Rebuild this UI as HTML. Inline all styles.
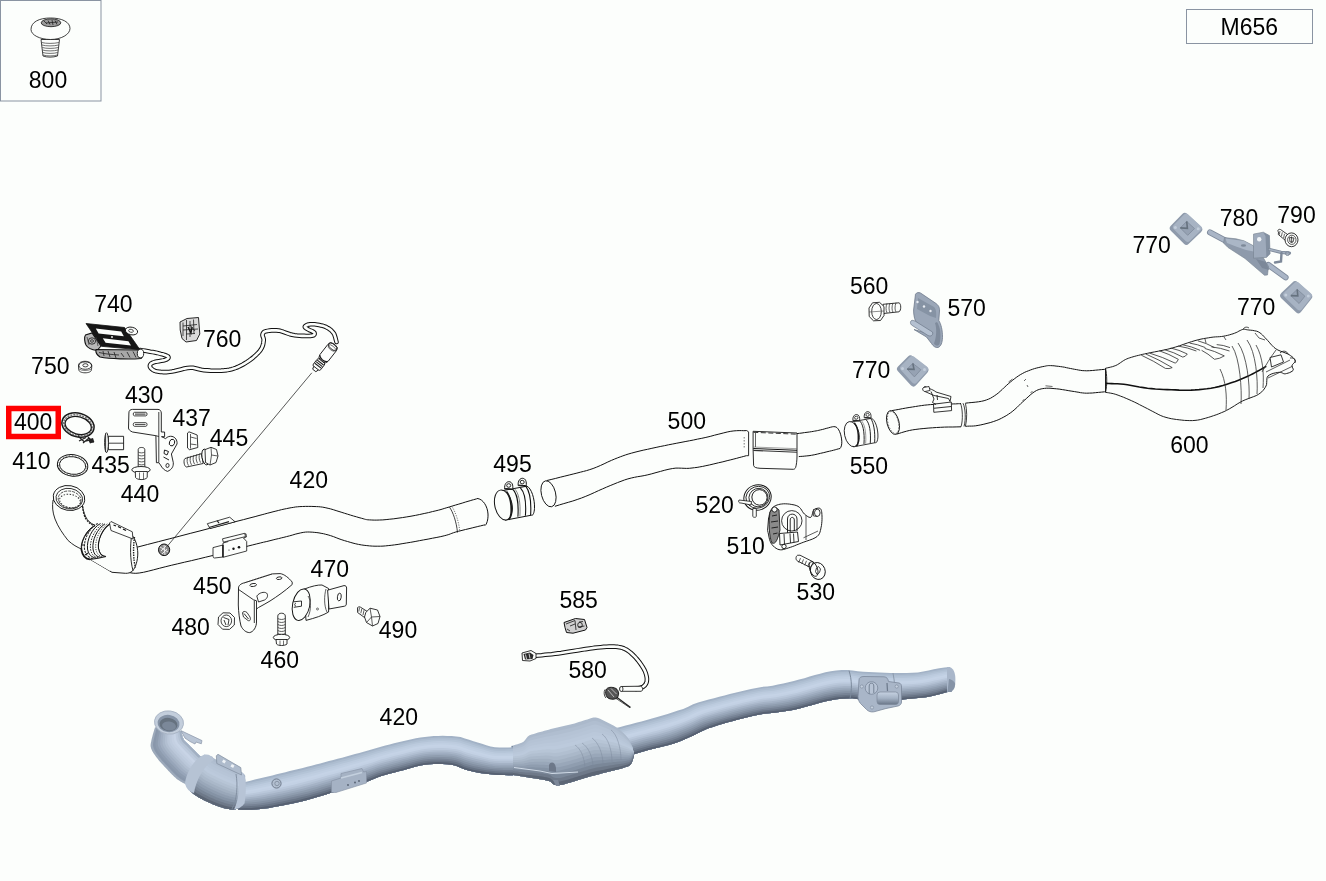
<!DOCTYPE html>
<html><head><meta charset="utf-8"><style>
html,body{margin:0;padding:0;background:#fcfefc;}
svg{position:absolute;left:0;top:0;display:block;}
</style></head><body>
<svg width="1326" height="881" viewBox="0 0 1326 881">
<defs><filter id="gs" x="-0.05" y="-0.05" width="1.1" height="1.1"><feOffset dx="0" dy="0"/></filter></defs><rect width="1326" height="881" fill="#fcfefc"/>
<defs><linearGradient id="cylg" x1="0" y1="0" x2="0" y2="1"><stop offset="0" stop-color="#c6d2e2"/><stop offset="0.5" stop-color="#a4b2c4"/><stop offset="1" stop-color="#6a7688"/></linearGradient></defs>
<polygon points="615.0,728.3 620.3,726.9 625.6,725.6 630.8,724.2 636.1,722.8 641.4,721.4 646.7,720.0 651.9,718.6 657.2,717.1 662.4,715.6 667.6,714.0 672.8,712.3 678.0,710.6 683.2,708.9 688.2,706.8 693.1,704.3 698.1,702.4 703.4,700.9 708.7,699.6 714.0,698.3 719.2,696.8 724.5,695.4 729.8,694.0 735.1,692.7 740.4,691.5 745.7,690.3 751.0,689.1 756.4,687.9 761.7,686.9 767.1,686.4 772.6,685.7 777.9,684.6 783.2,683.5 788.5,682.2 793.8,681.0 799.1,679.6 804.4,678.2 809.6,676.6 814.9,675.1 820.1,673.7 825.4,672.3 830.7,671.2 836.1,670.5 841.6,670.1 847.0,670.0 852.5,670.5 857.8,671.3 863.3,671.7 868.7,672.0 874.2,672.2 879.6,672.5 885.1,672.7 890.5,672.9 896.0,673.0 901.4,673.1 906.9,673.0 912.3,672.8 917.8,672.4 923.2,671.5 928.5,670.4 933.8,669.2 939.2,668.3 944.6,667.4 950.0,666.9 951.5,691.3 946.3,692.2 941.2,693.7 936.1,695.1 931.0,696.3 925.8,697.2 920.5,697.8 915.3,698.3 910.0,698.8 904.7,699.3 899.5,699.9 894.2,700.3 888.9,700.5 883.7,700.6 878.4,700.6 873.1,700.6 867.8,700.4 862.5,700.0 857.3,699.0 852.1,698.3 846.8,698.4 841.5,698.7 836.3,699.3 831.1,700.2 825.9,701.2 820.8,702.5 815.7,703.9 810.6,705.4 805.5,706.8 800.4,708.2 795.3,709.4 790.1,710.5 784.9,711.3 779.6,712.1 774.4,712.8 769.1,713.3 763.9,713.8 758.7,714.7 753.5,715.8 748.4,717.0 743.2,718.3 738.1,719.6 733.0,720.9 727.9,722.3 722.8,723.7 717.7,725.2 712.7,726.9 707.7,728.6 702.9,730.7 698.1,733.0 693.4,735.4 688.6,737.5 683.7,739.7 678.9,741.7 673.9,743.5 668.8,745.0 663.7,746.3 658.6,747.5 653.4,748.7 648.3,750.0 643.2,751.4 638.1,752.9 633.1,754.5 628.0,756.0" fill="#a2b2c6"/>
<polygon points="615.8,730.0 621.1,728.7 626.3,727.3 631.6,725.9 636.9,724.5 642.1,723.1 647.4,721.7 652.7,720.3 657.9,718.9 663.1,717.3 668.3,715.7 673.5,714.0 678.7,712.3 683.8,710.5 688.8,708.5 693.7,706.0 698.7,704.0 704.0,702.5 709.3,701.2 714.5,699.9 719.8,698.4 725.0,697.0 730.3,695.6 735.6,694.3 740.9,693.1 746.2,691.9 751.5,690.7 756.8,689.5 762.2,688.6 767.6,688.0 773.0,687.4 778.3,686.3 783.7,685.2 789.0,683.9 794.3,682.7 799.5,681.3 804.8,679.9 810.0,678.4 815.2,676.8 820.5,675.4 825.8,674.1 831.1,673.0 836.5,672.2 841.9,671.9 847.4,671.8 852.8,672.3 858.1,673.1 863.6,673.5 869.0,673.8 874.4,674.0 879.9,674.2 885.3,674.4 890.8,674.6 896.2,674.7 901.6,674.7 907.1,674.6 912.5,674.4 917.9,674.0 923.3,673.1 928.7,672.0 934.0,670.9 939.3,669.9 944.7,669.0 950.1,668.4 951.5,691.3 946.3,692.2 941.2,693.7 936.1,695.1 931.0,696.3 925.8,697.2 920.5,697.8 915.3,698.3 910.0,698.8 904.7,699.3 899.5,699.9 894.2,700.3 888.9,700.5 883.7,700.6 878.4,700.6 873.1,700.6 867.8,700.4 862.5,700.0 857.3,699.0 852.1,698.3 846.8,698.4 841.5,698.7 836.3,699.3 831.1,700.2 825.9,701.2 820.8,702.5 815.7,703.9 810.6,705.4 805.5,706.8 800.4,708.2 795.3,709.4 790.1,710.5 784.9,711.3 779.6,712.1 774.4,712.8 769.1,713.3 763.9,713.8 758.7,714.7 753.5,715.8 748.4,717.0 743.2,718.3 738.1,719.6 733.0,720.9 727.9,722.3 722.8,723.7 717.7,725.2 712.7,726.9 707.7,728.6 702.9,730.7 698.1,733.0 693.4,735.4 688.6,737.5 683.7,739.7 678.9,741.7 673.9,743.5 668.8,745.0 663.7,746.3 658.6,747.5 653.4,748.7 648.3,750.0 643.2,751.4 638.1,752.9 633.1,754.5 628.0,756.0" fill="#adbdd0"/>
<polygon points="616.6,731.8 621.9,730.4 627.1,729.0 632.4,727.6 637.6,726.2 642.9,724.8 648.1,723.5 653.4,722.1 658.6,720.6 663.8,719.1 669.0,717.4 674.2,715.8 679.3,714.0 684.4,712.2 689.5,710.1 694.3,707.6 699.3,705.7 704.6,704.2 709.8,702.8 715.1,701.4 720.3,700.0 725.6,698.6 730.8,697.2 736.1,695.9 741.4,694.7 746.7,693.5 752.0,692.3 757.3,691.2 762.6,690.2 768.1,689.7 773.4,689.0 778.8,688.0 784.1,686.9 789.4,685.6 794.7,684.4 799.9,683.0 805.2,681.6 810.4,680.1 815.6,678.6 820.8,677.1 826.1,675.8 831.4,674.7 836.8,674.0 842.2,673.6 847.7,673.5 853.1,674.1 858.4,674.9 863.8,675.3 869.3,675.6 874.7,675.8 880.1,676.0 885.6,676.2 891.0,676.3 896.4,676.4 901.8,676.3 907.3,676.2 912.7,676.0 918.1,675.5 923.5,674.7 928.8,673.7 934.1,672.5 939.4,671.4 944.8,670.5 950.2,670.0 951.5,691.3 946.3,692.2 941.2,693.7 936.1,695.1 931.0,696.3 925.8,697.2 920.5,697.8 915.3,698.3 910.0,698.8 904.7,699.3 899.5,699.9 894.2,700.3 888.9,700.5 883.7,700.6 878.4,700.6 873.1,700.6 867.8,700.4 862.5,700.0 857.3,699.0 852.1,698.3 846.8,698.4 841.5,698.7 836.3,699.3 831.1,700.2 825.9,701.2 820.8,702.5 815.7,703.9 810.6,705.4 805.5,706.8 800.4,708.2 795.3,709.4 790.1,710.5 784.9,711.3 779.6,712.1 774.4,712.8 769.1,713.3 763.9,713.8 758.7,714.7 753.5,715.8 748.4,717.0 743.2,718.3 738.1,719.6 733.0,720.9 727.9,722.3 722.8,723.7 717.7,725.2 712.7,726.9 707.7,728.6 702.9,730.7 698.1,733.0 693.4,735.4 688.6,737.5 683.7,739.7 678.9,741.7 673.9,743.5 668.8,745.0 663.7,746.3 658.6,747.5 653.4,748.7 648.3,750.0 643.2,751.4 638.1,752.9 633.1,754.5 628.0,756.0" fill="#b4c4d7"/>
<polygon points="617.4,733.5 622.7,732.1 627.9,730.7 633.2,729.3 638.4,727.9 643.6,726.5 648.9,725.2 654.1,723.8 659.4,722.3 664.6,720.8 669.7,719.2 674.9,717.5 680.0,715.7 685.1,713.8 690.1,711.8 694.9,709.3 699.9,707.3 705.1,705.8 710.4,704.4 715.6,703.0 720.9,701.6 726.1,700.2 731.3,698.8 736.6,697.5 741.9,696.3 747.2,695.1 752.5,693.9 757.8,692.8 763.1,691.8 768.5,691.3 773.9,690.7 779.2,689.7 784.5,688.5 789.8,687.3 795.1,686.1 800.3,684.7 805.6,683.3 810.8,681.8 816.0,680.3 821.2,678.8 826.5,677.5 831.8,676.5 837.2,675.8 842.6,675.4 848.0,675.3 853.4,675.8 858.7,676.7 864.1,677.1 869.5,677.3 875.0,677.6 880.4,677.7 885.8,677.9 891.2,678.0 896.6,678.0 902.1,678.0 907.5,677.8 912.9,677.6 918.3,677.1 923.7,676.3 929.0,675.3 934.3,674.1 939.6,673.0 944.9,672.1 950.3,671.5 951.5,691.3 946.3,692.2 941.2,693.7 936.1,695.1 931.0,696.3 925.8,697.2 920.5,697.8 915.3,698.3 910.0,698.8 904.7,699.3 899.5,699.9 894.2,700.3 888.9,700.5 883.7,700.6 878.4,700.6 873.1,700.6 867.8,700.4 862.5,700.0 857.3,699.0 852.1,698.3 846.8,698.4 841.5,698.7 836.3,699.3 831.1,700.2 825.9,701.2 820.8,702.5 815.7,703.9 810.6,705.4 805.5,706.8 800.4,708.2 795.3,709.4 790.1,710.5 784.9,711.3 779.6,712.1 774.4,712.8 769.1,713.3 763.9,713.8 758.7,714.7 753.5,715.8 748.4,717.0 743.2,718.3 738.1,719.6 733.0,720.9 727.9,722.3 722.8,723.7 717.7,725.2 712.7,726.9 707.7,728.6 702.9,730.7 698.1,733.0 693.4,735.4 688.6,737.5 683.7,739.7 678.9,741.7 673.9,743.5 668.8,745.0 663.7,746.3 658.6,747.5 653.4,748.7 648.3,750.0 643.2,751.4 638.1,752.9 633.1,754.5 628.0,756.0" fill="#bccbde"/>
<polygon points="618.2,735.2 623.5,733.8 628.7,732.4 633.9,731.0 639.2,729.6 644.4,728.2 649.6,726.9 654.9,725.5 660.1,724.1 665.3,722.6 670.4,720.9 675.6,719.2 680.6,717.4 685.7,715.5 690.7,713.4 695.5,710.9 700.5,708.9 705.7,707.4 711.0,706.0 716.2,704.6 721.4,703.2 726.6,701.8 731.9,700.4 737.1,699.1 742.4,697.9 747.7,696.6 752.9,695.5 758.2,694.4 763.6,693.5 769.0,693.0 774.3,692.3 779.6,691.3 784.9,690.2 790.2,689.0 795.5,687.8 800.7,686.4 805.9,685.0 811.1,683.5 816.3,682.0 821.6,680.6 826.8,679.3 832.1,678.3 837.5,677.5 842.9,677.2 848.3,677.1 853.7,677.6 859.0,678.5 864.4,678.9 869.8,679.1 875.2,679.3 880.6,679.5 886.0,679.6 891.5,679.7 896.9,679.7 902.3,679.6 907.7,679.5 913.1,679.2 918.5,678.7 923.8,678.0 929.1,676.9 934.4,675.7 939.7,674.6 945.0,673.6 950.4,673.0 951.5,691.3 946.3,692.2 941.2,693.7 936.1,695.1 931.0,696.3 925.8,697.2 920.5,697.8 915.3,698.3 910.0,698.8 904.7,699.3 899.5,699.9 894.2,700.3 888.9,700.5 883.7,700.6 878.4,700.6 873.1,700.6 867.8,700.4 862.5,700.0 857.3,699.0 852.1,698.3 846.8,698.4 841.5,698.7 836.3,699.3 831.1,700.2 825.9,701.2 820.8,702.5 815.7,703.9 810.6,705.4 805.5,706.8 800.4,708.2 795.3,709.4 790.1,710.5 784.9,711.3 779.6,712.1 774.4,712.8 769.1,713.3 763.9,713.8 758.7,714.7 753.5,715.8 748.4,717.0 743.2,718.3 738.1,719.6 733.0,720.9 727.9,722.3 722.8,723.7 717.7,725.2 712.7,726.9 707.7,728.6 702.9,730.7 698.1,733.0 693.4,735.4 688.6,737.5 683.7,739.7 678.9,741.7 673.9,743.5 668.8,745.0 663.7,746.3 658.6,747.5 653.4,748.7 648.3,750.0 643.2,751.4 638.1,752.9 633.1,754.5 628.0,756.0" fill="#c0cfe2"/>
<polygon points="619.1,737.0 624.3,735.5 629.5,734.1 634.7,732.7 639.9,731.3 645.1,730.0 650.4,728.6 655.6,727.3 660.8,725.8 666.0,724.3 671.1,722.6 676.2,720.9 681.3,719.1 686.4,717.2 691.3,715.0 696.1,712.6 701.1,710.6 706.3,709.0 711.5,707.6 716.7,706.2 722.0,704.8 727.2,703.4 732.4,702.0 737.6,700.7 742.9,699.5 748.1,698.2 753.4,697.1 758.7,696.0 764.0,695.1 769.4,694.6 774.8,694.0 780.1,693.0 785.4,691.9 790.6,690.7 795.9,689.5 801.1,688.1 806.3,686.7 811.5,685.2 816.7,683.7 821.9,682.3 827.2,681.0 832.5,680.0 837.8,679.3 843.2,678.9 848.6,678.9 854.0,679.4 859.3,680.3 864.7,680.7 870.1,680.9 875.5,681.1 880.9,681.3 886.3,681.4 891.7,681.4 897.1,681.4 902.5,681.2 907.9,681.1 913.3,680.8 918.6,680.3 924.0,679.6 929.3,678.5 934.5,677.3 939.8,676.2 945.1,675.1 950.5,674.5 951.5,691.3 946.3,692.2 941.2,693.7 936.1,695.1 931.0,696.3 925.8,697.2 920.5,697.8 915.3,698.3 910.0,698.8 904.7,699.3 899.5,699.9 894.2,700.3 888.9,700.5 883.7,700.6 878.4,700.6 873.1,700.6 867.8,700.4 862.5,700.0 857.3,699.0 852.1,698.3 846.8,698.4 841.5,698.7 836.3,699.3 831.1,700.2 825.9,701.2 820.8,702.5 815.7,703.9 810.6,705.4 805.5,706.8 800.4,708.2 795.3,709.4 790.1,710.5 784.9,711.3 779.6,712.1 774.4,712.8 769.1,713.3 763.9,713.8 758.7,714.7 753.5,715.8 748.4,717.0 743.2,718.3 738.1,719.6 733.0,720.9 727.9,722.3 722.8,723.7 717.7,725.2 712.7,726.9 707.7,728.6 702.9,730.7 698.1,733.0 693.4,735.4 688.6,737.5 683.7,739.7 678.9,741.7 673.9,743.5 668.8,745.0 663.7,746.3 658.6,747.5 653.4,748.7 648.3,750.0 643.2,751.4 638.1,752.9 633.1,754.5 628.0,756.0" fill="#c5d3e6"/>
<polygon points="619.9,738.7 625.1,737.3 630.3,735.8 635.5,734.4 640.7,733.0 645.9,731.7 651.1,730.3 656.3,729.0 661.5,727.6 666.7,726.0 671.8,724.4 676.9,722.6 682.0,720.7 687.0,718.8 691.9,716.7 696.7,714.2 701.7,712.2 706.9,710.6 712.1,709.2 717.3,707.8 722.5,706.4 727.7,705.0 732.9,703.6 738.1,702.3 743.4,701.1 748.6,699.8 753.9,698.7 759.2,697.6 764.5,696.8 769.9,696.3 775.2,695.6 780.5,694.7 785.8,693.6 791.1,692.4 796.3,691.2 801.5,689.8 806.7,688.4 811.9,686.9 817.1,685.4 822.3,684.0 827.5,682.8 832.8,681.8 838.2,681.1 843.5,680.7 848.9,680.6 854.3,681.2 859.6,682.1 865.0,682.5 870.4,682.7 875.8,682.9 881.1,683.0 886.5,683.1 891.9,683.1 897.3,683.1 902.7,682.9 908.1,682.7 913.4,682.4 918.8,681.9 924.1,681.2 929.4,680.1 934.7,678.9 940.0,677.8 945.2,676.7 950.6,676.0 951.5,691.3 946.3,692.2 941.2,693.7 936.1,695.1 931.0,696.3 925.8,697.2 920.5,697.8 915.3,698.3 910.0,698.8 904.7,699.3 899.5,699.9 894.2,700.3 888.9,700.5 883.7,700.6 878.4,700.6 873.1,700.6 867.8,700.4 862.5,700.0 857.3,699.0 852.1,698.3 846.8,698.4 841.5,698.7 836.3,699.3 831.1,700.2 825.9,701.2 820.8,702.5 815.7,703.9 810.6,705.4 805.5,706.8 800.4,708.2 795.3,709.4 790.1,710.5 784.9,711.3 779.6,712.1 774.4,712.8 769.1,713.3 763.9,713.8 758.7,714.7 753.5,715.8 748.4,717.0 743.2,718.3 738.1,719.6 733.0,720.9 727.9,722.3 722.8,723.7 717.7,725.2 712.7,726.9 707.7,728.6 702.9,730.7 698.1,733.0 693.4,735.4 688.6,737.5 683.7,739.7 678.9,741.7 673.9,743.5 668.8,745.0 663.7,746.3 658.6,747.5 653.4,748.7 648.3,750.0 643.2,751.4 638.1,752.9 633.1,754.5 628.0,756.0" fill="#c3d1e4"/>
<polygon points="620.7,740.4 625.9,739.0 631.1,737.5 636.2,736.1 641.4,734.7 646.6,733.4 651.9,732.1 657.1,730.7 662.3,729.3 667.4,727.8 672.5,726.1 677.6,724.3 682.6,722.4 687.6,720.5 692.6,718.3 697.4,715.9 702.3,713.9 707.5,712.3 712.7,710.8 717.8,709.4 723.0,708.0 728.2,706.6 733.4,705.2 738.6,703.9 743.9,702.6 749.1,701.4 754.4,700.3 759.7,699.2 765.0,698.4 770.3,697.9 775.7,697.3 781.0,696.3 786.2,695.3 791.5,694.1 796.7,692.9 801.9,691.5 807.1,690.1 812.3,688.6 817.5,687.1 822.6,685.7 827.9,684.5 833.2,683.5 838.5,682.8 843.9,682.5 849.3,682.4 854.6,683.0 859.9,683.9 865.3,684.3 870.6,684.5 876.0,684.6 881.4,684.8 886.8,684.8 892.1,684.9 897.5,684.8 902.9,684.5 908.3,684.3 913.6,684.0 919.0,683.5 924.3,682.8 929.6,681.8 934.8,680.6 940.1,679.4 945.3,678.2 950.7,677.6 951.5,691.3 946.3,692.2 941.2,693.7 936.1,695.1 931.0,696.3 925.8,697.2 920.5,697.8 915.3,698.3 910.0,698.8 904.7,699.3 899.5,699.9 894.2,700.3 888.9,700.5 883.7,700.6 878.4,700.6 873.1,700.6 867.8,700.4 862.5,700.0 857.3,699.0 852.1,698.3 846.8,698.4 841.5,698.7 836.3,699.3 831.1,700.2 825.9,701.2 820.8,702.5 815.7,703.9 810.6,705.4 805.5,706.8 800.4,708.2 795.3,709.4 790.1,710.5 784.9,711.3 779.6,712.1 774.4,712.8 769.1,713.3 763.9,713.8 758.7,714.7 753.5,715.8 748.4,717.0 743.2,718.3 738.1,719.6 733.0,720.9 727.9,722.3 722.8,723.7 717.7,725.2 712.7,726.9 707.7,728.6 702.9,730.7 698.1,733.0 693.4,735.4 688.6,737.5 683.7,739.7 678.9,741.7 673.9,743.5 668.8,745.0 663.7,746.3 658.6,747.5 653.4,748.7 648.3,750.0 643.2,751.4 638.1,752.9 633.1,754.5 628.0,756.0" fill="#bac8db"/>
<polygon points="621.5,742.1 626.7,740.7 631.8,739.3 637.0,737.8 642.2,736.4 647.4,735.1 652.6,733.8 657.8,732.5 663.0,731.1 668.1,729.5 673.2,727.8 678.3,726.0 683.3,724.1 688.3,722.1 693.2,719.9 698.0,717.5 702.9,715.5 708.1,713.9 713.2,712.4 718.4,711.0 723.6,709.6 728.8,708.2 733.9,706.8 739.2,705.5 744.4,704.2 749.6,703.0 754.9,701.9 760.1,700.8 765.4,700.1 770.8,699.6 776.1,698.9 781.4,698.0 786.7,697.0 791.9,695.8 797.1,694.6 802.3,693.2 807.5,691.8 812.7,690.3 817.8,688.8 823.0,687.4 828.2,686.2 833.5,685.3 838.8,684.6 844.2,684.2 849.6,684.2 854.9,684.8 860.2,685.7 865.5,686.0 870.9,686.3 876.3,686.4 881.6,686.5 887.0,686.6 892.4,686.6 897.7,686.5 903.1,686.2 908.4,685.9 913.8,685.6 919.2,685.1 924.5,684.4 929.8,683.4 935.0,682.2 940.2,681.0 945.4,679.8 950.8,679.1 951.5,691.3 946.3,692.2 941.2,693.7 936.1,695.1 931.0,696.3 925.8,697.2 920.5,697.8 915.3,698.3 910.0,698.8 904.7,699.3 899.5,699.9 894.2,700.3 888.9,700.5 883.7,700.6 878.4,700.6 873.1,700.6 867.8,700.4 862.5,700.0 857.3,699.0 852.1,698.3 846.8,698.4 841.5,698.7 836.3,699.3 831.1,700.2 825.9,701.2 820.8,702.5 815.7,703.9 810.6,705.4 805.5,706.8 800.4,708.2 795.3,709.4 790.1,710.5 784.9,711.3 779.6,712.1 774.4,712.8 769.1,713.3 763.9,713.8 758.7,714.7 753.5,715.8 748.4,717.0 743.2,718.3 738.1,719.6 733.0,720.9 727.9,722.3 722.8,723.7 717.7,725.2 712.7,726.9 707.7,728.6 702.9,730.7 698.1,733.0 693.4,735.4 688.6,737.5 683.7,739.7 678.9,741.7 673.9,743.5 668.8,745.0 663.7,746.3 658.6,747.5 653.4,748.7 648.3,750.0 643.2,751.4 638.1,752.9 633.1,754.5 628.0,756.0" fill="#b1bfd2"/>
<polygon points="622.3,743.9 627.5,742.4 632.6,741.0 637.8,739.5 643.0,738.1 648.1,736.8 653.3,735.5 658.5,734.2 663.7,732.8 668.9,731.3 673.9,729.6 679.0,727.7 683.9,725.8 688.9,723.8 693.8,721.6 698.6,719.2 703.5,717.1 708.6,715.5 713.8,714.0 718.9,712.6 724.1,711.2 729.3,709.8 734.5,708.4 739.7,707.1 744.9,705.8 750.1,704.6 755.3,703.5 760.6,702.5 765.9,701.7 771.2,701.2 776.5,700.5 781.8,699.7 787.1,698.7 792.3,697.5 797.5,696.3 802.7,694.9 807.9,693.5 813.0,692.0 818.2,690.5 823.4,689.2 828.6,688.0 833.9,687.0 839.2,686.4 844.5,686.0 849.9,685.9 855.2,686.5 860.5,687.5 865.8,687.8 871.2,688.1 876.5,688.2 881.9,688.3 887.3,688.3 892.6,688.3 898.0,688.1 903.3,687.8 908.6,687.5 914.0,687.1 919.3,686.7 924.6,686.0 929.9,685.0 935.1,683.8 940.3,682.6 945.5,681.3 950.8,680.6 951.5,691.3 946.3,692.2 941.2,693.7 936.1,695.1 931.0,696.3 925.8,697.2 920.5,697.8 915.3,698.3 910.0,698.8 904.7,699.3 899.5,699.9 894.2,700.3 888.9,700.5 883.7,700.6 878.4,700.6 873.1,700.6 867.8,700.4 862.5,700.0 857.3,699.0 852.1,698.3 846.8,698.4 841.5,698.7 836.3,699.3 831.1,700.2 825.9,701.2 820.8,702.5 815.7,703.9 810.6,705.4 805.5,706.8 800.4,708.2 795.3,709.4 790.1,710.5 784.9,711.3 779.6,712.1 774.4,712.8 769.1,713.3 763.9,713.8 758.7,714.7 753.5,715.8 748.4,717.0 743.2,718.3 738.1,719.6 733.0,720.9 727.9,722.3 722.8,723.7 717.7,725.2 712.7,726.9 707.7,728.6 702.9,730.7 698.1,733.0 693.4,735.4 688.6,737.5 683.7,739.7 678.9,741.7 673.9,743.5 668.8,745.0 663.7,746.3 658.6,747.5 653.4,748.7 648.3,750.0 643.2,751.4 638.1,752.9 633.1,754.5 628.0,756.0" fill="#a5b3c6"/>
<polygon points="623.1,745.6 628.3,744.1 633.4,742.7 638.6,741.2 643.7,739.8 648.9,738.5 654.1,737.2 659.3,735.9 664.5,734.6 669.6,733.0 674.6,731.3 679.6,729.4 684.6,727.5 689.6,725.4 694.4,723.2 699.2,720.8 704.1,718.8 709.2,717.1 714.4,715.6 719.5,714.2 724.7,712.8 729.8,711.3 735.0,710.0 740.2,708.7 745.4,707.4 750.6,706.2 755.8,705.1 761.1,704.1 766.4,703.4 771.7,702.9 777.0,702.2 782.3,701.3 787.5,700.4 792.8,699.2 798.0,698.0 803.1,696.6 808.3,695.2 813.4,693.7 818.6,692.2 823.7,690.9 828.9,689.7 834.2,688.8 839.5,688.1 844.9,687.8 850.2,687.7 855.5,688.3 860.8,689.2 866.1,689.6 871.5,689.8 876.8,690.0 882.1,690.0 887.5,690.1 892.8,690.0 898.2,689.8 903.5,689.4 908.8,689.1 914.2,688.7 919.5,688.2 924.8,687.6 930.1,686.6 935.3,685.4 940.5,684.1 945.7,682.9 950.9,682.1 951.5,691.3 946.3,692.2 941.2,693.7 936.1,695.1 931.0,696.3 925.8,697.2 920.5,697.8 915.3,698.3 910.0,698.8 904.7,699.3 899.5,699.9 894.2,700.3 888.9,700.5 883.7,700.6 878.4,700.6 873.1,700.6 867.8,700.4 862.5,700.0 857.3,699.0 852.1,698.3 846.8,698.4 841.5,698.7 836.3,699.3 831.1,700.2 825.9,701.2 820.8,702.5 815.7,703.9 810.6,705.4 805.5,706.8 800.4,708.2 795.3,709.4 790.1,710.5 784.9,711.3 779.6,712.1 774.4,712.8 769.1,713.3 763.9,713.8 758.7,714.7 753.5,715.8 748.4,717.0 743.2,718.3 738.1,719.6 733.0,720.9 727.9,722.3 722.8,723.7 717.7,725.2 712.7,726.9 707.7,728.6 702.9,730.7 698.1,733.0 693.4,735.4 688.6,737.5 683.7,739.7 678.9,741.7 673.9,743.5 668.8,745.0 663.7,746.3 658.6,747.5 653.4,748.7 648.3,750.0 643.2,751.4 638.1,752.9 633.1,754.5 628.0,756.0" fill="#9aa8bb"/>
<polygon points="623.9,747.3 629.1,745.9 634.2,744.4 639.3,742.9 644.5,741.5 649.6,740.2 654.8,738.9 660.0,737.7 665.2,736.3 670.3,734.8 675.3,733.0 680.3,731.1 685.3,729.1 690.2,727.1 695.0,724.8 699.8,722.5 704.7,720.4 709.8,718.7 714.9,717.2 720.1,715.8 725.2,714.4 730.3,712.9 735.5,711.6 740.7,710.3 745.9,709.0 751.1,707.8 756.3,706.7 761.5,705.7 766.8,705.0 772.1,704.5 777.4,703.8 782.7,703.0 787.9,702.0 793.2,700.9 798.4,699.7 803.5,698.3 808.7,696.9 813.8,695.4 818.9,694.0 824.1,692.6 829.3,691.5 834.6,690.5 839.9,689.9 845.2,689.5 850.5,689.5 855.8,690.1 861.1,691.0 866.4,691.4 871.7,691.6 877.1,691.7 882.4,691.8 887.7,691.8 893.1,691.7 898.4,691.5 903.7,691.1 909.0,690.7 914.4,690.3 919.7,689.8 925.0,689.2 930.2,688.2 935.4,687.0 940.6,685.7 945.8,684.4 951.0,683.7 951.5,691.3 946.3,692.2 941.2,693.7 936.1,695.1 931.0,696.3 925.8,697.2 920.5,697.8 915.3,698.3 910.0,698.8 904.7,699.3 899.5,699.9 894.2,700.3 888.9,700.5 883.7,700.6 878.4,700.6 873.1,700.6 867.8,700.4 862.5,700.0 857.3,699.0 852.1,698.3 846.8,698.4 841.5,698.7 836.3,699.3 831.1,700.2 825.9,701.2 820.8,702.5 815.7,703.9 810.6,705.4 805.5,706.8 800.4,708.2 795.3,709.4 790.1,710.5 784.9,711.3 779.6,712.1 774.4,712.8 769.1,713.3 763.9,713.8 758.7,714.7 753.5,715.8 748.4,717.0 743.2,718.3 738.1,719.6 733.0,720.9 727.9,722.3 722.8,723.7 717.7,725.2 712.7,726.9 707.7,728.6 702.9,730.7 698.1,733.0 693.4,735.4 688.6,737.5 683.7,739.7 678.9,741.7 673.9,743.5 668.8,745.0 663.7,746.3 658.6,747.5 653.4,748.7 648.3,750.0 643.2,751.4 638.1,752.9 633.1,754.5 628.0,756.0" fill="#8f9daf"/>
<polygon points="624.8,749.1 629.9,747.6 635.0,746.1 640.1,744.6 645.2,743.2 650.4,741.9 655.6,740.6 660.8,739.4 665.9,738.1 671.0,736.5 676.0,734.8 681.0,732.8 685.9,730.8 690.8,728.7 695.6,726.5 700.4,724.1 705.3,722.1 710.4,720.4 715.5,718.8 720.6,717.4 725.7,715.9 730.9,714.5 736.0,713.2 741.2,711.9 746.4,710.6 751.6,709.4 756.8,708.3 762.0,707.3 767.3,706.7 772.6,706.2 777.9,705.5 783.1,704.7 788.4,703.7 793.6,702.6 798.8,701.4 803.9,700.0 809.0,698.6 814.2,697.1 819.3,695.7 824.5,694.3 829.7,693.2 834.9,692.3 840.2,691.7 845.5,691.3 850.8,691.3 856.1,691.9 861.4,692.8 866.7,693.2 872.0,693.4 877.3,693.5 882.7,693.6 888.0,693.5 893.3,693.4 898.6,693.2 903.9,692.7 909.2,692.3 914.5,691.9 919.8,691.4 925.1,690.8 930.4,689.8 935.6,688.7 940.7,687.3 945.9,686.0 951.1,685.2 951.5,691.3 946.3,692.2 941.2,693.7 936.1,695.1 931.0,696.3 925.8,697.2 920.5,697.8 915.3,698.3 910.0,698.8 904.7,699.3 899.5,699.9 894.2,700.3 888.9,700.5 883.7,700.6 878.4,700.6 873.1,700.6 867.8,700.4 862.5,700.0 857.3,699.0 852.1,698.3 846.8,698.4 841.5,698.7 836.3,699.3 831.1,700.2 825.9,701.2 820.8,702.5 815.7,703.9 810.6,705.4 805.5,706.8 800.4,708.2 795.3,709.4 790.1,710.5 784.9,711.3 779.6,712.1 774.4,712.8 769.1,713.3 763.9,713.8 758.7,714.7 753.5,715.8 748.4,717.0 743.2,718.3 738.1,719.6 733.0,720.9 727.9,722.3 722.8,723.7 717.7,725.2 712.7,726.9 707.7,728.6 702.9,730.7 698.1,733.0 693.4,735.4 688.6,737.5 683.7,739.7 678.9,741.7 673.9,743.5 668.8,745.0 663.7,746.3 658.6,747.5 653.4,748.7 648.3,750.0 643.2,751.4 638.1,752.9 633.1,754.5 628.0,756.0" fill="#8491a3"/>
<polygon points="625.6,750.8 630.7,749.3 635.8,747.8 640.9,746.3 646.0,744.9 651.1,743.6 656.3,742.4 661.5,741.1 666.6,739.8 671.7,738.3 676.7,736.5 681.7,734.6 686.6,732.5 691.5,730.4 696.3,728.1 701.0,725.8 705.9,723.7 711.0,722.0 716.0,720.4 721.2,719.0 726.3,717.5 731.4,716.1 736.6,714.8 741.7,713.5 746.9,712.2 752.0,711.0 757.2,709.9 762.5,708.9 767.8,708.3 773.0,707.8 778.3,707.1 783.6,706.3 788.8,705.4 794.0,704.3 799.2,703.1 804.3,701.7 809.4,700.3 814.5,698.8 819.7,697.4 824.8,696.1 830.0,694.9 835.3,694.1 840.5,693.4 845.8,693.1 851.2,693.0 856.4,693.7 861.7,694.6 867.0,695.0 872.3,695.2 877.6,695.3 882.9,695.3 888.2,695.3 893.5,695.1 898.8,694.9 904.1,694.4 909.4,693.9 914.7,693.5 920.0,693.0 925.3,692.4 930.5,691.5 935.7,690.3 940.8,688.9 946.0,687.5 951.2,686.7 951.5,691.3 946.3,692.2 941.2,693.7 936.1,695.1 931.0,696.3 925.8,697.2 920.5,697.8 915.3,698.3 910.0,698.8 904.7,699.3 899.5,699.9 894.2,700.3 888.9,700.5 883.7,700.6 878.4,700.6 873.1,700.6 867.8,700.4 862.5,700.0 857.3,699.0 852.1,698.3 846.8,698.4 841.5,698.7 836.3,699.3 831.1,700.2 825.9,701.2 820.8,702.5 815.7,703.9 810.6,705.4 805.5,706.8 800.4,708.2 795.3,709.4 790.1,710.5 784.9,711.3 779.6,712.1 774.4,712.8 769.1,713.3 763.9,713.8 758.7,714.7 753.5,715.8 748.4,717.0 743.2,718.3 738.1,719.6 733.0,720.9 727.9,722.3 722.8,723.7 717.7,725.2 712.7,726.9 707.7,728.6 702.9,730.7 698.1,733.0 693.4,735.4 688.6,737.5 683.7,739.7 678.9,741.7 673.9,743.5 668.8,745.0 663.7,746.3 658.6,747.5 653.4,748.7 648.3,750.0 643.2,751.4 638.1,752.9 633.1,754.5 628.0,756.0" fill="#778395"/>
<polygon points="626.4,752.5 631.5,751.0 636.5,749.5 641.6,748.0 646.8,746.6 651.9,745.3 657.1,744.1 662.2,742.9 667.4,741.5 672.4,740.0 677.4,738.2 682.4,736.3 687.2,734.2 692.1,732.1 696.9,729.8 701.6,727.4 706.5,725.4 711.5,723.6 716.6,722.0 721.7,720.6 726.8,719.1 731.9,717.7 737.1,716.4 742.2,715.1 747.4,713.8 752.5,712.6 757.7,711.5 762.9,710.5 768.2,710.0 773.5,709.5 778.8,708.8 784.0,708.0 789.2,707.1 794.4,706.0 799.6,704.8 804.7,703.4 809.8,702.0 814.9,700.5 820.0,699.1 825.2,697.8 830.4,696.7 835.6,695.8 840.9,695.2 846.2,694.9 851.5,694.8 856.7,695.5 862.0,696.4 867.2,696.8 872.5,697.0 877.9,697.1 883.2,697.1 888.5,697.0 893.8,696.9 899.1,696.5 904.3,696.0 909.6,695.5 914.9,695.1 920.2,694.6 925.5,694.0 930.7,693.1 935.9,691.9 941.0,690.5 946.1,689.1 951.3,688.2 951.5,691.3 946.3,692.2 941.2,693.7 936.1,695.1 931.0,696.3 925.8,697.2 920.5,697.8 915.3,698.3 910.0,698.8 904.7,699.3 899.5,699.9 894.2,700.3 888.9,700.5 883.7,700.6 878.4,700.6 873.1,700.6 867.8,700.4 862.5,700.0 857.3,699.0 852.1,698.3 846.8,698.4 841.5,698.7 836.3,699.3 831.1,700.2 825.9,701.2 820.8,702.5 815.7,703.9 810.6,705.4 805.5,706.8 800.4,708.2 795.3,709.4 790.1,710.5 784.9,711.3 779.6,712.1 774.4,712.8 769.1,713.3 763.9,713.8 758.7,714.7 753.5,715.8 748.4,717.0 743.2,718.3 738.1,719.6 733.0,720.9 727.9,722.3 722.8,723.7 717.7,725.2 712.7,726.9 707.7,728.6 702.9,730.7 698.1,733.0 693.4,735.4 688.6,737.5 683.7,739.7 678.9,741.7 673.9,743.5 668.8,745.0 663.7,746.3 658.6,747.5 653.4,748.7 648.3,750.0 643.2,751.4 638.1,752.9 633.1,754.5 628.0,756.0" fill="#687485"/>
<polygon points="627.2,754.3 632.3,752.8 637.3,751.2 642.4,749.7 647.5,748.3 652.7,747.0 657.8,745.8 663.0,744.6 668.1,743.3 673.2,741.8 678.2,740.0 683.1,738.0 687.9,735.9 692.7,733.7 697.5,731.4 702.3,729.1 707.1,727.0 712.1,725.2 717.2,723.6 722.3,722.1 727.4,720.7 732.5,719.3 737.6,718.0 742.7,716.7 747.9,715.4 753.0,714.2 758.2,713.1 763.4,712.1 768.7,711.6 774.0,711.1 779.2,710.4 784.4,709.7 789.7,708.8 794.9,707.7 800.0,706.5 805.1,705.1 810.2,703.7 815.3,702.2 820.4,700.8 825.5,699.5 830.7,698.4 836.0,697.6 841.2,697.0 846.5,696.6 851.8,696.6 857.0,697.2 862.2,698.2 867.5,698.6 872.8,698.8 878.1,698.8 883.4,698.8 888.7,698.7 894.0,698.6 899.3,698.2 904.5,697.6 909.8,697.2 915.1,696.7 920.4,696.2 925.6,695.6 930.8,694.7 936.0,693.5 941.1,692.1 946.2,690.6 951.4,689.8 951.5,691.3 946.3,692.2 941.2,693.7 936.1,695.1 931.0,696.3 925.8,697.2 920.5,697.8 915.3,698.3 910.0,698.8 904.7,699.3 899.5,699.9 894.2,700.3 888.9,700.5 883.7,700.6 878.4,700.6 873.1,700.6 867.8,700.4 862.5,700.0 857.3,699.0 852.1,698.3 846.8,698.4 841.5,698.7 836.3,699.3 831.1,700.2 825.9,701.2 820.8,702.5 815.7,703.9 810.6,705.4 805.5,706.8 800.4,708.2 795.3,709.4 790.1,710.5 784.9,711.3 779.6,712.1 774.4,712.8 769.1,713.3 763.9,713.8 758.7,714.7 753.5,715.8 748.4,717.0 743.2,718.3 738.1,719.6 733.0,720.9 727.9,722.3 722.8,723.7 717.7,725.2 712.7,726.9 707.7,728.6 702.9,730.7 698.1,733.0 693.4,735.4 688.6,737.5 683.7,739.7 678.9,741.7 673.9,743.5 668.8,745.0 663.7,746.3 658.6,747.5 653.4,748.7 648.3,750.0 643.2,751.4 638.1,752.9 633.1,754.5 628.0,756.0" fill="#576172"/>
<path d="M947,667 C951.5,666.3 954.8,669.5 955.3,677 C955.7,684.5 954.6,689.8 951,691.5 L947,692 Z" fill="#a9b7ca"/>
<path d="M949,679 C952,679.5 955,682 955.2,684 C954.8,688.5 953.5,690.5 951,691.5 L947.5,692 Z" fill="#7d8b9d" opacity="0.8"/>
<path d="M849,670.5 C852,680 852,690 850,698.5" fill="none" stroke="#7c8a9c" stroke-width="1"/>
<path d="M893,673 C895,682 895,692 893.5,700.5" fill="none" stroke="#8c9aac" stroke-width="1"/>
<path d="M859,680 C859,677.5 861,676.5 864,676.5 L884,676.8 C887,677 888,679 888.5,681.5 L899,683 C901,683.5 901.5,685 901.5,687 L901.5,702 C901.5,704 900,705.5 898,706 L886,708.5 L874,711.8 C871,712.3 868.5,711.5 866.5,709.5 L860.5,703.5 C858.8,701.5 858,699 858,696.5 Z" fill="#a9b6c8" stroke="#7b889a" stroke-width="0.8"/>
<circle cx="871.5" cy="688" r="6.3" fill="#b8c4d5" stroke="#7b889a" stroke-width="0.8"/>
<path d="M869.2,694 L869.2,686 C869.2,682.3 873.8,682.3 873.8,686 L873.8,693" fill="none" stroke="#6d7a8c" stroke-width="0.9"/>
<rect x="877" y="692" width="21.5" height="12.5" rx="3" fill="url(#cylg)" stroke="#7b889a" stroke-width="0.7"/>
<path d="M887,683 L887.5,691" stroke="#6d7a8c" stroke-width="1.2"/>
<circle cx="861.8" cy="686.5" r="1.6" fill="#c5d0de" stroke="#7b889a" stroke-width="0.6"/>
<circle cx="896.7" cy="686.5" r="1.6" fill="#c5d0de" stroke="#7b889a" stroke-width="0.6"/>
<circle cx="872" cy="707.5" r="1.6" fill="#c5d0de" stroke="#7b889a" stroke-width="0.6"/>
<polygon points="511.0,746.0 513.1,745.4 515.3,744.8 517.4,744.2 519.5,743.6 521.6,742.8 523.5,741.7 525.1,740.1 526.4,738.3 527.8,736.6 529.5,735.2 531.6,734.5 533.7,733.9 535.9,733.2 538.0,732.6 540.1,732.0 542.3,731.4 544.4,730.8 546.6,730.3 548.7,729.7 550.8,729.1 553.0,728.5 555.1,728.0 557.3,727.4 559.4,726.9 561.6,726.4 563.8,725.9 565.9,725.5 568.1,725.0 570.3,724.5 572.4,724.0 574.6,723.4 576.7,722.8 578.8,722.1 580.9,721.5 583.0,720.8 585.2,720.1 587.3,719.4 589.4,718.7 591.5,717.9 593.6,717.4 595.8,717.4 598.0,718.0 600.0,718.8 602.0,719.7 604.0,720.7 606.0,721.7 608.0,722.7 610.0,723.7 611.9,724.8 613.9,725.8 615.8,726.9 617.7,728.1 619.4,729.5 621.1,730.9 622.8,732.4 624.4,733.9 625.9,735.5 627.4,737.2 628.7,739.0 629.8,740.9 630.7,742.9 631.6,745.0 632.5,747.0 634.0,756.0 633.3,758.0 632.7,760.1 632.0,762.1 631.0,763.9 629.6,765.5 627.7,766.4 625.7,767.1 623.6,767.8 621.6,768.4 619.5,768.9 617.5,769.5 615.4,770.0 613.4,770.5 611.3,771.1 609.2,771.6 607.2,772.1 605.1,772.6 603.0,773.1 601.0,773.6 598.9,774.2 596.9,774.7 594.8,775.2 592.7,775.7 590.7,776.3 588.6,776.8 586.6,777.4 584.5,778.0 582.5,778.7 580.5,779.3 578.4,779.9 576.4,780.6 574.4,781.2 572.3,781.8 570.3,782.4 568.3,783.0 566.2,783.6 564.2,784.2 562.1,784.7 560.0,785.1 557.9,785.3 555.8,785.1 553.8,784.5 552.1,783.2 550.7,781.6 548.8,780.9 546.7,780.4 544.6,779.9 542.5,779.6 540.4,779.3 538.3,778.9 536.2,778.6 534.1,778.3 532.0,778.0 529.9,777.7 527.8,777.3 525.7,777.0 523.6,776.6 521.5,776.3 519.4,775.9 517.3,775.6 515.2,775.2 513.1,774.9 511.0,774.5" fill="#abb9cb"/>
<polygon points="511.0,747.8 513.1,747.2 515.3,746.7 517.4,746.2 519.5,745.6 521.6,744.9 523.5,743.9 525.1,742.4 526.5,740.7 527.9,739.1 529.7,737.9 531.8,737.2 533.9,736.6 536.0,736.1 538.1,735.5 540.3,735.0 542.4,734.5 544.6,733.9 546.7,733.4 548.8,732.9 550.9,732.5 553.0,732.0 555.2,731.6 557.3,731.1 559.5,730.5 561.6,730.1 563.8,729.6 566.0,729.1 568.1,728.6 570.3,728.1 572.4,727.6 574.6,727.0 576.7,726.4 578.8,725.7 580.9,725.1 583.0,724.4 585.1,723.7 587.2,723.0 589.3,722.3 591.4,721.6 593.5,721.1 595.8,721.0 597.9,721.5 599.9,722.3 602.0,723.1 604.0,724.0 606.0,724.9 607.9,725.8 609.9,726.7 611.9,727.7 613.8,728.6 615.8,729.6 617.6,730.7 619.4,732.0 621.1,733.3 622.8,734.6 624.4,736.0 626.0,737.5 627.5,739.0 628.8,740.6 629.9,742.3 630.8,744.0 631.7,745.8 632.6,747.6 634.0,756.0 633.3,758.0 632.7,760.1 632.0,762.1 631.0,763.9 629.6,765.5 627.7,766.4 625.7,767.1 623.6,767.8 621.6,768.4 619.5,768.9 617.5,769.5 615.4,770.0 613.4,770.5 611.3,771.1 609.2,771.6 607.2,772.1 605.1,772.6 603.0,773.1 601.0,773.6 598.9,774.2 596.9,774.7 594.8,775.2 592.7,775.7 590.7,776.3 588.6,776.8 586.6,777.4 584.5,778.0 582.5,778.7 580.5,779.3 578.4,779.9 576.4,780.6 574.4,781.2 572.3,781.8 570.3,782.4 568.3,783.0 566.2,783.6 564.2,784.2 562.1,784.7 560.0,785.1 557.9,785.3 555.8,785.1 553.8,784.5 552.1,783.2 550.7,781.6 548.8,780.9 546.7,780.4 544.6,779.9 542.5,779.6 540.4,779.3 538.3,778.9 536.2,778.6 534.1,778.3 532.0,778.0 529.9,777.7 527.8,777.3 525.7,777.0 523.6,776.6 521.5,776.3 519.4,775.9 517.3,775.6 515.2,775.2 513.1,774.9 511.0,774.5" fill="#b0bed0"/>
<polygon points="511.0,749.6 513.1,749.1 515.3,748.6 517.4,748.1 519.5,747.6 521.6,747.0 523.5,746.0 525.2,744.7 526.6,743.2 528.0,741.7 529.8,740.6 531.9,740.0 534.0,739.4 536.2,738.9 538.3,738.4 540.4,738.0 542.6,737.5 544.7,737.0 546.8,736.6 548.9,736.2 551.0,735.9 553.1,735.5 555.2,735.1 557.4,734.7 559.5,734.2 561.7,733.7 563.8,733.2 566.0,732.7 568.1,732.2 570.3,731.7 572.4,731.2 574.5,730.6 576.7,730.0 578.8,729.4 580.9,728.7 583.0,728.0 585.1,727.3 587.2,726.6 589.3,726.0 591.4,725.2 593.5,724.7 595.7,724.6 597.8,725.1 599.9,725.7 601.9,726.5 603.9,727.3 605.9,728.1 607.9,728.9 609.9,729.7 611.8,730.5 613.8,731.4 615.7,732.3 617.6,733.3 619.4,734.4 621.2,735.6 622.9,736.8 624.5,738.1 626.1,739.4 627.7,740.7 629.0,742.1 630.0,743.6 630.9,745.1 631.8,746.6 632.7,748.1 634.0,756.0 633.3,758.0 632.7,760.1 632.0,762.1 631.0,763.9 629.6,765.5 627.7,766.4 625.7,767.1 623.6,767.8 621.6,768.4 619.5,768.9 617.5,769.5 615.4,770.0 613.4,770.5 611.3,771.1 609.2,771.6 607.2,772.1 605.1,772.6 603.0,773.1 601.0,773.6 598.9,774.2 596.9,774.7 594.8,775.2 592.7,775.7 590.7,776.3 588.6,776.8 586.6,777.4 584.5,778.0 582.5,778.7 580.5,779.3 578.4,779.9 576.4,780.6 574.4,781.2 572.3,781.8 570.3,782.4 568.3,783.0 566.2,783.6 564.2,784.2 562.1,784.7 560.0,785.1 557.9,785.3 555.8,785.1 553.8,784.5 552.1,783.2 550.7,781.6 548.8,780.9 546.7,780.4 544.6,779.9 542.5,779.6 540.4,779.3 538.3,778.9 536.2,778.6 534.1,778.3 532.0,778.0 529.9,777.7 527.8,777.3 525.7,777.0 523.6,776.6 521.5,776.3 519.4,775.9 517.3,775.6 515.2,775.2 513.1,774.9 511.0,774.5" fill="#b5c3d5"/>
<polygon points="511.0,751.3 513.1,750.9 515.3,750.5 517.4,750.1 519.5,749.6 521.6,749.1 523.5,748.2 525.2,747.0 526.6,745.6 528.2,744.3 530.0,743.2 532.1,742.7 534.2,742.2 536.3,741.8 538.4,741.4 540.6,740.9 542.7,740.5 544.8,740.1 547.0,739.7 549.1,739.4 551.1,739.2 553.1,739.0 555.3,738.7 557.4,738.3 559.5,737.8 561.7,737.3 563.8,736.9 566.0,736.4 568.1,735.9 570.3,735.4 572.4,734.8 574.5,734.2 576.6,733.6 578.7,733.0 580.8,732.3 582.9,731.6 585.0,730.9 587.1,730.3 589.2,729.6 591.3,728.9 593.4,728.4 595.6,728.2 597.7,728.6 599.8,729.2 601.8,729.8 603.8,730.5 605.9,731.2 607.8,732.0 609.8,732.7 611.8,733.4 613.8,734.2 615.7,735.0 617.6,735.9 619.4,736.9 621.2,738.0 622.9,739.0 624.6,740.2 626.2,741.3 627.8,742.5 629.1,743.7 630.2,744.9 631.1,746.2 631.9,747.4 632.8,748.7 634.0,756.0 633.3,758.0 632.7,760.1 632.0,762.1 631.0,763.9 629.6,765.5 627.7,766.4 625.7,767.1 623.6,767.8 621.6,768.4 619.5,768.9 617.5,769.5 615.4,770.0 613.4,770.5 611.3,771.1 609.2,771.6 607.2,772.1 605.1,772.6 603.0,773.1 601.0,773.6 598.9,774.2 596.9,774.7 594.8,775.2 592.7,775.7 590.7,776.3 588.6,776.8 586.6,777.4 584.5,778.0 582.5,778.7 580.5,779.3 578.4,779.9 576.4,780.6 574.4,781.2 572.3,781.8 570.3,782.4 568.3,783.0 566.2,783.6 564.2,784.2 562.1,784.7 560.0,785.1 557.9,785.3 555.8,785.1 553.8,784.5 552.1,783.2 550.7,781.6 548.8,780.9 546.7,780.4 544.6,779.9 542.5,779.6 540.4,779.3 538.3,778.9 536.2,778.6 534.1,778.3 532.0,778.0 529.9,777.7 527.8,777.3 525.7,777.0 523.6,776.6 521.5,776.3 519.4,775.9 517.3,775.6 515.2,775.2 513.1,774.9 511.0,774.5" fill="#b7c5d7"/>
<polygon points="511.0,753.1 513.1,752.7 515.3,752.4 517.4,752.1 519.5,751.7 521.6,751.2 523.5,750.4 525.2,749.3 526.7,748.1 528.3,746.8 530.1,745.9 532.2,745.4 534.3,745.0 536.5,744.7 538.6,744.3 540.7,743.9 542.9,743.6 545.0,743.2 547.1,742.9 549.2,742.7 551.2,742.6 553.2,742.5 555.3,742.3 557.4,741.9 559.6,741.5 561.7,741.0 563.9,740.5 566.0,740.0 568.1,739.5 570.3,739.0 572.4,738.4 574.5,737.8 576.6,737.2 578.7,736.6 580.8,735.9 582.9,735.2 585.0,734.6 587.1,733.9 589.2,733.2 591.3,732.5 593.4,732.0 595.6,731.9 597.7,732.2 599.7,732.7 601.8,733.2 603.8,733.8 605.8,734.4 607.8,735.0 609.8,735.7 611.8,736.3 613.7,737.0 615.7,737.7 617.6,738.5 619.4,739.4 621.2,740.3 623.0,741.3 624.7,742.2 626.4,743.2 627.9,744.3 629.3,745.2 630.3,746.2 631.2,747.2 632.0,748.2 632.9,749.2 634.0,756.0 633.3,758.0 632.7,760.1 632.0,762.1 631.0,763.9 629.6,765.5 627.7,766.4 625.7,767.1 623.6,767.8 621.6,768.4 619.5,768.9 617.5,769.5 615.4,770.0 613.4,770.5 611.3,771.1 609.2,771.6 607.2,772.1 605.1,772.6 603.0,773.1 601.0,773.6 598.9,774.2 596.9,774.7 594.8,775.2 592.7,775.7 590.7,776.3 588.6,776.8 586.6,777.4 584.5,778.0 582.5,778.7 580.5,779.3 578.4,779.9 576.4,780.6 574.4,781.2 572.3,781.8 570.3,782.4 568.3,783.0 566.2,783.6 564.2,784.2 562.1,784.7 560.0,785.1 557.9,785.3 555.8,785.1 553.8,784.5 552.1,783.2 550.7,781.6 548.8,780.9 546.7,780.4 544.6,779.9 542.5,779.6 540.4,779.3 538.3,778.9 536.2,778.6 534.1,778.3 532.0,778.0 529.9,777.7 527.8,777.3 525.7,777.0 523.6,776.6 521.5,776.3 519.4,775.9 517.3,775.6 515.2,775.2 513.1,774.9 511.0,774.5" fill="#bac8da"/>
<polygon points="511.0,754.9 513.1,754.6 515.3,754.3 517.4,754.0 519.5,753.7 521.6,753.3 523.5,752.6 525.3,751.6 526.8,750.5 528.4,749.4 530.3,748.6 532.4,748.2 534.5,747.8 536.6,747.5 538.7,747.2 540.9,746.9 543.0,746.6 545.1,746.3 547.2,746.1 549.3,745.9 551.2,746.0 553.2,746.0 555.3,745.8 557.5,745.5 559.6,745.1 561.8,744.6 563.9,744.1 566.0,743.6 568.2,743.1 570.3,742.6 572.4,742.0 574.5,741.5 576.6,740.8 578.7,740.2 580.8,739.5 582.9,738.9 585.0,738.2 587.0,737.5 589.1,736.9 591.2,736.2 593.3,735.6 595.5,735.5 597.6,735.7 599.7,736.1 601.7,736.6 603.7,737.1 605.7,737.6 607.7,738.1 609.7,738.7 611.7,739.2 613.7,739.8 615.7,740.4 617.6,741.1 619.4,741.8 621.3,742.6 623.0,743.5 624.8,744.3 626.5,745.2 628.1,746.0 629.4,746.8 630.5,747.5 631.3,748.3 632.1,749.1 633.0,749.8 634.0,756.0 633.3,758.0 632.7,760.1 632.0,762.1 631.0,763.9 629.6,765.5 627.7,766.4 625.7,767.1 623.6,767.8 621.6,768.4 619.5,768.9 617.5,769.5 615.4,770.0 613.4,770.5 611.3,771.1 609.2,771.6 607.2,772.1 605.1,772.6 603.0,773.1 601.0,773.6 598.9,774.2 596.9,774.7 594.8,775.2 592.7,775.7 590.7,776.3 588.6,776.8 586.6,777.4 584.5,778.0 582.5,778.7 580.5,779.3 578.4,779.9 576.4,780.6 574.4,781.2 572.3,781.8 570.3,782.4 568.3,783.0 566.2,783.6 564.2,784.2 562.1,784.7 560.0,785.1 557.9,785.3 555.8,785.1 553.8,784.5 552.1,783.2 550.7,781.6 548.8,780.9 546.7,780.4 544.6,779.9 542.5,779.6 540.4,779.3 538.3,778.9 536.2,778.6 534.1,778.3 532.0,778.0 529.9,777.7 527.8,777.3 525.7,777.0 523.6,776.6 521.5,776.3 519.4,775.9 517.3,775.6 515.2,775.2 513.1,774.9 511.0,774.5" fill="#bccadc"/>
<polygon points="511.0,756.7 513.1,756.4 515.2,756.2 517.4,756.0 519.5,755.7 521.6,755.3 523.5,754.8 525.3,753.9 526.9,752.9 528.6,752.0 530.4,751.2 532.5,750.9 534.7,750.6 536.8,750.4 538.9,750.1 541.0,749.9 543.1,749.6 545.3,749.4 547.4,749.2 549.5,749.2 551.3,749.4 553.3,749.5 555.4,749.4 557.5,749.1 559.7,748.7 561.8,748.3 563.9,747.8 566.0,747.3 568.2,746.7 570.3,746.2 572.4,745.7 574.5,745.1 576.6,744.4 578.7,743.8 580.8,743.2 582.8,742.5 584.9,741.8 587.0,741.1 589.1,740.5 591.2,739.8 593.3,739.3 595.4,739.1 597.5,739.2 599.6,739.6 601.6,740.0 603.7,740.4 605.7,740.8 607.7,741.2 609.7,741.7 611.7,742.1 613.7,742.6 615.7,743.1 617.6,743.6 619.5,744.3 621.3,745.0 623.1,745.7 624.9,746.4 626.6,747.1 628.2,747.8 629.6,748.4 630.6,748.9 631.4,749.4 632.2,749.9 633.1,750.4 634.0,756.0 633.3,758.0 632.7,760.1 632.0,762.1 631.0,763.9 629.6,765.5 627.7,766.4 625.7,767.1 623.6,767.8 621.6,768.4 619.5,768.9 617.5,769.5 615.4,770.0 613.4,770.5 611.3,771.1 609.2,771.6 607.2,772.1 605.1,772.6 603.0,773.1 601.0,773.6 598.9,774.2 596.9,774.7 594.8,775.2 592.7,775.7 590.7,776.3 588.6,776.8 586.6,777.4 584.5,778.0 582.5,778.7 580.5,779.3 578.4,779.9 576.4,780.6 574.4,781.2 572.3,781.8 570.3,782.4 568.3,783.0 566.2,783.6 564.2,784.2 562.1,784.7 560.0,785.1 557.9,785.3 555.8,785.1 553.8,784.5 552.1,783.2 550.7,781.6 548.8,780.9 546.7,780.4 544.6,779.9 542.5,779.6 540.4,779.3 538.3,778.9 536.2,778.6 534.1,778.3 532.0,778.0 529.9,777.7 527.8,777.3 525.7,777.0 523.6,776.6 521.5,776.3 519.4,775.9 517.3,775.6 515.2,775.2 513.1,774.9 511.0,774.5" fill="#b7c5d6"/>
<polygon points="511.0,758.5 513.1,758.3 515.2,758.1 517.4,757.9 519.5,757.7 521.6,757.4 523.5,757.0 525.3,756.2 527.0,755.4 528.7,754.5 530.6,753.9 532.7,753.6 534.8,753.4 536.9,753.2 539.0,753.0 541.2,752.8 543.3,752.7 545.4,752.5 547.5,752.4 549.6,752.4 551.4,752.8 553.3,753.0 555.4,753.0 557.6,752.8 559.7,752.4 561.8,751.9 563.9,751.4 566.1,750.9 568.2,750.4 570.3,749.8 572.4,749.3 574.5,748.7 576.6,748.1 578.7,747.4 580.7,746.8 582.8,746.1 584.9,745.4 587.0,744.8 589.0,744.1 591.1,743.5 593.2,742.9 595.4,742.7 597.5,742.8 599.5,743.0 601.6,743.3 603.6,743.6 605.6,744.0 607.6,744.3 609.7,744.7 611.7,745.0 613.6,745.4 615.6,745.8 617.6,746.2 619.5,746.8 621.3,747.3 623.1,747.9 624.9,748.5 626.7,749.0 628.3,749.6 629.7,749.9 630.7,750.2 631.6,750.4 632.3,750.7 633.2,750.9 634.0,756.0 633.3,758.0 632.7,760.1 632.0,762.1 631.0,763.9 629.6,765.5 627.7,766.4 625.7,767.1 623.6,767.8 621.6,768.4 619.5,768.9 617.5,769.5 615.4,770.0 613.4,770.5 611.3,771.1 609.2,771.6 607.2,772.1 605.1,772.6 603.0,773.1 601.0,773.6 598.9,774.2 596.9,774.7 594.8,775.2 592.7,775.7 590.7,776.3 588.6,776.8 586.6,777.4 584.5,778.0 582.5,778.7 580.5,779.3 578.4,779.9 576.4,780.6 574.4,781.2 572.3,781.8 570.3,782.4 568.3,783.0 566.2,783.6 564.2,784.2 562.1,784.7 560.0,785.1 557.9,785.3 555.8,785.1 553.8,784.5 552.1,783.2 550.7,781.6 548.8,780.9 546.7,780.4 544.6,779.9 542.5,779.6 540.4,779.3 538.3,778.9 536.2,778.6 534.1,778.3 532.0,778.0 529.9,777.7 527.8,777.3 525.7,777.0 523.6,776.6 521.5,776.3 519.4,775.9 517.3,775.6 515.2,775.2 513.1,774.9 511.0,774.5" fill="#b1bfd0"/>
<polygon points="511.0,760.2 513.1,760.1 515.2,760.0 517.4,759.9 519.5,759.7 521.6,759.5 523.6,759.1 525.4,758.5 527.1,757.8 528.8,757.1 530.8,756.6 532.8,756.4 535.0,756.2 537.1,756.1 539.2,755.9 541.3,755.8 543.4,755.7 545.5,755.6 547.7,755.6 549.7,755.7 551.5,756.1 553.4,756.5 555.5,756.5 557.6,756.4 559.7,756.0 561.9,755.6 564.0,755.0 566.1,754.5 568.2,754.0 570.3,753.5 572.4,752.9 574.5,752.3 576.6,751.7 578.6,751.0 580.7,750.4 582.8,749.7 584.8,749.1 586.9,748.4 589.0,747.8 591.1,747.1 593.2,746.6 595.3,746.3 597.4,746.3 599.5,746.5 601.5,746.7 603.5,746.9 605.6,747.2 607.6,747.4 609.6,747.7 611.6,747.9 613.6,748.2 615.6,748.5 617.6,748.8 619.5,749.2 621.3,749.7 623.2,750.1 625.0,750.5 626.8,751.0 628.5,751.3 629.9,751.5 630.9,751.5 631.7,751.5 632.4,751.5 633.2,751.5 634.0,756.0 633.3,758.0 632.7,760.1 632.0,762.1 631.0,763.9 629.6,765.5 627.7,766.4 625.7,767.1 623.6,767.8 621.6,768.4 619.5,768.9 617.5,769.5 615.4,770.0 613.4,770.5 611.3,771.1 609.2,771.6 607.2,772.1 605.1,772.6 603.0,773.1 601.0,773.6 598.9,774.2 596.9,774.7 594.8,775.2 592.7,775.7 590.7,776.3 588.6,776.8 586.6,777.4 584.5,778.0 582.5,778.7 580.5,779.3 578.4,779.9 576.4,780.6 574.4,781.2 572.3,781.8 570.3,782.4 568.3,783.0 566.2,783.6 564.2,784.2 562.1,784.7 560.0,785.1 557.9,785.3 555.8,785.1 553.8,784.5 552.1,783.2 550.7,781.6 548.8,780.9 546.7,780.4 544.6,779.9 542.5,779.6 540.4,779.3 538.3,778.9 536.2,778.6 534.1,778.3 532.0,778.0 529.9,777.7 527.8,777.3 525.7,777.0 523.6,776.6 521.5,776.3 519.4,775.9 517.3,775.6 515.2,775.2 513.1,774.9 511.0,774.5" fill="#aab8c9"/>
<polygon points="511.0,762.0 513.1,762.0 515.2,761.9 517.3,761.9 519.5,761.8 521.5,761.6 523.6,761.3 525.4,760.8 527.2,760.2 529.0,759.7 530.9,759.3 533.0,759.1 535.1,759.0 537.2,758.9 539.3,758.8 541.5,758.8 543.6,758.7 545.7,758.7 547.8,758.7 549.8,758.9 551.6,759.5 553.4,760.0 555.5,760.1 557.6,760.0 559.8,759.7 561.9,759.2 564.0,758.7 566.1,758.2 568.2,757.6 570.3,757.1 572.4,756.5 574.5,755.9 576.5,755.3 578.6,754.6 580.7,754.0 582.7,753.3 584.8,752.7 586.9,752.0 589.0,751.4 591.0,750.7 593.1,750.2 595.2,749.9 597.3,749.9 599.4,749.9 601.4,750.1 603.5,750.2 605.5,750.3 607.5,750.5 609.6,750.6 611.6,750.8 613.6,751.0 615.6,751.2 617.6,751.4 619.5,751.7 621.4,752.0 623.3,752.3 625.1,752.6 626.9,752.9 628.6,753.1 630.0,753.0 631.0,752.8 631.8,752.6 632.6,752.3 633.3,752.1 634.0,756.0 633.3,758.0 632.7,760.1 632.0,762.1 631.0,763.9 629.6,765.5 627.7,766.4 625.7,767.1 623.6,767.8 621.6,768.4 619.5,768.9 617.5,769.5 615.4,770.0 613.4,770.5 611.3,771.1 609.2,771.6 607.2,772.1 605.1,772.6 603.0,773.1 601.0,773.6 598.9,774.2 596.9,774.7 594.8,775.2 592.7,775.7 590.7,776.3 588.6,776.8 586.6,777.4 584.5,778.0 582.5,778.7 580.5,779.3 578.4,779.9 576.4,780.6 574.4,781.2 572.3,781.8 570.3,782.4 568.3,783.0 566.2,783.6 564.2,784.2 562.1,784.7 560.0,785.1 557.9,785.3 555.8,785.1 553.8,784.5 552.1,783.2 550.7,781.6 548.8,780.9 546.7,780.4 544.6,779.9 542.5,779.6 540.4,779.3 538.3,778.9 536.2,778.6 534.1,778.3 532.0,778.0 529.9,777.7 527.8,777.3 525.7,777.0 523.6,776.6 521.5,776.3 519.4,775.9 517.3,775.6 515.2,775.2 513.1,774.9 511.0,774.5" fill="#a2b0c1"/>
<polygon points="511.0,763.8 513.1,763.8 515.2,763.8 517.3,763.8 519.4,763.8 521.5,763.7 523.6,763.5 525.5,763.1 527.3,762.7 529.1,762.3 531.1,761.9 533.2,761.9 535.3,761.8 537.4,761.8 539.5,761.8 541.6,761.7 543.7,761.8 545.8,761.8 547.9,761.9 550.0,762.2 551.7,762.9 553.5,763.5 555.6,763.7 557.7,763.6 559.8,763.3 561.9,762.8 564.0,762.3 566.1,761.8 568.2,761.2 570.3,760.7 572.4,760.1 574.5,759.5 576.5,758.9 578.6,758.3 580.7,757.6 582.7,757.0 584.8,756.3 586.8,755.7 588.9,755.0 591.0,754.4 593.1,753.9 595.2,753.5 597.3,753.4 599.3,753.4 601.4,753.4 603.4,753.5 605.5,753.5 607.5,753.6 609.5,753.6 611.5,753.7 613.6,753.8 615.6,753.8 617.5,754.0 619.5,754.1 621.4,754.3 623.3,754.5 625.2,754.7 627.0,754.8 628.8,754.9 630.1,754.6 631.2,754.1 631.9,753.6 632.7,753.1 633.4,752.6 634.0,756.0 633.3,758.0 632.7,760.1 632.0,762.1 631.0,763.9 629.6,765.5 627.7,766.4 625.7,767.1 623.6,767.8 621.6,768.4 619.5,768.9 617.5,769.5 615.4,770.0 613.4,770.5 611.3,771.1 609.2,771.6 607.2,772.1 605.1,772.6 603.0,773.1 601.0,773.6 598.9,774.2 596.9,774.7 594.8,775.2 592.7,775.7 590.7,776.3 588.6,776.8 586.6,777.4 584.5,778.0 582.5,778.7 580.5,779.3 578.4,779.9 576.4,780.6 574.4,781.2 572.3,781.8 570.3,782.4 568.3,783.0 566.2,783.6 564.2,784.2 562.1,784.7 560.0,785.1 557.9,785.3 555.8,785.1 553.8,784.5 552.1,783.2 550.7,781.6 548.8,780.9 546.7,780.4 544.6,779.9 542.5,779.6 540.4,779.3 538.3,778.9 536.2,778.6 534.1,778.3 532.0,778.0 529.9,777.7 527.8,777.3 525.7,777.0 523.6,776.6 521.5,776.3 519.4,775.9 517.3,775.6 515.2,775.2 513.1,774.9 511.0,774.5" fill="#99a7b9"/>
<polygon points="511.0,765.6 513.1,765.6 515.2,765.7 517.3,765.8 519.4,765.8 521.5,765.8 523.6,765.7 525.5,765.4 527.3,765.1 529.2,764.8 531.2,764.6 533.3,764.6 535.4,764.6 537.5,764.6 539.6,764.7 541.8,764.7 543.9,764.8 546.0,764.9 548.1,765.0 550.1,765.4 551.7,766.3 553.5,767.0 555.6,767.3 557.7,767.2 559.8,766.9 562.0,766.5 564.0,766.0 566.1,765.4 568.2,764.9 570.3,764.3 572.4,763.7 574.4,763.1 576.5,762.5 578.6,761.9 580.6,761.2 582.7,760.6 584.7,759.9 586.8,759.3 588.9,758.7 590.9,758.0 593.0,757.5 595.1,757.1 597.2,757.0 599.3,756.9 601.3,756.8 603.4,756.7 605.4,756.7 607.4,756.7 609.5,756.6 611.5,756.6 613.5,756.6 615.5,756.5 617.5,756.6 619.5,756.6 621.4,756.7 623.4,756.7 625.3,756.8 627.1,756.7 628.9,756.6 630.3,756.2 631.3,755.5 632.1,754.7 632.8,753.9 633.5,753.2 634.0,756.0 633.3,758.0 632.7,760.1 632.0,762.1 631.0,763.9 629.6,765.5 627.7,766.4 625.7,767.1 623.6,767.8 621.6,768.4 619.5,768.9 617.5,769.5 615.4,770.0 613.4,770.5 611.3,771.1 609.2,771.6 607.2,772.1 605.1,772.6 603.0,773.1 601.0,773.6 598.9,774.2 596.9,774.7 594.8,775.2 592.7,775.7 590.7,776.3 588.6,776.8 586.6,777.4 584.5,778.0 582.5,778.7 580.5,779.3 578.4,779.9 576.4,780.6 574.4,781.2 572.3,781.8 570.3,782.4 568.3,783.0 566.2,783.6 564.2,784.2 562.1,784.7 560.0,785.1 557.9,785.3 555.8,785.1 553.8,784.5 552.1,783.2 550.7,781.6 548.8,780.9 546.7,780.4 544.6,779.9 542.5,779.6 540.4,779.3 538.3,778.9 536.2,778.6 534.1,778.3 532.0,778.0 529.9,777.7 527.8,777.3 525.7,777.0 523.6,776.6 521.5,776.3 519.4,775.9 517.3,775.6 515.2,775.2 513.1,774.9 511.0,774.5" fill="#8f9daf"/>
<polygon points="511.0,767.4 513.1,767.5 515.2,767.6 517.3,767.7 519.4,767.8 521.5,767.9 523.6,767.9 525.5,767.7 527.4,767.6 529.4,767.4 531.4,767.3 533.5,767.3 535.6,767.4 537.7,767.5 539.8,767.6 541.9,767.7 544.0,767.8 546.1,768.0 548.2,768.2 550.2,768.7 551.8,769.7 553.6,770.5 555.6,770.8 557.8,770.9 559.9,770.6 562.0,770.1 564.1,769.6 566.1,769.0 568.2,768.5 570.3,767.9 572.4,767.3 574.4,766.7 576.5,766.1 578.5,765.5 580.6,764.8 582.6,764.2 584.7,763.5 586.7,762.9 588.8,762.3 590.9,761.7 592.9,761.1 595.0,760.7 597.1,760.5 599.2,760.3 601.2,760.2 603.3,760.0 605.3,759.9 607.4,759.8 609.4,759.6 611.5,759.5 613.5,759.4 615.5,759.2 617.5,759.1 619.5,759.1 621.5,759.0 623.4,758.9 625.3,758.8 627.2,758.7 629.0,758.4 630.4,757.7 631.4,756.8 632.2,755.8 632.9,754.8 633.6,753.8 634.0,756.0 633.3,758.0 632.7,760.1 632.0,762.1 631.0,763.9 629.6,765.5 627.7,766.4 625.7,767.1 623.6,767.8 621.6,768.4 619.5,768.9 617.5,769.5 615.4,770.0 613.4,770.5 611.3,771.1 609.2,771.6 607.2,772.1 605.1,772.6 603.0,773.1 601.0,773.6 598.9,774.2 596.9,774.7 594.8,775.2 592.7,775.7 590.7,776.3 588.6,776.8 586.6,777.4 584.5,778.0 582.5,778.7 580.5,779.3 578.4,779.9 576.4,780.6 574.4,781.2 572.3,781.8 570.3,782.4 568.3,783.0 566.2,783.6 564.2,784.2 562.1,784.7 560.0,785.1 557.9,785.3 555.8,785.1 553.8,784.5 552.1,783.2 550.7,781.6 548.8,780.9 546.7,780.4 544.6,779.9 542.5,779.6 540.4,779.3 538.3,778.9 536.2,778.6 534.1,778.3 532.0,778.0 529.9,777.7 527.8,777.3 525.7,777.0 523.6,776.6 521.5,776.3 519.4,775.9 517.3,775.6 515.2,775.2 513.1,774.9 511.0,774.5" fill="#8593a5"/>
<polygon points="511.0,769.2 513.1,769.3 515.2,769.5 517.3,769.7 519.4,769.8 521.5,770.0 523.6,770.1 525.6,770.1 527.5,770.0 529.5,770.0 531.5,770.0 533.6,770.1 535.7,770.2 537.8,770.4 540.0,770.5 542.1,770.7 544.2,770.8 546.3,771.1 548.3,771.4 550.3,771.9 551.9,773.0 553.6,774.0 555.7,774.4 557.8,774.5 559.9,774.2 562.0,773.8 564.1,773.2 566.2,772.7 568.2,772.1 570.3,771.6 572.4,771.0 574.4,770.3 576.5,769.7 578.5,769.1 580.6,768.5 582.6,767.8 584.7,767.2 586.7,766.5 588.8,765.9 590.8,765.3 592.9,764.8 595.0,764.4 597.1,764.0 599.1,763.8 601.2,763.5 603.2,763.3 605.3,763.1 607.3,762.8 609.4,762.6 611.4,762.4 613.5,762.1 615.5,761.9 617.5,761.7 619.5,761.5 621.5,761.4 623.5,761.2 625.4,760.9 627.3,760.6 629.2,760.2 630.6,759.3 631.6,758.1 632.3,756.8 633.0,755.6 633.7,754.3 634.0,756.0 633.3,758.0 632.7,760.1 632.0,762.1 631.0,763.9 629.6,765.5 627.7,766.4 625.7,767.1 623.6,767.8 621.6,768.4 619.5,768.9 617.5,769.5 615.4,770.0 613.4,770.5 611.3,771.1 609.2,771.6 607.2,772.1 605.1,772.6 603.0,773.1 601.0,773.6 598.9,774.2 596.9,774.7 594.8,775.2 592.7,775.7 590.7,776.3 588.6,776.8 586.6,777.4 584.5,778.0 582.5,778.7 580.5,779.3 578.4,779.9 576.4,780.6 574.4,781.2 572.3,781.8 570.3,782.4 568.3,783.0 566.2,783.6 564.2,784.2 562.1,784.7 560.0,785.1 557.9,785.3 555.8,785.1 553.8,784.5 552.1,783.2 550.7,781.6 548.8,780.9 546.7,780.4 544.6,779.9 542.5,779.6 540.4,779.3 538.3,778.9 536.2,778.6 534.1,778.3 532.0,778.0 529.9,777.7 527.8,777.3 525.7,777.0 523.6,776.6 521.5,776.3 519.4,775.9 517.3,775.6 515.2,775.2 513.1,774.9 511.0,774.5" fill="#7a8798"/>
<polygon points="511.0,770.9 513.1,771.2 515.2,771.4 517.3,771.6 519.4,771.9 521.5,772.1 523.6,772.2 525.6,772.4 527.6,772.4 529.6,772.5 531.7,772.6 533.8,772.8 535.9,773.0 538.0,773.2 540.1,773.4 542.2,773.6 544.3,773.9 546.4,774.2 548.5,774.5 550.5,775.2 552.0,776.4 553.7,777.5 555.7,778.0 557.8,778.1 560.0,777.9 562.1,777.4 564.1,776.9 566.2,776.3 568.2,775.7 570.3,775.2 572.4,774.6 574.4,774.0 576.5,773.3 578.5,772.7 580.5,772.1 582.6,771.4 584.6,770.8 586.7,770.2 588.7,769.6 590.8,769.0 592.8,768.4 594.9,768.0 597.0,767.6 599.1,767.2 601.1,766.9 603.2,766.6 605.2,766.3 607.3,765.9 609.3,765.6 611.4,765.3 613.4,764.9 615.5,764.6 617.5,764.3 619.5,764.0 621.5,763.7 623.5,763.4 625.5,763.0 627.4,762.5 629.3,762.0 630.7,760.8 631.7,759.4 632.5,757.9 633.1,756.4 633.8,754.9 634.0,756.0 633.3,758.0 632.7,760.1 632.0,762.1 631.0,763.9 629.6,765.5 627.7,766.4 625.7,767.1 623.6,767.8 621.6,768.4 619.5,768.9 617.5,769.5 615.4,770.0 613.4,770.5 611.3,771.1 609.2,771.6 607.2,772.1 605.1,772.6 603.0,773.1 601.0,773.6 598.9,774.2 596.9,774.7 594.8,775.2 592.7,775.7 590.7,776.3 588.6,776.8 586.6,777.4 584.5,778.0 582.5,778.7 580.5,779.3 578.4,779.9 576.4,780.6 574.4,781.2 572.3,781.8 570.3,782.4 568.3,783.0 566.2,783.6 564.2,784.2 562.1,784.7 560.0,785.1 557.9,785.3 555.8,785.1 553.8,784.5 552.1,783.2 550.7,781.6 548.8,780.9 546.7,780.4 544.6,779.9 542.5,779.6 540.4,779.3 538.3,778.9 536.2,778.6 534.1,778.3 532.0,778.0 529.9,777.7 527.8,777.3 525.7,777.0 523.6,776.6 521.5,776.3 519.4,775.9 517.3,775.6 515.2,775.2 513.1,774.9 511.0,774.5" fill="#6e7989"/>
<polygon points="511.0,772.7 513.1,773.0 515.2,773.3 517.3,773.6 519.4,773.9 521.5,774.2 523.6,774.4 525.6,774.7 527.7,774.9 529.8,775.1 531.8,775.3 533.9,775.6 536.0,775.8 538.1,776.1 540.3,776.3 542.4,776.6 544.5,776.9 546.5,777.3 548.6,777.7 550.6,778.4 552.1,779.8 553.7,781.0 555.8,781.5 557.9,781.7 560.0,781.5 562.1,781.1 564.1,780.5 566.2,779.9 568.3,779.4 570.3,778.8 572.4,778.2 574.4,777.6 576.4,776.9 578.5,776.3 580.5,775.7 582.5,775.0 584.6,774.4 586.6,773.8 588.7,773.2 590.7,772.6 592.8,772.1 594.9,771.6 596.9,771.1 599.0,770.7 601.0,770.3 603.1,769.9 605.2,769.4 607.2,769.0 609.3,768.6 611.3,768.2 613.4,767.7 615.4,767.3 617.5,766.9 619.5,766.5 621.6,766.0 623.6,765.6 625.6,765.0 627.6,764.5 629.4,763.7 630.9,762.4 631.9,760.7 632.6,759.0 633.2,757.2 633.9,755.4 634.0,756.0 633.3,758.0 632.7,760.1 632.0,762.1 631.0,763.9 629.6,765.5 627.7,766.4 625.7,767.1 623.6,767.8 621.6,768.4 619.5,768.9 617.5,769.5 615.4,770.0 613.4,770.5 611.3,771.1 609.2,771.6 607.2,772.1 605.1,772.6 603.0,773.1 601.0,773.6 598.9,774.2 596.9,774.7 594.8,775.2 592.7,775.7 590.7,776.3 588.6,776.8 586.6,777.4 584.5,778.0 582.5,778.7 580.5,779.3 578.4,779.9 576.4,780.6 574.4,781.2 572.3,781.8 570.3,782.4 568.3,783.0 566.2,783.6 564.2,784.2 562.1,784.7 560.0,785.1 557.9,785.3 555.8,785.1 553.8,784.5 552.1,783.2 550.7,781.6 548.8,780.9 546.7,780.4 544.6,779.9 542.5,779.6 540.4,779.3 538.3,778.9 536.2,778.6 534.1,778.3 532.0,778.0 529.9,777.7 527.8,777.3 525.7,777.0 523.6,776.6 521.5,776.3 519.4,775.9 517.3,775.6 515.2,775.2 513.1,774.9 511.0,774.5" fill="#5c6675"/>
<path d="M575,745 C581,749 585,758 585,770" fill="none" stroke="#7d8a9c" stroke-width="0.6" opacity="0.8"/>
<path d="M582,743 C588,747 593,756 593,768" fill="none" stroke="#7d8a9c" stroke-width="0.6" opacity="0.8"/>
<path d="M592,738 C598,742 603,753 603,765" fill="none" stroke="#7d8a9c" stroke-width="0.6" opacity="0.8"/>
<path d="M602,734 C608,738 612,750 612,762" fill="none" stroke="#7d8a9c" stroke-width="0.6" opacity="0.8"/>
<path d="M611,730 C617,734 621,748 621,760" fill="none" stroke="#7d8a9c" stroke-width="0.6" opacity="0.8"/>
<path d="M512.5,746 L512.5,774" stroke="#7a889a" stroke-width="1"/>
<path d="M514,767.5 L540,771 L552,773.5 L578,772" fill="none" stroke="#d0dae6" stroke-width="1"/>
<path d="M549,765 C551,761 555,762 556,768 L556,772 L549,771Z" fill="#6d7889"/>
<path d="M553,780 L556,786 L560,786 L558,780Z" fill="#7d8899"/>
<polygon points="238.0,785.0 241.7,783.0 246.1,781.8 250.4,780.7 254.8,779.6 259.2,778.5 263.5,777.5 267.9,776.4 272.3,775.4 276.6,774.3 281.0,773.3 285.4,772.2 289.7,771.1 294.1,770.1 298.5,769.0 302.8,767.9 307.2,766.8 311.5,765.7 315.9,764.5 320.2,763.4 324.6,762.3 328.9,761.1 333.3,760.0 337.6,758.8 342.0,757.7 346.3,756.5 350.7,755.3 355.0,754.1 359.3,752.9 363.6,751.7 368.0,750.4 372.3,749.2 376.6,747.9 380.9,746.8 385.3,745.6 389.6,744.5 394.0,743.3 398.3,742.3 402.7,741.2 407.1,740.2 411.5,739.2 415.9,738.3 420.3,737.6 424.8,737.0 429.2,736.5 433.7,736.1 438.2,735.9 442.7,735.8 447.2,735.9 451.7,736.1 456.2,736.5 460.6,737.1 464.9,738.4 469.2,739.8 473.5,741.2 477.7,742.5 482.0,743.8 486.3,745.2 490.6,746.6 495.0,747.3 499.5,747.5 504.0,747.5 508.5,747.4 513.0,747.3 513.0,775.3 508.5,775.2 504.0,775.1 499.5,775.0 495.1,774.7 490.6,774.3 486.1,773.8 481.7,773.2 477.3,772.4 472.9,771.6 468.5,770.5 464.2,769.2 460.1,767.4 456.0,765.7 451.6,764.8 447.1,764.2 442.6,764.0 438.1,763.9 433.7,764.0 429.2,764.3 424.7,764.7 420.3,765.5 415.9,766.5 411.6,767.7 407.3,769.0 403.0,770.2 398.6,771.3 394.3,772.5 390.0,773.6 385.6,774.8 381.3,776.1 377.1,777.5 373.0,779.3 368.8,781.0 364.6,782.5 360.3,783.8 356.0,785.2 351.7,786.5 347.4,787.8 343.2,789.1 338.9,790.4 334.6,791.7 330.3,793.0 326.0,794.4 321.7,795.7 317.4,797.0 313.1,798.3 308.8,799.6 304.5,800.7 300.1,801.7 295.7,802.7 291.3,803.7 286.9,804.6 282.5,805.5 278.1,806.3 273.7,807.1 269.3,807.9 264.9,808.6 260.4,809.1 255.9,809.5 251.4,809.7 247.0,809.8 242.5,809.8 238.0,809.5" fill="#a2b2c6"/>
<polygon points="238.0,786.5 241.8,784.7 246.1,783.6 250.5,782.5 254.9,781.5 259.2,780.5 263.6,779.4 268.0,778.4 272.4,777.4 276.7,776.3 281.1,775.3 285.5,774.2 289.8,773.2 294.2,772.1 298.6,771.0 302.9,769.9 307.3,768.8 311.6,767.7 316.0,766.6 320.3,765.4 324.7,764.3 329.0,763.1 333.4,762.0 337.7,760.8 342.0,759.6 346.4,758.4 350.7,757.3 355.1,756.1 359.4,754.8 363.7,753.6 368.0,752.3 372.3,751.1 376.6,749.8 381.0,748.6 385.3,747.4 389.6,746.3 394.0,745.2 398.4,744.1 402.7,743.0 407.1,742.0 411.5,741.0 415.9,740.1 420.3,739.3 424.8,738.7 429.2,738.2 433.7,737.8 438.2,737.6 442.7,737.5 447.2,737.7 451.7,737.9 456.2,738.3 460.6,739.0 464.9,740.4 469.1,741.7 473.4,743.1 477.7,744.4 482.0,745.7 486.3,747.0 490.6,748.3 495.0,749.0 499.5,749.3 504.0,749.2 508.5,749.1 513.0,749.0 513.0,775.3 508.5,775.2 504.0,775.1 499.5,775.0 495.1,774.7 490.6,774.3 486.1,773.8 481.7,773.2 477.3,772.4 472.9,771.6 468.5,770.5 464.2,769.2 460.1,767.4 456.0,765.7 451.6,764.8 447.1,764.2 442.6,764.0 438.1,763.9 433.7,764.0 429.2,764.3 424.7,764.7 420.3,765.5 415.9,766.5 411.6,767.7 407.3,769.0 403.0,770.2 398.6,771.3 394.3,772.5 390.0,773.6 385.6,774.8 381.3,776.1 377.1,777.5 373.0,779.3 368.8,781.0 364.6,782.5 360.3,783.8 356.0,785.2 351.7,786.5 347.4,787.8 343.2,789.1 338.9,790.4 334.6,791.7 330.3,793.0 326.0,794.4 321.7,795.7 317.4,797.0 313.1,798.3 308.8,799.6 304.5,800.7 300.1,801.7 295.7,802.7 291.3,803.7 286.9,804.6 282.5,805.5 278.1,806.3 273.7,807.1 269.3,807.9 264.9,808.6 260.4,809.1 255.9,809.5 251.4,809.7 247.0,809.8 242.5,809.8 238.0,809.5" fill="#adbdd0"/>
<polygon points="238.0,788.1 241.8,786.4 246.2,785.3 250.6,784.3 254.9,783.3 259.3,782.4 263.7,781.4 268.1,780.4 272.4,779.3 276.8,778.3 281.2,777.3 285.6,776.2 289.9,775.2 294.3,774.1 298.7,773.1 303.0,772.0 307.4,770.9 311.7,769.7 316.1,768.6 320.4,767.4 324.8,766.3 329.1,765.1 333.4,763.9 337.8,762.8 342.1,761.6 346.5,760.4 350.8,759.2 355.1,758.0 359.4,756.8 363.8,755.5 368.1,754.2 372.4,752.9 376.7,751.6 381.0,750.4 385.3,749.2 389.7,748.1 394.0,747.0 398.4,745.9 402.8,744.8 407.1,743.8 411.5,742.8 415.9,741.9 420.3,741.1 424.8,740.4 429.2,739.9 433.7,739.6 438.2,739.4 442.7,739.3 447.2,739.4 451.7,739.7 456.1,740.1 460.6,740.8 464.8,742.3 469.1,743.6 473.4,745.0 477.7,746.2 482.0,747.5 486.3,748.8 490.6,750.0 495.0,750.8 499.5,751.0 504.0,750.9 508.5,750.8 513.0,750.8 513.0,775.3 508.5,775.2 504.0,775.1 499.5,775.0 495.1,774.7 490.6,774.3 486.1,773.8 481.7,773.2 477.3,772.4 472.9,771.6 468.5,770.5 464.2,769.2 460.1,767.4 456.0,765.7 451.6,764.8 447.1,764.2 442.6,764.0 438.1,763.9 433.7,764.0 429.2,764.3 424.7,764.7 420.3,765.5 415.9,766.5 411.6,767.7 407.3,769.0 403.0,770.2 398.6,771.3 394.3,772.5 390.0,773.6 385.6,774.8 381.3,776.1 377.1,777.5 373.0,779.3 368.8,781.0 364.6,782.5 360.3,783.8 356.0,785.2 351.7,786.5 347.4,787.8 343.2,789.1 338.9,790.4 334.6,791.7 330.3,793.0 326.0,794.4 321.7,795.7 317.4,797.0 313.1,798.3 308.8,799.6 304.5,800.7 300.1,801.7 295.7,802.7 291.3,803.7 286.9,804.6 282.5,805.5 278.1,806.3 273.7,807.1 269.3,807.9 264.9,808.6 260.4,809.1 255.9,809.5 251.4,809.7 247.0,809.8 242.5,809.8 238.0,809.5" fill="#b4c4d7"/>
<polygon points="238.0,789.6 241.9,788.0 246.2,787.0 250.6,786.1 255.0,785.2 259.4,784.3 263.8,783.3 268.2,782.3 272.5,781.3 276.9,780.3 281.3,779.3 285.7,778.3 290.0,777.2 294.4,776.2 298.8,775.1 303.1,774.0 307.5,772.9 311.8,771.8 316.2,770.6 320.5,769.5 324.9,768.3 329.2,767.1 333.5,765.9 337.9,764.7 342.2,763.6 346.5,762.4 350.9,761.2 355.2,759.9 359.5,758.7 363.8,757.4 368.1,756.2 372.4,754.8 376.7,753.5 381.0,752.3 385.3,751.1 389.7,749.9 394.0,748.8 398.4,747.7 402.8,746.7 407.1,745.6 411.5,744.6 415.9,743.6 420.3,742.8 424.8,742.2 429.2,741.7 433.7,741.3 438.2,741.1 442.7,741.1 447.2,741.2 451.7,741.5 456.1,741.9 460.5,742.7 464.8,744.2 469.0,745.6 473.3,746.9 477.7,748.1 482.0,749.3 486.3,750.6 490.6,751.8 495.0,752.5 499.5,752.7 504.0,752.7 508.5,752.6 513.0,752.5 513.0,775.3 508.5,775.2 504.0,775.1 499.5,775.0 495.1,774.7 490.6,774.3 486.1,773.8 481.7,773.2 477.3,772.4 472.9,771.6 468.5,770.5 464.2,769.2 460.1,767.4 456.0,765.7 451.6,764.8 447.1,764.2 442.6,764.0 438.1,763.9 433.7,764.0 429.2,764.3 424.7,764.7 420.3,765.5 415.9,766.5 411.6,767.7 407.3,769.0 403.0,770.2 398.6,771.3 394.3,772.5 390.0,773.6 385.6,774.8 381.3,776.1 377.1,777.5 373.0,779.3 368.8,781.0 364.6,782.5 360.3,783.8 356.0,785.2 351.7,786.5 347.4,787.8 343.2,789.1 338.9,790.4 334.6,791.7 330.3,793.0 326.0,794.4 321.7,795.7 317.4,797.0 313.1,798.3 308.8,799.6 304.5,800.7 300.1,801.7 295.7,802.7 291.3,803.7 286.9,804.6 282.5,805.5 278.1,806.3 273.7,807.1 269.3,807.9 264.9,808.6 260.4,809.1 255.9,809.5 251.4,809.7 247.0,809.8 242.5,809.8 238.0,809.5" fill="#bccbde"/>
<polygon points="238.0,791.1 241.9,789.7 246.3,788.8 250.7,787.9 255.1,787.1 259.5,786.2 263.9,785.3 268.2,784.3 272.6,783.3 277.0,782.3 281.4,781.3 285.8,780.3 290.1,779.3 294.5,778.2 298.9,777.2 303.2,776.1 307.6,775.0 311.9,773.8 316.3,772.7 320.6,771.5 324.9,770.3 329.3,769.1 333.6,767.9 337.9,766.7 342.3,765.5 346.6,764.3 350.9,763.1 355.2,761.9 359.6,760.6 363.9,759.4 368.2,758.1 372.4,756.7 376.7,755.3 381.0,754.1 385.4,752.9 389.7,751.8 394.1,750.6 398.4,749.5 402.8,748.5 407.1,747.4 411.5,746.4 415.9,745.4 420.3,744.6 424.8,743.9 429.2,743.4 433.7,743.1 438.2,742.9 442.7,742.8 447.2,743.0 451.7,743.3 456.1,743.8 460.5,744.6 464.7,746.1 469.0,747.5 473.3,748.8 477.6,750.0 482.0,751.2 486.3,752.4 490.6,753.5 495.0,754.2 499.5,754.4 504.0,754.4 508.5,754.3 513.0,754.3 513.0,775.3 508.5,775.2 504.0,775.1 499.5,775.0 495.1,774.7 490.6,774.3 486.1,773.8 481.7,773.2 477.3,772.4 472.9,771.6 468.5,770.5 464.2,769.2 460.1,767.4 456.0,765.7 451.6,764.8 447.1,764.2 442.6,764.0 438.1,763.9 433.7,764.0 429.2,764.3 424.7,764.7 420.3,765.5 415.9,766.5 411.6,767.7 407.3,769.0 403.0,770.2 398.6,771.3 394.3,772.5 390.0,773.6 385.6,774.8 381.3,776.1 377.1,777.5 373.0,779.3 368.8,781.0 364.6,782.5 360.3,783.8 356.0,785.2 351.7,786.5 347.4,787.8 343.2,789.1 338.9,790.4 334.6,791.7 330.3,793.0 326.0,794.4 321.7,795.7 317.4,797.0 313.1,798.3 308.8,799.6 304.5,800.7 300.1,801.7 295.7,802.7 291.3,803.7 286.9,804.6 282.5,805.5 278.1,806.3 273.7,807.1 269.3,807.9 264.9,808.6 260.4,809.1 255.9,809.5 251.4,809.7 247.0,809.8 242.5,809.8 238.0,809.5" fill="#c0cfe2"/>
<polygon points="238.0,792.7 242.0,791.4 246.4,790.5 250.7,789.7 255.1,788.9 259.5,788.1 263.9,787.2 268.3,786.3 272.7,785.3 277.1,784.3 281.5,783.3 285.9,782.3 290.2,781.3 294.6,780.3 299.0,779.2 303.3,778.1 307.7,777.0 312.0,775.9 316.4,774.7 320.7,773.5 325.0,772.3 329.4,771.1 333.7,769.9 338.0,768.7 342.3,767.5 346.7,766.3 351.0,765.1 355.3,763.8 359.6,762.6 363.9,761.3 368.2,760.0 372.5,758.6 376.7,757.2 381.1,755.9 385.4,754.7 389.7,753.6 394.1,752.5 398.4,751.4 402.8,750.3 407.2,749.2 411.5,748.1 415.9,747.1 420.3,746.3 424.8,745.6 429.2,745.1 433.7,744.8 438.2,744.6 442.7,744.6 447.2,744.7 451.6,745.1 456.1,745.6 460.5,746.5 464.7,748.0 469.0,749.4 473.3,750.7 477.6,751.9 481.9,753.0 486.3,754.2 490.6,755.2 495.0,755.9 499.5,756.1 504.0,756.1 508.5,756.1 513.0,756.0 513.0,775.3 508.5,775.2 504.0,775.1 499.5,775.0 495.1,774.7 490.6,774.3 486.1,773.8 481.7,773.2 477.3,772.4 472.9,771.6 468.5,770.5 464.2,769.2 460.1,767.4 456.0,765.7 451.6,764.8 447.1,764.2 442.6,764.0 438.1,763.9 433.7,764.0 429.2,764.3 424.7,764.7 420.3,765.5 415.9,766.5 411.6,767.7 407.3,769.0 403.0,770.2 398.6,771.3 394.3,772.5 390.0,773.6 385.6,774.8 381.3,776.1 377.1,777.5 373.0,779.3 368.8,781.0 364.6,782.5 360.3,783.8 356.0,785.2 351.7,786.5 347.4,787.8 343.2,789.1 338.9,790.4 334.6,791.7 330.3,793.0 326.0,794.4 321.7,795.7 317.4,797.0 313.1,798.3 308.8,799.6 304.5,800.7 300.1,801.7 295.7,802.7 291.3,803.7 286.9,804.6 282.5,805.5 278.1,806.3 273.7,807.1 269.3,807.9 264.9,808.6 260.4,809.1 255.9,809.5 251.4,809.7 247.0,809.8 242.5,809.8 238.0,809.5" fill="#c5d3e6"/>
<polygon points="238.0,794.2 242.0,793.1 246.4,792.3 250.8,791.6 255.2,790.8 259.6,790.0 264.0,789.1 268.4,788.2 272.8,787.3 277.2,786.3 281.6,785.3 286.0,784.4 290.3,783.3 294.7,782.3 299.1,781.3 303.4,780.2 307.8,779.1 312.1,777.9 316.5,776.7 320.8,775.5 325.1,774.3 329.4,773.1 333.8,771.9 338.1,770.7 342.4,769.5 346.7,768.2 351.1,767.0 355.4,765.8 359.7,764.5 364.0,763.2 368.3,761.9 372.5,760.5 376.8,759.0 381.1,757.8 385.4,756.6 389.8,755.4 394.1,754.3 398.5,753.2 402.8,752.1 407.2,751.0 411.5,749.9 415.9,748.9 420.3,748.0 424.8,747.4 429.2,746.9 433.7,746.6 438.2,746.4 442.7,746.4 447.2,746.5 451.6,746.9 456.1,747.4 460.4,748.4 464.6,750.0 468.9,751.3 473.2,752.6 477.6,753.7 481.9,754.8 486.2,755.9 490.6,757.0 495.0,757.6 499.5,757.8 504.0,757.9 508.5,757.8 513.0,757.8 513.0,775.3 508.5,775.2 504.0,775.1 499.5,775.0 495.1,774.7 490.6,774.3 486.1,773.8 481.7,773.2 477.3,772.4 472.9,771.6 468.5,770.5 464.2,769.2 460.1,767.4 456.0,765.7 451.6,764.8 447.1,764.2 442.6,764.0 438.1,763.9 433.7,764.0 429.2,764.3 424.7,764.7 420.3,765.5 415.9,766.5 411.6,767.7 407.3,769.0 403.0,770.2 398.6,771.3 394.3,772.5 390.0,773.6 385.6,774.8 381.3,776.1 377.1,777.5 373.0,779.3 368.8,781.0 364.6,782.5 360.3,783.8 356.0,785.2 351.7,786.5 347.4,787.8 343.2,789.1 338.9,790.4 334.6,791.7 330.3,793.0 326.0,794.4 321.7,795.7 317.4,797.0 313.1,798.3 308.8,799.6 304.5,800.7 300.1,801.7 295.7,802.7 291.3,803.7 286.9,804.6 282.5,805.5 278.1,806.3 273.7,807.1 269.3,807.9 264.9,808.6 260.4,809.1 255.9,809.5 251.4,809.7 247.0,809.8 242.5,809.8 238.0,809.5" fill="#c3d1e4"/>
<polygon points="238.0,795.7 242.1,794.7 246.5,794.0 250.9,793.4 255.3,792.7 259.7,791.9 264.1,791.1 268.5,790.2 272.9,789.3 277.3,788.3 281.7,787.4 286.1,786.4 290.4,785.4 294.8,784.4 299.2,783.3 303.5,782.2 307.9,781.1 312.2,780.0 316.6,778.8 320.9,777.5 325.2,776.3 329.5,775.1 333.8,773.9 338.2,772.7 342.5,771.4 346.8,770.2 351.1,769.0 355.4,767.7 359.7,766.4 364.0,765.1 368.3,763.8 372.6,762.4 376.8,760.9 381.1,759.6 385.4,758.4 389.8,757.2 394.1,756.1 398.5,755.0 402.8,753.9 407.2,752.8 411.5,751.7 415.9,750.7 420.3,749.8 424.7,749.1 429.2,748.6 433.7,748.3 438.2,748.1 442.7,748.1 447.2,748.3 451.6,748.7 456.1,749.3 460.4,750.3 464.6,751.9 468.9,753.2 473.2,754.5 477.5,755.6 481.9,756.7 486.2,757.7 490.6,758.7 495.0,759.3 499.5,759.5 504.0,759.6 508.5,759.5 513.0,759.5 513.0,775.3 508.5,775.2 504.0,775.1 499.5,775.0 495.1,774.7 490.6,774.3 486.1,773.8 481.7,773.2 477.3,772.4 472.9,771.6 468.5,770.5 464.2,769.2 460.1,767.4 456.0,765.7 451.6,764.8 447.1,764.2 442.6,764.0 438.1,763.9 433.7,764.0 429.2,764.3 424.7,764.7 420.3,765.5 415.9,766.5 411.6,767.7 407.3,769.0 403.0,770.2 398.6,771.3 394.3,772.5 390.0,773.6 385.6,774.8 381.3,776.1 377.1,777.5 373.0,779.3 368.8,781.0 364.6,782.5 360.3,783.8 356.0,785.2 351.7,786.5 347.4,787.8 343.2,789.1 338.9,790.4 334.6,791.7 330.3,793.0 326.0,794.4 321.7,795.7 317.4,797.0 313.1,798.3 308.8,799.6 304.5,800.7 300.1,801.7 295.7,802.7 291.3,803.7 286.9,804.6 282.5,805.5 278.1,806.3 273.7,807.1 269.3,807.9 264.9,808.6 260.4,809.1 255.9,809.5 251.4,809.7 247.0,809.8 242.5,809.8 238.0,809.5" fill="#bac8db"/>
<polygon points="238.0,797.2 242.1,796.4 246.5,795.8 250.9,795.2 255.4,794.5 259.8,793.8 264.2,793.0 268.6,792.2 273.0,791.3 277.4,790.3 281.8,789.4 286.2,788.4 290.5,787.4 294.9,786.4 299.3,785.4 303.6,784.3 308.0,783.2 312.3,782.0 316.7,780.8 321.0,779.6 325.3,778.3 329.6,777.1 333.9,775.9 338.2,774.6 342.6,773.4 346.9,772.2 351.2,770.9 355.5,769.7 359.8,768.4 364.1,767.1 368.4,765.7 372.6,764.2 376.8,762.7 381.1,761.4 385.5,760.2 389.8,759.1 394.1,757.9 398.5,756.8 402.9,755.7 407.2,754.6 411.5,753.5 415.9,752.4 420.3,751.5 424.7,750.8 429.2,750.4 433.7,750.0 438.2,749.9 442.7,749.9 447.2,750.1 451.6,750.4 456.1,751.1 460.4,752.2 464.6,753.8 468.8,755.2 473.2,756.4 477.5,757.5 481.9,758.5 486.2,759.5 490.6,760.4 495.0,761.0 499.5,761.3 504.0,761.3 508.5,761.3 513.0,761.3 513.0,775.3 508.5,775.2 504.0,775.1 499.5,775.0 495.1,774.7 490.6,774.3 486.1,773.8 481.7,773.2 477.3,772.4 472.9,771.6 468.5,770.5 464.2,769.2 460.1,767.4 456.0,765.7 451.6,764.8 447.1,764.2 442.6,764.0 438.1,763.9 433.7,764.0 429.2,764.3 424.7,764.7 420.3,765.5 415.9,766.5 411.6,767.7 407.3,769.0 403.0,770.2 398.6,771.3 394.3,772.5 390.0,773.6 385.6,774.8 381.3,776.1 377.1,777.5 373.0,779.3 368.8,781.0 364.6,782.5 360.3,783.8 356.0,785.2 351.7,786.5 347.4,787.8 343.2,789.1 338.9,790.4 334.6,791.7 330.3,793.0 326.0,794.4 321.7,795.7 317.4,797.0 313.1,798.3 308.8,799.6 304.5,800.7 300.1,801.7 295.7,802.7 291.3,803.7 286.9,804.6 282.5,805.5 278.1,806.3 273.7,807.1 269.3,807.9 264.9,808.6 260.4,809.1 255.9,809.5 251.4,809.7 247.0,809.8 242.5,809.8 238.0,809.5" fill="#b1bfd2"/>
<polygon points="238.0,798.8 242.2,798.1 246.6,797.5 251.0,797.0 255.4,796.4 259.9,795.7 264.3,795.0 268.7,794.1 273.1,793.2 277.5,792.3 281.9,791.4 286.3,790.4 290.6,789.4 295.0,788.4 299.4,787.4 303.7,786.3 308.1,785.2 312.4,784.0 316.7,782.8 321.1,781.6 325.4,780.3 329.7,779.1 334.0,777.8 338.3,776.6 342.6,775.4 346.9,774.1 351.3,772.9 355.6,771.6 359.9,770.3 364.2,769.0 368.4,767.6 372.7,766.1 376.9,764.6 381.2,763.3 385.5,762.0 389.8,760.9 394.2,759.7 398.5,758.6 402.9,757.5 407.2,756.4 411.6,755.3 415.9,754.2 420.3,753.3 424.7,752.6 429.2,752.1 433.7,751.8 438.2,751.6 442.7,751.6 447.1,751.8 451.6,752.2 456.0,752.9 460.3,754.1 464.5,755.7 468.8,757.1 473.1,758.3 477.5,759.3 481.8,760.3 486.2,761.3 490.6,762.2 495.0,762.7 499.5,763.0 504.0,763.0 508.5,763.0 513.0,763.0 513.0,775.3 508.5,775.2 504.0,775.1 499.5,775.0 495.1,774.7 490.6,774.3 486.1,773.8 481.7,773.2 477.3,772.4 472.9,771.6 468.5,770.5 464.2,769.2 460.1,767.4 456.0,765.7 451.6,764.8 447.1,764.2 442.6,764.0 438.1,763.9 433.7,764.0 429.2,764.3 424.7,764.7 420.3,765.5 415.9,766.5 411.6,767.7 407.3,769.0 403.0,770.2 398.6,771.3 394.3,772.5 390.0,773.6 385.6,774.8 381.3,776.1 377.1,777.5 373.0,779.3 368.8,781.0 364.6,782.5 360.3,783.8 356.0,785.2 351.7,786.5 347.4,787.8 343.2,789.1 338.9,790.4 334.6,791.7 330.3,793.0 326.0,794.4 321.7,795.7 317.4,797.0 313.1,798.3 308.8,799.6 304.5,800.7 300.1,801.7 295.7,802.7 291.3,803.7 286.9,804.6 282.5,805.5 278.1,806.3 273.7,807.1 269.3,807.9 264.9,808.6 260.4,809.1 255.9,809.5 251.4,809.7 247.0,809.8 242.5,809.8 238.0,809.5" fill="#a5b3c6"/>
<polygon points="238.0,800.3 242.2,799.8 246.6,799.3 251.1,798.8 255.5,798.3 259.9,797.7 264.4,796.9 268.8,796.1 273.2,795.2 277.6,794.3 282.0,793.4 286.4,792.5 290.7,791.5 295.1,790.5 299.5,789.5 303.8,788.4 308.2,787.3 312.5,786.1 316.8,784.9 321.2,783.6 325.5,782.3 329.8,781.1 334.1,779.8 338.4,778.6 342.7,777.3 347.0,776.1 351.3,774.8 355.6,773.5 359.9,772.2 364.2,770.9 368.5,769.5 372.7,768.0 376.9,766.4 381.2,765.1 385.5,763.9 389.8,762.7 394.2,761.6 398.5,760.4 402.9,759.3 407.2,758.2 411.6,757.0 415.9,755.9 420.3,755.0 424.7,754.3 429.2,753.8 433.7,753.5 438.2,753.4 442.7,753.4 447.1,753.6 451.6,754.0 456.0,754.7 460.3,756.0 464.5,757.7 468.8,759.0 473.1,760.2 477.4,761.2 481.8,762.2 486.2,763.1 490.6,763.9 495.0,764.5 499.5,764.7 504.0,764.8 508.5,764.8 513.0,764.8 513.0,775.3 508.5,775.2 504.0,775.1 499.5,775.0 495.1,774.7 490.6,774.3 486.1,773.8 481.7,773.2 477.3,772.4 472.9,771.6 468.5,770.5 464.2,769.2 460.1,767.4 456.0,765.7 451.6,764.8 447.1,764.2 442.6,764.0 438.1,763.9 433.7,764.0 429.2,764.3 424.7,764.7 420.3,765.5 415.9,766.5 411.6,767.7 407.3,769.0 403.0,770.2 398.6,771.3 394.3,772.5 390.0,773.6 385.6,774.8 381.3,776.1 377.1,777.5 373.0,779.3 368.8,781.0 364.6,782.5 360.3,783.8 356.0,785.2 351.7,786.5 347.4,787.8 343.2,789.1 338.9,790.4 334.6,791.7 330.3,793.0 326.0,794.4 321.7,795.7 317.4,797.0 313.1,798.3 308.8,799.6 304.5,800.7 300.1,801.7 295.7,802.7 291.3,803.7 286.9,804.6 282.5,805.5 278.1,806.3 273.7,807.1 269.3,807.9 264.9,808.6 260.4,809.1 255.9,809.5 251.4,809.7 247.0,809.8 242.5,809.8 238.0,809.5" fill="#9aa8bb"/>
<polygon points="238.0,801.8 242.2,801.4 246.7,801.0 251.1,800.6 255.6,800.1 260.0,799.6 264.4,798.9 268.9,798.1 273.3,797.2 277.7,796.3 282.1,795.4 286.4,794.5 290.8,793.5 295.2,792.5 299.6,791.5 303.9,790.4 308.3,789.3 312.6,788.1 316.9,786.9 321.2,785.6 325.5,784.3 329.9,783.1 334.2,781.8 338.5,780.6 342.8,779.3 347.1,778.0 351.4,776.8 355.7,775.5 360.0,774.2 364.3,772.8 368.6,771.5 372.8,769.9 376.9,768.3 381.2,766.9 385.5,765.7 389.9,764.5 394.2,763.4 398.6,762.3 402.9,761.1 407.2,760.0 411.6,758.8 415.9,757.7 420.3,756.7 424.7,756.1 429.2,755.6 433.7,755.3 438.2,755.1 442.7,755.2 447.1,755.4 451.6,755.8 456.0,756.6 460.3,757.9 464.4,759.6 468.7,760.9 473.0,762.1 477.4,763.1 481.8,764.0 486.2,764.9 490.6,765.6 495.1,766.2 499.5,766.4 504.0,766.5 508.5,766.5 513.0,766.5 513.0,775.3 508.5,775.2 504.0,775.1 499.5,775.0 495.1,774.7 490.6,774.3 486.1,773.8 481.7,773.2 477.3,772.4 472.9,771.6 468.5,770.5 464.2,769.2 460.1,767.4 456.0,765.7 451.6,764.8 447.1,764.2 442.6,764.0 438.1,763.9 433.7,764.0 429.2,764.3 424.7,764.7 420.3,765.5 415.9,766.5 411.6,767.7 407.3,769.0 403.0,770.2 398.6,771.3 394.3,772.5 390.0,773.6 385.6,774.8 381.3,776.1 377.1,777.5 373.0,779.3 368.8,781.0 364.6,782.5 360.3,783.8 356.0,785.2 351.7,786.5 347.4,787.8 343.2,789.1 338.9,790.4 334.6,791.7 330.3,793.0 326.0,794.4 321.7,795.7 317.4,797.0 313.1,798.3 308.8,799.6 304.5,800.7 300.1,801.7 295.7,802.7 291.3,803.7 286.9,804.6 282.5,805.5 278.1,806.3 273.7,807.1 269.3,807.9 264.9,808.6 260.4,809.1 255.9,809.5 251.4,809.7 247.0,809.8 242.5,809.8 238.0,809.5" fill="#8f9daf"/>
<polygon points="238.0,803.4 242.3,803.1 246.7,802.8 251.2,802.4 255.6,802.0 260.1,801.5 264.5,800.8 268.9,800.0 273.4,799.2 277.8,798.3 282.2,797.4 286.5,796.5 290.9,795.5 295.3,794.6 299.7,793.6 304.0,792.5 308.4,791.4 312.7,790.2 317.0,788.9 321.3,787.6 325.6,786.3 329.9,785.1 334.2,783.8 338.5,782.5 342.9,781.3 347.2,780.0 351.5,778.7 355.8,777.4 360.1,776.1 364.3,774.8 368.6,773.4 372.8,771.8 377.0,770.1 381.2,768.8 385.6,767.5 389.9,766.4 394.2,765.2 398.6,764.1 402.9,763.0 407.3,761.8 411.6,760.6 415.9,759.5 420.3,758.5 424.7,757.8 429.2,757.3 433.7,757.0 438.2,756.9 442.7,756.9 447.1,757.2 451.6,757.6 456.0,758.4 460.2,759.8 464.4,761.5 468.7,762.8 473.0,764.0 477.4,765.0 481.8,765.8 486.2,766.6 490.6,767.4 495.1,767.9 499.5,768.1 504.0,768.2 508.5,768.2 513.0,768.3 513.0,775.3 508.5,775.2 504.0,775.1 499.5,775.0 495.1,774.7 490.6,774.3 486.1,773.8 481.7,773.2 477.3,772.4 472.9,771.6 468.5,770.5 464.2,769.2 460.1,767.4 456.0,765.7 451.6,764.8 447.1,764.2 442.6,764.0 438.1,763.9 433.7,764.0 429.2,764.3 424.7,764.7 420.3,765.5 415.9,766.5 411.6,767.7 407.3,769.0 403.0,770.2 398.6,771.3 394.3,772.5 390.0,773.6 385.6,774.8 381.3,776.1 377.1,777.5 373.0,779.3 368.8,781.0 364.6,782.5 360.3,783.8 356.0,785.2 351.7,786.5 347.4,787.8 343.2,789.1 338.9,790.4 334.6,791.7 330.3,793.0 326.0,794.4 321.7,795.7 317.4,797.0 313.1,798.3 308.8,799.6 304.5,800.7 300.1,801.7 295.7,802.7 291.3,803.7 286.9,804.6 282.5,805.5 278.1,806.3 273.7,807.1 269.3,807.9 264.9,808.6 260.4,809.1 255.9,809.5 251.4,809.7 247.0,809.8 242.5,809.8 238.0,809.5" fill="#8491a3"/>
<polygon points="238.0,804.9 242.3,804.8 246.8,804.5 251.3,804.2 255.7,803.9 260.2,803.4 264.6,802.8 269.0,802.0 273.4,801.2 277.8,800.3 282.2,799.4 286.6,798.5 291.0,797.6 295.4,796.6 299.8,795.6 304.1,794.5 308.5,793.4 312.8,792.2 317.1,790.9 321.4,789.7 325.7,788.3 330.0,787.1 334.3,785.8 338.6,784.5 342.9,783.2 347.2,782.0 351.5,780.7 355.8,779.4 360.1,778.0 364.4,776.7 368.7,775.3 372.8,773.7 377.0,772.0 381.3,770.6 385.6,769.4 389.9,768.2 394.2,767.0 398.6,765.9 402.9,764.8 407.3,763.6 411.6,762.4 415.9,761.2 420.3,760.2 424.7,759.5 429.2,759.1 433.7,758.8 438.2,758.6 442.6,758.7 447.1,758.9 451.6,759.4 456.0,760.2 460.2,761.7 464.3,763.4 468.6,764.7 473.0,765.9 477.4,766.8 481.8,767.7 486.2,768.4 490.6,769.1 495.1,769.6 499.5,769.8 504.0,769.9 508.5,770.0 513.0,770.0 513.0,775.3 508.5,775.2 504.0,775.1 499.5,775.0 495.1,774.7 490.6,774.3 486.1,773.8 481.7,773.2 477.3,772.4 472.9,771.6 468.5,770.5 464.2,769.2 460.1,767.4 456.0,765.7 451.6,764.8 447.1,764.2 442.6,764.0 438.1,763.9 433.7,764.0 429.2,764.3 424.7,764.7 420.3,765.5 415.9,766.5 411.6,767.7 407.3,769.0 403.0,770.2 398.6,771.3 394.3,772.5 390.0,773.6 385.6,774.8 381.3,776.1 377.1,777.5 373.0,779.3 368.8,781.0 364.6,782.5 360.3,783.8 356.0,785.2 351.7,786.5 347.4,787.8 343.2,789.1 338.9,790.4 334.6,791.7 330.3,793.0 326.0,794.4 321.7,795.7 317.4,797.0 313.1,798.3 308.8,799.6 304.5,800.7 300.1,801.7 295.7,802.7 291.3,803.7 286.9,804.6 282.5,805.5 278.1,806.3 273.7,807.1 269.3,807.9 264.9,808.6 260.4,809.1 255.9,809.5 251.4,809.7 247.0,809.8 242.5,809.8 238.0,809.5" fill="#778395"/>
<polygon points="238.0,806.4 242.4,806.5 246.8,806.3 251.3,806.0 255.8,805.7 260.2,805.3 264.7,804.7 269.1,804.0 273.5,803.2 277.9,802.3 282.3,801.5 286.7,800.6 291.1,799.6 295.5,798.7 299.9,797.6 304.3,796.6 308.6,795.5 312.9,794.2 317.2,793.0 321.5,791.7 325.8,790.4 330.1,789.1 334.4,787.8 338.7,786.5 343.0,785.2 347.3,783.9 351.6,782.6 355.9,781.3 360.2,780.0 364.5,778.6 368.7,777.2 372.9,775.6 377.0,773.8 381.3,772.4 385.6,771.2 389.9,770.0 394.3,768.8 398.6,767.7 403.0,766.6 407.3,765.4 411.6,764.2 415.9,763.0 420.3,762.0 424.7,761.3 429.2,760.8 433.7,760.5 438.2,760.4 442.6,760.4 447.1,760.7 451.6,761.2 456.0,762.1 460.2,763.6 464.3,765.4 468.6,766.7 472.9,767.8 477.3,768.7 481.7,769.5 486.2,770.2 490.6,770.8 495.1,771.3 499.5,771.6 504.0,771.7 508.5,771.7 513.0,771.8 513.0,775.3 508.5,775.2 504.0,775.1 499.5,775.0 495.1,774.7 490.6,774.3 486.1,773.8 481.7,773.2 477.3,772.4 472.9,771.6 468.5,770.5 464.2,769.2 460.1,767.4 456.0,765.7 451.6,764.8 447.1,764.2 442.6,764.0 438.1,763.9 433.7,764.0 429.2,764.3 424.7,764.7 420.3,765.5 415.9,766.5 411.6,767.7 407.3,769.0 403.0,770.2 398.6,771.3 394.3,772.5 390.0,773.6 385.6,774.8 381.3,776.1 377.1,777.5 373.0,779.3 368.8,781.0 364.6,782.5 360.3,783.8 356.0,785.2 351.7,786.5 347.4,787.8 343.2,789.1 338.9,790.4 334.6,791.7 330.3,793.0 326.0,794.4 321.7,795.7 317.4,797.0 313.1,798.3 308.8,799.6 304.5,800.7 300.1,801.7 295.7,802.7 291.3,803.7 286.9,804.6 282.5,805.5 278.1,806.3 273.7,807.1 269.3,807.9 264.9,808.6 260.4,809.1 255.9,809.5 251.4,809.7 247.0,809.8 242.5,809.8 238.0,809.5" fill="#687485"/>
<polygon points="238.0,808.0 242.4,808.2 246.9,808.0 251.4,807.9 255.9,807.6 260.3,807.2 264.8,806.6 269.2,805.9 273.6,805.2 278.0,804.3 282.4,803.5 286.8,802.6 291.2,801.7 295.6,800.7 300.0,799.7 304.4,798.6 308.7,797.5 313.0,796.3 317.3,795.0 321.6,793.7 325.9,792.4 330.2,791.1 334.5,789.8 338.8,788.5 343.1,787.2 347.4,785.9 351.7,784.6 356.0,783.2 360.2,781.9 364.5,780.5 368.8,779.1 372.9,777.4 377.1,775.7 381.3,774.3 385.6,773.0 389.9,771.8 394.3,770.7 398.6,769.5 403.0,768.4 407.3,767.2 411.6,765.9 415.9,764.7 420.3,763.7 424.7,763.0 429.2,762.5 433.7,762.3 438.2,762.1 442.6,762.2 447.1,762.5 451.6,763.0 456.0,763.9 460.1,765.5 464.3,767.3 468.5,768.6 472.9,769.7 477.3,770.6 481.7,771.3 486.1,772.0 490.6,772.6 495.1,773.0 499.5,773.3 504.0,773.4 508.5,773.5 513.0,773.5 513.0,775.3 508.5,775.2 504.0,775.1 499.5,775.0 495.1,774.7 490.6,774.3 486.1,773.8 481.7,773.2 477.3,772.4 472.9,771.6 468.5,770.5 464.2,769.2 460.1,767.4 456.0,765.7 451.6,764.8 447.1,764.2 442.6,764.0 438.1,763.9 433.7,764.0 429.2,764.3 424.7,764.7 420.3,765.5 415.9,766.5 411.6,767.7 407.3,769.0 403.0,770.2 398.6,771.3 394.3,772.5 390.0,773.6 385.6,774.8 381.3,776.1 377.1,777.5 373.0,779.3 368.8,781.0 364.6,782.5 360.3,783.8 356.0,785.2 351.7,786.5 347.4,787.8 343.2,789.1 338.9,790.4 334.6,791.7 330.3,793.0 326.0,794.4 321.7,795.7 317.4,797.0 313.1,798.3 308.8,799.6 304.5,800.7 300.1,801.7 295.7,802.7 291.3,803.7 286.9,804.6 282.5,805.5 278.1,806.3 273.7,807.1 269.3,807.9 264.9,808.6 260.4,809.1 255.9,809.5 251.4,809.7 247.0,809.8 242.5,809.8 238.0,809.5" fill="#576172"/>
<path d="M331.5,781 L341,778 L341,773.5 L362,768.5 L363.5,772 L366.5,771.5 L366.5,783 L336,792.5 L331.5,792.5Z" fill="#a5b2c4" stroke="#8491a3" stroke-width="0.6"/>
<path d="M341,778 L362,772.5" stroke="#c4d0de" stroke-width="1.4"/>
<circle cx="348" cy="785" r="0.9" fill="#556070"/><circle cx="355" cy="782.5" r="0.9" fill="#556070"/><circle cx="359" cy="781" r="0.9" fill="#556070"/>
<circle cx="276.5" cy="783.5" r="4.6" fill="#b2bfd0" stroke="#6f7b8c" stroke-width="1"/><circle cx="277" cy="783.5" r="2.2" fill="none" stroke="#7f8b9c" stroke-width="0.8"/>
<polygon points="155.0,727.2 154.7,728.4 154.3,729.6 154.0,730.7 153.6,731.9 153.3,733.1 152.9,734.3 152.6,735.5 152.3,736.7 152.0,737.8 151.7,739.0 151.4,740.2 151.2,741.4 150.9,742.7 150.7,743.9 150.6,745.1 150.6,746.3 150.9,747.5 151.2,748.7 151.7,749.8 152.2,751.0 152.8,752.0 153.4,753.1 154.1,754.1 154.8,755.1 155.5,756.1 156.2,757.1 157.0,758.1 157.8,759.0 158.5,760.0 159.3,760.9 160.2,761.9 161.0,762.8 161.8,763.7 162.6,764.6 163.5,765.5 164.3,766.4 165.1,767.3 166.0,768.2 166.8,769.1 167.7,770.0 168.5,770.9 169.4,771.8 170.2,772.7 171.0,773.6 171.9,774.4 172.8,775.3 173.7,776.2 174.5,777.0 175.5,777.8 176.4,778.7 177.3,779.4 178.3,780.1 179.4,780.8 180.4,781.5 181.5,782.1 182.6,782.7 183.7,783.2 184.7,783.8 185.8,784.5 186.8,785.1 187.9,785.7 188.9,786.4 190.0,787.0 208.0,761.0 207.5,760.6 206.9,760.3 206.4,759.9 205.8,759.5 205.3,759.2 204.7,758.8 204.2,758.5 203.6,758.2 203.0,757.8 202.4,757.5 201.9,757.2 201.3,756.8 200.8,756.5 200.3,756.1 199.7,755.7 199.2,755.2 198.8,754.8 198.3,754.3 197.8,753.9 197.4,753.4 196.9,752.9 196.5,752.4 196.0,752.0 195.6,751.5 195.1,751.0 194.6,750.5 194.2,750.1 193.7,749.6 193.2,749.2 192.8,748.7 192.3,748.2 191.8,747.8 191.4,747.3 190.9,746.9 190.4,746.4 190.0,746.0 189.5,745.5 189.0,745.0 188.6,744.6 188.1,744.1 187.6,743.7 187.1,743.3 186.6,742.8 186.1,742.4 185.6,742.0 185.2,741.5 184.7,741.0 184.3,740.5 183.9,740.0 183.6,739.4 183.3,738.8 183.0,738.2 182.7,737.6 182.5,737.0 182.4,736.4 182.2,735.7 182.0,735.1 181.8,734.5 181.7,733.8 181.5,733.2 181.4,732.6 181.2,731.9 181.0,731.3" fill="#9ca9ba"/>
<polygon points="156.9,727.5 156.6,728.6 156.3,729.8 155.9,730.9 155.6,732.1 155.3,733.2 155.0,734.3 154.7,735.5 154.4,736.6 154.2,737.8 153.9,738.9 153.7,740.1 153.5,741.3 153.2,742.4 153.1,743.6 153.0,744.8 153.1,745.9 153.3,747.1 153.7,748.2 154.1,749.3 154.6,750.4 155.2,751.4 155.9,752.4 156.5,753.4 157.2,754.4 157.9,755.3 158.6,756.3 159.3,757.2 160.1,758.1 160.9,759.1 161.6,760.0 162.4,760.9 163.2,761.7 164.0,762.6 164.8,763.5 165.6,764.4 166.4,765.2 167.2,766.1 168.1,767.0 168.9,767.8 169.7,768.7 170.5,769.6 171.3,770.4 172.1,771.3 173.0,772.2 173.8,773.0 174.6,773.8 175.5,774.7 176.3,775.5 177.2,776.3 178.1,777.1 179.1,777.8 180.0,778.5 181.0,779.2 182.0,779.8 183.1,780.4 184.1,780.9 185.2,781.5 186.2,782.1 187.2,782.7 188.2,783.3 189.2,783.9 190.3,784.5 191.3,785.1 208.0,761.0 207.5,760.6 206.9,760.3 206.4,759.9 205.8,759.5 205.3,759.2 204.7,758.8 204.2,758.5 203.6,758.2 203.0,757.8 202.4,757.5 201.9,757.2 201.3,756.8 200.8,756.5 200.3,756.1 199.7,755.7 199.2,755.2 198.8,754.8 198.3,754.3 197.8,753.9 197.4,753.4 196.9,752.9 196.5,752.4 196.0,752.0 195.6,751.5 195.1,751.0 194.6,750.5 194.2,750.1 193.7,749.6 193.2,749.2 192.8,748.7 192.3,748.2 191.8,747.8 191.4,747.3 190.9,746.9 190.4,746.4 190.0,746.0 189.5,745.5 189.0,745.0 188.6,744.6 188.1,744.1 187.6,743.7 187.1,743.3 186.6,742.8 186.1,742.4 185.6,742.0 185.2,741.5 184.7,741.0 184.3,740.5 183.9,740.0 183.6,739.4 183.3,738.8 183.0,738.2 182.7,737.6 182.5,737.0 182.4,736.4 182.2,735.7 182.0,735.1 181.8,734.5 181.7,733.8 181.5,733.2 181.4,732.6 181.2,731.9 181.0,731.3" fill="#8997ab"/>
<polygon points="158.7,727.8 158.5,728.9 158.2,730.0 157.9,731.1 157.6,732.2 157.4,733.3 157.1,734.4 156.8,735.5 156.6,736.6 156.3,737.7 156.1,738.8 155.9,740.0 155.8,741.1 155.6,742.2 155.4,743.3 155.4,744.4 155.5,745.6 155.8,746.7 156.1,747.7 156.6,748.8 157.1,749.8 157.7,750.8 158.3,751.7 159.0,752.7 159.6,753.6 160.3,754.5 161.0,755.5 161.7,756.4 162.4,757.2 163.2,758.1 163.9,759.0 164.7,759.8 165.5,760.7 166.2,761.5 167.0,762.4 167.8,763.2 168.6,764.1 169.4,764.9 170.1,765.7 170.9,766.6 171.7,767.4 172.5,768.3 173.3,769.1 174.1,769.9 174.9,770.7 175.7,771.6 176.5,772.4 177.3,773.2 178.1,774.0 179.0,774.7 179.9,775.5 180.8,776.2 181.7,776.9 182.7,777.5 183.6,778.1 184.6,778.7 185.7,779.2 186.7,779.8 187.7,780.3 188.6,780.9 189.6,781.5 190.6,782.1 191.6,782.7 192.6,783.3 208.0,761.0 207.5,760.6 206.9,760.3 206.4,759.9 205.8,759.5 205.3,759.2 204.7,758.8 204.2,758.5 203.6,758.2 203.0,757.8 202.4,757.5 201.9,757.2 201.3,756.8 200.8,756.5 200.3,756.1 199.7,755.7 199.2,755.2 198.8,754.8 198.3,754.3 197.8,753.9 197.4,753.4 196.9,752.9 196.5,752.4 196.0,752.0 195.6,751.5 195.1,751.0 194.6,750.5 194.2,750.1 193.7,749.6 193.2,749.2 192.8,748.7 192.3,748.2 191.8,747.8 191.4,747.3 190.9,746.9 190.4,746.4 190.0,746.0 189.5,745.5 189.0,745.0 188.6,744.6 188.1,744.1 187.6,743.7 187.1,743.3 186.6,742.8 186.1,742.4 185.6,742.0 185.2,741.5 184.7,741.0 184.3,740.5 183.9,740.0 183.6,739.4 183.3,738.8 183.0,738.2 182.7,737.6 182.5,737.0 182.4,736.4 182.2,735.7 182.0,735.1 181.8,734.5 181.7,733.8 181.5,733.2 181.4,732.6 181.2,731.9 181.0,731.3" fill="#8e9caf"/>
<polygon points="160.6,728.1 160.3,729.1 160.1,730.2 159.9,731.3 159.6,732.3 159.4,733.4 159.2,734.5 158.9,735.5 158.7,736.6 158.5,737.7 158.4,738.7 158.2,739.8 158.0,740.9 157.9,742.0 157.8,743.0 157.8,744.1 157.9,745.2 158.2,746.2 158.6,747.3 159.0,748.3 159.6,749.2 160.1,750.2 160.7,751.1 161.4,752.0 162.0,752.9 162.7,753.7 163.4,754.6 164.1,755.5 164.8,756.3 165.5,757.2 166.2,758.0 166.9,758.8 167.7,759.7 168.4,760.5 169.2,761.3 169.9,762.1 170.7,762.9 171.5,763.7 172.2,764.5 173.0,765.3 173.7,766.1 174.5,766.9 175.3,767.7 176.0,768.5 176.8,769.3 177.6,770.1 178.3,770.9 179.1,771.7 179.9,772.4 180.8,773.2 181.6,773.9 182.5,774.6 183.4,775.2 184.3,775.8 185.3,776.4 186.2,776.9 187.2,777.5 188.2,778.0 189.1,778.6 190.1,779.1 191.0,779.7 192.0,780.3 192.9,780.9 193.9,781.4 208.0,761.0 207.5,760.6 206.9,760.3 206.4,759.9 205.8,759.5 205.3,759.2 204.7,758.8 204.2,758.5 203.6,758.2 203.0,757.8 202.4,757.5 201.9,757.2 201.3,756.8 200.8,756.5 200.3,756.1 199.7,755.7 199.2,755.2 198.8,754.8 198.3,754.3 197.8,753.9 197.4,753.4 196.9,752.9 196.5,752.4 196.0,752.0 195.6,751.5 195.1,751.0 194.6,750.5 194.2,750.1 193.7,749.6 193.2,749.2 192.8,748.7 192.3,748.2 191.8,747.8 191.4,747.3 190.9,746.9 190.4,746.4 190.0,746.0 189.5,745.5 189.0,745.0 188.6,744.6 188.1,744.1 187.6,743.7 187.1,743.3 186.6,742.8 186.1,742.4 185.6,742.0 185.2,741.5 184.7,741.0 184.3,740.5 183.9,740.0 183.6,739.4 183.3,738.8 183.0,738.2 182.7,737.6 182.5,737.0 182.4,736.4 182.2,735.7 182.0,735.1 181.8,734.5 181.7,733.8 181.5,733.2 181.4,732.6 181.2,731.9 181.0,731.3" fill="#97a5b9"/>
<polygon points="162.4,728.4 162.2,729.4 162.0,730.4 161.8,731.4 161.6,732.5 161.4,733.5 161.2,734.5 161.0,735.5 160.9,736.6 160.7,737.6 160.6,738.6 160.5,739.7 160.3,740.7 160.2,741.7 160.2,742.7 160.2,743.8 160.4,744.8 160.7,745.8 161.0,746.8 161.5,747.7 162.0,748.6 162.6,749.5 163.2,750.4 163.8,751.3 164.4,752.1 165.1,753.0 165.7,753.8 166.4,754.6 167.1,755.4 167.8,756.2 168.5,757.0 169.2,757.8 169.9,758.6 170.6,759.4 171.4,760.2 172.1,761.0 172.8,761.7 173.6,762.5 174.3,763.3 175.0,764.1 175.8,764.8 176.5,765.6 177.2,766.4 178.0,767.2 178.7,767.9 179.4,768.7 180.2,769.4 181.0,770.2 181.7,770.9 182.5,771.6 183.4,772.3 184.2,773.0 185.1,773.6 186.0,774.2 186.9,774.7 187.8,775.2 188.7,775.8 189.7,776.3 190.6,776.8 191.5,777.3 192.4,777.9 193.3,778.5 194.2,779.0 195.1,779.6 208.0,761.0 207.5,760.6 206.9,760.3 206.4,759.9 205.8,759.5 205.3,759.2 204.7,758.8 204.2,758.5 203.6,758.2 203.0,757.8 202.4,757.5 201.9,757.2 201.3,756.8 200.8,756.5 200.3,756.1 199.7,755.7 199.2,755.2 198.8,754.8 198.3,754.3 197.8,753.9 197.4,753.4 196.9,752.9 196.5,752.4 196.0,752.0 195.6,751.5 195.1,751.0 194.6,750.5 194.2,750.1 193.7,749.6 193.2,749.2 192.8,748.7 192.3,748.2 191.8,747.8 191.4,747.3 190.9,746.9 190.4,746.4 190.0,746.0 189.5,745.5 189.0,745.0 188.6,744.6 188.1,744.1 187.6,743.7 187.1,743.3 186.6,742.8 186.1,742.4 185.6,742.0 185.2,741.5 184.7,741.0 184.3,740.5 183.9,740.0 183.6,739.4 183.3,738.8 183.0,738.2 182.7,737.6 182.5,737.0 182.4,736.4 182.2,735.7 182.0,735.1 181.8,734.5 181.7,733.8 181.5,733.2 181.4,732.6 181.2,731.9 181.0,731.3" fill="#a1aec1"/>
<polygon points="164.3,728.7 164.1,729.7 164.0,730.6 163.8,731.6 163.6,732.6 163.5,733.6 163.3,734.6 163.2,735.6 163.0,736.6 162.9,737.5 162.8,738.5 162.7,739.5 162.6,740.5 162.6,741.5 162.6,742.5 162.6,743.4 162.8,744.4 163.1,745.4 163.5,746.3 164.0,747.2 164.5,748.1 165.0,748.9 165.6,749.7 166.2,750.5 166.9,751.4 167.5,752.2 168.1,753.0 168.8,753.8 169.4,754.5 170.1,755.3 170.8,756.1 171.5,756.8 172.2,757.6 172.9,758.3 173.6,759.1 174.3,759.8 175.0,760.6 175.7,761.3 176.4,762.1 177.1,762.8 177.8,763.6 178.5,764.3 179.2,765.0 179.9,765.8 180.6,766.5 181.3,767.3 182.1,768.0 182.8,768.7 183.5,769.4 184.3,770.1 185.1,770.7 185.9,771.4 186.7,771.9 187.6,772.5 188.5,773.0 189.4,773.5 190.3,774.0 191.2,774.5 192.1,775.0 192.9,775.6 193.8,776.1 194.7,776.6 195.6,777.2 196.4,777.7 208.0,761.0 207.5,760.6 206.9,760.3 206.4,759.9 205.8,759.5 205.3,759.2 204.7,758.8 204.2,758.5 203.6,758.2 203.0,757.8 202.4,757.5 201.9,757.2 201.3,756.8 200.8,756.5 200.3,756.1 199.7,755.7 199.2,755.2 198.8,754.8 198.3,754.3 197.8,753.9 197.4,753.4 196.9,752.9 196.5,752.4 196.0,752.0 195.6,751.5 195.1,751.0 194.6,750.5 194.2,750.1 193.7,749.6 193.2,749.2 192.8,748.7 192.3,748.2 191.8,747.8 191.4,747.3 190.9,746.9 190.4,746.4 190.0,746.0 189.5,745.5 189.0,745.0 188.6,744.6 188.1,744.1 187.6,743.7 187.1,743.3 186.6,742.8 186.1,742.4 185.6,742.0 185.2,741.5 184.7,741.0 184.3,740.5 183.9,740.0 183.6,739.4 183.3,738.8 183.0,738.2 182.7,737.6 182.5,737.0 182.4,736.4 182.2,735.7 182.0,735.1 181.8,734.5 181.7,733.8 181.5,733.2 181.4,732.6 181.2,731.9 181.0,731.3" fill="#a9b7c9"/>
<polygon points="166.1,729.0 166.0,729.9 165.9,730.8 165.8,731.8 165.7,732.7 165.5,733.7 165.4,734.6 165.3,735.6 165.2,736.5 165.1,737.5 165.0,738.4 165.0,739.4 164.9,740.3 164.9,741.3 164.9,742.2 165.0,743.1 165.2,744.0 165.6,744.9 166.0,745.8 166.4,746.7 166.9,747.5 167.5,748.3 168.1,749.1 168.7,749.8 169.3,750.6 169.9,751.4 170.5,752.1 171.1,752.9 171.8,753.6 172.4,754.4 173.1,755.1 173.7,755.8 174.4,756.5 175.1,757.3 175.7,758.0 176.4,758.7 177.1,759.4 177.8,760.1 178.5,760.8 179.1,761.5 179.8,762.3 180.5,763.0 181.2,763.7 181.8,764.4 182.5,765.1 183.2,765.8 183.9,766.5 184.6,767.2 185.3,767.9 186.1,768.5 186.8,769.1 187.6,769.7 188.4,770.3 189.3,770.8 190.1,771.3 191.0,771.8 191.8,772.3 192.7,772.8 193.5,773.3 194.4,773.8 195.2,774.3 196.0,774.8 196.9,775.3 197.7,775.9 208.0,761.0 207.5,760.6 206.9,760.3 206.4,759.9 205.8,759.5 205.3,759.2 204.7,758.8 204.2,758.5 203.6,758.2 203.0,757.8 202.4,757.5 201.9,757.2 201.3,756.8 200.8,756.5 200.3,756.1 199.7,755.7 199.2,755.2 198.8,754.8 198.3,754.3 197.8,753.9 197.4,753.4 196.9,752.9 196.5,752.4 196.0,752.0 195.6,751.5 195.1,751.0 194.6,750.5 194.2,750.1 193.7,749.6 193.2,749.2 192.8,748.7 192.3,748.2 191.8,747.8 191.4,747.3 190.9,746.9 190.4,746.4 190.0,746.0 189.5,745.5 189.0,745.0 188.6,744.6 188.1,744.1 187.6,743.7 187.1,743.3 186.6,742.8 186.1,742.4 185.6,742.0 185.2,741.5 184.7,741.0 184.3,740.5 183.9,740.0 183.6,739.4 183.3,738.8 183.0,738.2 182.7,737.6 182.5,737.0 182.4,736.4 182.2,735.7 182.0,735.1 181.8,734.5 181.7,733.8 181.5,733.2 181.4,732.6 181.2,731.9 181.0,731.3" fill="#b2bfd1"/>
<polygon points="168.0,729.2 167.9,730.2 167.8,731.1 167.8,732.0 167.7,732.9 167.6,733.8 167.5,734.7 167.4,735.6 167.3,736.5 167.3,737.4 167.2,738.3 167.2,739.2 167.2,740.1 167.2,741.0 167.3,741.9 167.4,742.8 167.7,743.7 168.0,744.5 168.4,745.3 168.9,746.1 169.4,746.9 169.9,747.7 170.5,748.4 171.1,749.1 171.7,749.9 172.3,750.6 172.9,751.3 173.5,752.0 174.1,752.7 174.7,753.4 175.4,754.1 176.0,754.8 176.6,755.5 177.3,756.2 177.9,756.9 178.6,757.6 179.2,758.2 179.9,758.9 180.5,759.6 181.2,760.3 181.8,761.0 182.5,761.7 183.1,762.3 183.8,763.0 184.4,763.7 185.1,764.4 185.8,765.0 186.4,765.7 187.1,766.3 187.9,767.0 188.6,767.6 189.3,768.1 190.1,768.7 190.9,769.2 191.7,769.7 192.5,770.1 193.4,770.6 194.2,771.0 195.0,771.5 195.8,772.0 196.6,772.5 197.4,773.0 198.2,773.5 199.0,774.0 208.0,761.0 207.5,760.6 206.9,760.3 206.4,759.9 205.8,759.5 205.3,759.2 204.7,758.8 204.2,758.5 203.6,758.2 203.0,757.8 202.4,757.5 201.9,757.2 201.3,756.8 200.8,756.5 200.3,756.1 199.7,755.7 199.2,755.2 198.8,754.8 198.3,754.3 197.8,753.9 197.4,753.4 196.9,752.9 196.5,752.4 196.0,752.0 195.6,751.5 195.1,751.0 194.6,750.5 194.2,750.1 193.7,749.6 193.2,749.2 192.8,748.7 192.3,748.2 191.8,747.8 191.4,747.3 190.9,746.9 190.4,746.4 190.0,746.0 189.5,745.5 189.0,745.0 188.6,744.6 188.1,744.1 187.6,743.7 187.1,743.3 186.6,742.8 186.1,742.4 185.6,742.0 185.2,741.5 184.7,741.0 184.3,740.5 183.9,740.0 183.6,739.4 183.3,738.8 183.0,738.2 182.7,737.6 182.5,737.0 182.4,736.4 182.2,735.7 182.0,735.1 181.8,734.5 181.7,733.8 181.5,733.2 181.4,732.6 181.2,731.9 181.0,731.3" fill="#bac7d9"/>
<polygon points="169.9,729.5 169.8,730.4 169.8,731.3 169.7,732.1 169.7,733.0 169.6,733.9 169.5,734.8 169.5,735.6 169.5,736.5 169.4,737.4 169.4,738.2 169.5,739.1 169.5,740.0 169.6,740.8 169.7,741.6 169.8,742.5 170.1,743.3 170.5,744.1 170.9,744.8 171.3,745.6 171.8,746.3 172.4,747.0 172.9,747.7 173.5,748.4 174.1,749.1 174.7,749.8 175.2,750.5 175.8,751.2 176.4,751.8 177.0,752.5 177.6,753.2 178.3,753.8 178.9,754.5 179.5,755.1 180.1,755.8 180.7,756.4 181.4,757.1 182.0,757.7 182.6,758.4 183.2,759.0 183.9,759.7 184.5,760.3 185.1,761.0 185.7,761.7 186.4,762.3 187.0,762.9 187.6,763.6 188.3,764.2 188.9,764.8 189.6,765.4 190.3,766.0 191.0,766.5 191.8,767.0 192.6,767.5 193.3,768.0 194.1,768.4 194.9,768.8 195.7,769.3 196.5,769.7 197.2,770.2 198.0,770.7 198.8,771.2 199.5,771.7 200.3,772.1 208.0,761.0 207.5,760.6 206.9,760.3 206.4,759.9 205.8,759.5 205.3,759.2 204.7,758.8 204.2,758.5 203.6,758.2 203.0,757.8 202.4,757.5 201.9,757.2 201.3,756.8 200.8,756.5 200.3,756.1 199.7,755.7 199.2,755.2 198.8,754.8 198.3,754.3 197.8,753.9 197.4,753.4 196.9,752.9 196.5,752.4 196.0,752.0 195.6,751.5 195.1,751.0 194.6,750.5 194.2,750.1 193.7,749.6 193.2,749.2 192.8,748.7 192.3,748.2 191.8,747.8 191.4,747.3 190.9,746.9 190.4,746.4 190.0,746.0 189.5,745.5 189.0,745.0 188.6,744.6 188.1,744.1 187.6,743.7 187.1,743.3 186.6,742.8 186.1,742.4 185.6,742.0 185.2,741.5 184.7,741.0 184.3,740.5 183.9,740.0 183.6,739.4 183.3,738.8 183.0,738.2 182.7,737.6 182.5,737.0 182.4,736.4 182.2,735.7 182.0,735.1 181.8,734.5 181.7,733.8 181.5,733.2 181.4,732.6 181.2,731.9 181.0,731.3" fill="#bfccde"/>
<polygon points="171.7,729.8 171.7,730.7 171.7,731.5 171.7,732.3 171.7,733.2 171.6,734.0 171.6,734.8 171.6,735.6 171.6,736.5 171.6,737.3 171.7,738.1 171.7,739.0 171.8,739.8 171.9,740.6 172.0,741.4 172.3,742.1 172.5,742.9 172.9,743.6 173.3,744.4 173.8,745.1 174.3,745.7 174.8,746.4 175.4,747.0 175.9,747.7 176.5,748.3 177.1,749.0 177.6,749.6 178.2,750.3 178.8,750.9 179.3,751.6 179.9,752.2 180.5,752.8 181.1,753.4 181.7,754.1 182.3,754.7 182.9,755.3 183.5,755.9 184.1,756.5 184.7,757.2 185.3,757.8 185.9,758.4 186.5,759.0 187.1,759.7 187.7,760.3 188.3,760.9 188.9,761.5 189.5,762.1 190.1,762.7 190.7,763.3 191.4,763.8 192.1,764.4 192.8,764.9 193.5,765.4 194.2,765.8 194.9,766.3 195.7,766.7 196.4,767.1 197.2,767.5 197.9,768.0 198.7,768.4 199.4,768.9 200.1,769.4 200.8,769.8 201.6,770.3 208.0,761.0 207.5,760.6 206.9,760.3 206.4,759.9 205.8,759.5 205.3,759.2 204.7,758.8 204.2,758.5 203.6,758.2 203.0,757.8 202.4,757.5 201.9,757.2 201.3,756.8 200.8,756.5 200.3,756.1 199.7,755.7 199.2,755.2 198.8,754.8 198.3,754.3 197.8,753.9 197.4,753.4 196.9,752.9 196.5,752.4 196.0,752.0 195.6,751.5 195.1,751.0 194.6,750.5 194.2,750.1 193.7,749.6 193.2,749.2 192.8,748.7 192.3,748.2 191.8,747.8 191.4,747.3 190.9,746.9 190.4,746.4 190.0,746.0 189.5,745.5 189.0,745.0 188.6,744.6 188.1,744.1 187.6,743.7 187.1,743.3 186.6,742.8 186.1,742.4 185.6,742.0 185.2,741.5 184.7,741.0 184.3,740.5 183.9,740.0 183.6,739.4 183.3,738.8 183.0,738.2 182.7,737.6 182.5,737.0 182.4,736.4 182.2,735.7 182.0,735.1 181.8,734.5 181.7,733.8 181.5,733.2 181.4,732.6 181.2,731.9 181.0,731.3" fill="#c4d0e2"/>
<polygon points="173.6,730.1 173.6,730.9 173.6,731.7 173.7,732.5 173.7,733.3 173.7,734.1 173.7,734.9 173.7,735.7 173.8,736.5 173.8,737.2 173.9,738.0 174.0,738.8 174.1,739.6 174.2,740.3 174.4,741.1 174.7,741.8 175.0,742.5 175.4,743.2 175.8,743.9 176.3,744.5 176.8,745.2 177.3,745.8 177.8,746.4 178.4,747.0 178.9,747.6 179.5,748.2 180.0,748.8 180.5,749.4 181.1,750.0 181.7,750.6 182.2,751.2 182.8,751.8 183.4,752.4 183.9,753.0 184.5,753.6 185.1,754.2 185.6,754.7 186.2,755.3 186.8,755.9 187.4,756.5 187.9,757.1 188.5,757.7 189.0,758.3 189.6,758.9 190.2,759.5 190.8,760.1 191.3,760.6 191.9,761.2 192.5,761.8 193.2,762.3 193.8,762.8 194.5,763.3 195.2,763.7 195.8,764.2 196.6,764.6 197.3,765.0 198.0,765.4 198.7,765.8 199.4,766.2 200.1,766.7 200.8,767.1 201.5,767.5 202.2,768.0 202.9,768.4 208.0,761.0 207.5,760.6 206.9,760.3 206.4,759.9 205.8,759.5 205.3,759.2 204.7,758.8 204.2,758.5 203.6,758.2 203.0,757.8 202.4,757.5 201.9,757.2 201.3,756.8 200.8,756.5 200.3,756.1 199.7,755.7 199.2,755.2 198.8,754.8 198.3,754.3 197.8,753.9 197.4,753.4 196.9,752.9 196.5,752.4 196.0,752.0 195.6,751.5 195.1,751.0 194.6,750.5 194.2,750.1 193.7,749.6 193.2,749.2 192.8,748.7 192.3,748.2 191.8,747.8 191.4,747.3 190.9,746.9 190.4,746.4 190.0,746.0 189.5,745.5 189.0,745.0 188.6,744.6 188.1,744.1 187.6,743.7 187.1,743.3 186.6,742.8 186.1,742.4 185.6,742.0 185.2,741.5 184.7,741.0 184.3,740.5 183.9,740.0 183.6,739.4 183.3,738.8 183.0,738.2 182.7,737.6 182.5,737.0 182.4,736.4 182.2,735.7 182.0,735.1 181.8,734.5 181.7,733.8 181.5,733.2 181.4,732.6 181.2,731.9 181.0,731.3" fill="#c8d4e6"/>
<polygon points="175.4,730.4 175.5,731.2 175.6,731.9 175.6,732.7 175.7,733.4 175.7,734.2 175.8,734.9 175.8,735.7 175.9,736.4 176.0,737.2 176.1,737.9 176.2,738.7 176.4,739.4 176.6,740.1 176.8,740.8 177.1,741.5 177.4,742.1 177.8,742.8 178.2,743.4 178.7,744.0 179.2,744.6 179.7,745.1 180.3,745.7 180.8,746.3 181.3,746.8 181.8,747.4 182.4,748.0 182.9,748.6 183.4,749.1 184.0,749.7 184.5,750.2 185.0,750.8 185.6,751.4 186.1,751.9 186.7,752.5 187.2,753.0 187.8,753.6 188.3,754.1 188.9,754.7 189.4,755.3 189.9,755.8 190.5,756.4 191.0,757.0 191.6,757.5 192.1,758.1 192.6,758.6 193.2,759.2 193.8,759.7 194.3,760.2 194.9,760.7 195.6,761.2 196.2,761.7 196.8,762.1 197.5,762.5 198.2,762.9 198.8,763.3 199.5,763.7 200.2,764.1 200.9,764.5 201.5,764.9 202.2,765.3 202.8,765.7 203.5,766.1 204.1,766.6 208.0,761.0 207.5,760.6 206.9,760.3 206.4,759.9 205.8,759.5 205.3,759.2 204.7,758.8 204.2,758.5 203.6,758.2 203.0,757.8 202.4,757.5 201.9,757.2 201.3,756.8 200.8,756.5 200.3,756.1 199.7,755.7 199.2,755.2 198.8,754.8 198.3,754.3 197.8,753.9 197.4,753.4 196.9,752.9 196.5,752.4 196.0,752.0 195.6,751.5 195.1,751.0 194.6,750.5 194.2,750.1 193.7,749.6 193.2,749.2 192.8,748.7 192.3,748.2 191.8,747.8 191.4,747.3 190.9,746.9 190.4,746.4 190.0,746.0 189.5,745.5 189.0,745.0 188.6,744.6 188.1,744.1 187.6,743.7 187.1,743.3 186.6,742.8 186.1,742.4 185.6,742.0 185.2,741.5 184.7,741.0 184.3,740.5 183.9,740.0 183.6,739.4 183.3,738.8 183.0,738.2 182.7,737.6 182.5,737.0 182.4,736.4 182.2,735.7 182.0,735.1 181.8,734.5 181.7,733.8 181.5,733.2 181.4,732.6 181.2,731.9 181.0,731.3" fill="#becbdd"/>
<polygon points="177.3,730.7 177.4,731.4 177.5,732.1 177.6,732.8 177.7,733.6 177.8,734.3 177.9,735.0 177.9,735.7 178.1,736.4 178.2,737.1 178.3,737.8 178.5,738.5 178.7,739.2 178.9,739.9 179.2,740.5 179.5,741.2 179.8,741.8 180.3,742.4 180.7,742.9 181.2,743.5 181.7,744.0 182.2,744.5 182.7,745.0 183.2,745.6 183.7,746.1 184.2,746.6 184.7,747.2 185.3,747.7 185.8,748.2 186.3,748.7 186.8,749.3 187.3,749.8 187.8,750.3 188.4,750.8 188.9,751.4 189.4,751.9 189.9,752.4 190.4,752.9 190.9,753.5 191.5,754.0 192.0,754.5 192.5,755.1 193.0,755.6 193.5,756.1 194.0,756.7 194.5,757.2 195.1,757.7 195.6,758.2 196.1,758.7 196.7,759.2 197.3,759.6 197.9,760.1 198.5,760.5 199.1,760.8 199.8,761.2 200.4,761.6 201.1,761.9 201.7,762.3 202.3,762.7 203.0,763.1 203.6,763.5 204.2,763.9 204.8,764.3 205.4,764.7 208.0,761.0 207.5,760.6 206.9,760.3 206.4,759.9 205.8,759.5 205.3,759.2 204.7,758.8 204.2,758.5 203.6,758.2 203.0,757.8 202.4,757.5 201.9,757.2 201.3,756.8 200.8,756.5 200.3,756.1 199.7,755.7 199.2,755.2 198.8,754.8 198.3,754.3 197.8,753.9 197.4,753.4 196.9,752.9 196.5,752.4 196.0,752.0 195.6,751.5 195.1,751.0 194.6,750.5 194.2,750.1 193.7,749.6 193.2,749.2 192.8,748.7 192.3,748.2 191.8,747.8 191.4,747.3 190.9,746.9 190.4,746.4 190.0,746.0 189.5,745.5 189.0,745.0 188.6,744.6 188.1,744.1 187.6,743.7 187.1,743.3 186.6,742.8 186.1,742.4 185.6,742.0 185.2,741.5 184.7,741.0 184.3,740.5 183.9,740.0 183.6,739.4 183.3,738.8 183.0,738.2 182.7,737.6 182.5,737.0 182.4,736.4 182.2,735.7 182.0,735.1 181.8,734.5 181.7,733.8 181.5,733.2 181.4,732.6 181.2,731.9 181.0,731.3" fill="#b5c3d5"/>
<polygon points="179.1,731.0 179.3,731.7 179.4,732.3 179.6,733.0 179.7,733.7 179.8,734.4 179.9,735.0 180.1,735.7 180.2,736.4 180.4,737.1 180.5,737.7 180.7,738.4 181.0,739.0 181.2,739.6 181.5,740.2 181.9,740.8 182.3,741.4 182.7,741.9 183.2,742.4 183.6,742.9 184.1,743.4 184.6,743.9 185.1,744.4 185.6,744.8 186.1,745.3 186.6,745.8 187.1,746.3 187.6,746.8 188.1,747.3 188.6,747.8 189.1,748.3 189.6,748.8 190.1,749.3 190.6,749.8 191.1,750.3 191.6,750.8 192.0,751.3 192.5,751.7 193.0,752.2 193.5,752.7 194.0,753.3 194.5,753.8 195.0,754.3 195.4,754.8 195.9,755.3 196.4,755.8 196.9,756.3 197.4,756.7 197.9,757.2 198.5,757.6 199.0,758.0 199.6,758.4 200.2,758.8 200.8,759.2 201.4,759.5 202.0,759.9 202.6,760.2 203.2,760.6 203.8,760.9 204.4,761.3 205.0,761.7 205.6,762.1 206.1,762.5 206.7,762.9 208.0,761.0 207.5,760.6 206.9,760.3 206.4,759.9 205.8,759.5 205.3,759.2 204.7,758.8 204.2,758.5 203.6,758.2 203.0,757.8 202.4,757.5 201.9,757.2 201.3,756.8 200.8,756.5 200.3,756.1 199.7,755.7 199.2,755.2 198.8,754.8 198.3,754.3 197.8,753.9 197.4,753.4 196.9,752.9 196.5,752.4 196.0,752.0 195.6,751.5 195.1,751.0 194.6,750.5 194.2,750.1 193.7,749.6 193.2,749.2 192.8,748.7 192.3,748.2 191.8,747.8 191.4,747.3 190.9,746.9 190.4,746.4 190.0,746.0 189.5,745.5 189.0,745.0 188.6,744.6 188.1,744.1 187.6,743.7 187.1,743.3 186.6,742.8 186.1,742.4 185.6,742.0 185.2,741.5 184.7,741.0 184.3,740.5 183.9,740.0 183.6,739.4 183.3,738.8 183.0,738.2 182.7,737.6 182.5,737.0 182.4,736.4 182.2,735.7 182.0,735.1 181.8,734.5 181.7,733.8 181.5,733.2 181.4,732.6 181.2,731.9 181.0,731.3" fill="#a2b0c2"/>
<polygon points="204.0,754.5 204.8,754.7 205.6,754.9 206.3,755.0 207.1,755.2 207.9,755.4 208.7,755.5 209.5,755.7 210.2,755.9 211.0,756.1 211.8,756.4 212.5,756.7 212.9,757.4 213.5,758.0 214.1,758.4 214.8,758.8 215.5,759.2 216.2,759.6 216.9,760.0 217.6,760.3 218.4,760.7 219.1,761.0 219.8,761.4 220.5,761.7 221.2,762.1 222.0,762.4 222.7,762.7 223.4,763.1 224.1,763.4 224.9,763.8 225.6,764.1 226.3,764.5 227.0,764.8 227.8,765.1 228.5,765.5 229.2,765.8 229.9,766.2 230.7,766.5 231.4,766.9 232.1,767.2 232.8,767.5 233.6,767.9 234.3,768.3 235.0,768.6 235.7,769.0 236.4,769.3 237.1,769.7 237.8,770.1 238.6,770.4 239.3,770.8 240.0,771.2 240.7,771.6 241.3,772.0 242.0,772.4 242.7,772.9 243.3,773.3 243.9,773.9 244.5,774.4 244.9,775.1 245.2,775.8 245.3,776.6 245.2,777.4 245.2,778.2 245.5,779.0 244.0,804.0 243.1,804.6 242.2,805.2 241.4,805.8 240.6,806.5 239.7,807.2 238.8,807.8 237.9,808.3 237.0,808.8 236.0,809.1 234.9,809.4 233.9,809.5 232.8,809.5 231.7,809.5 230.7,809.4 229.6,809.3 228.6,809.1 227.5,808.9 226.5,808.7 225.4,808.4 224.4,808.2 223.4,807.9 222.3,807.6 221.3,807.3 220.3,807.0 219.3,806.7 218.3,806.3 217.3,805.9 216.3,805.6 215.3,805.2 214.3,804.8 213.3,804.4 212.3,804.0 211.3,803.6 210.4,803.1 209.4,802.7 208.4,802.3 207.4,801.8 206.5,801.3 205.5,800.9 204.6,800.4 203.6,799.9 202.7,799.4 201.7,798.9 200.8,798.4 199.8,797.9 198.9,797.4 198.0,796.9 197.1,796.3 196.2,795.8 195.3,795.2 194.4,794.6 193.6,793.9 192.7,793.2 192.0,792.5 191.2,791.7 190.5,790.9 189.8,790.1 189.2,789.3 188.6,788.4 188.0,787.5 187.3,786.7 186.7,785.8 186.0,785.0" fill="#abb9cb"/>
<polygon points="202.9,756.4 203.6,756.6 204.4,756.8 205.2,757.1 206.0,757.3 206.7,757.5 207.5,757.7 208.3,757.9 209.1,758.2 209.8,758.4 210.6,758.7 211.3,759.1 211.8,759.7 212.3,760.3 213.0,760.7 213.7,761.2 214.4,761.6 215.1,762.0 215.9,762.3 216.6,762.7 217.3,763.1 218.1,763.4 218.8,763.8 219.5,764.1 220.3,764.5 221.0,764.8 221.7,765.2 222.5,765.5 223.2,765.9 224.0,766.2 224.7,766.6 225.4,766.9 226.2,767.3 226.9,767.6 227.7,768.0 228.4,768.3 229.2,768.6 229.9,769.0 230.6,769.3 231.4,769.7 232.1,770.0 232.9,770.4 233.6,770.7 234.3,771.1 235.1,771.4 235.8,771.8 236.5,772.1 237.3,772.5 238.0,772.9 238.7,773.2 239.5,773.6 240.2,774.0 240.9,774.3 241.6,774.7 242.3,775.1 242.9,775.6 243.6,776.0 244.1,776.5 244.6,777.1 244.9,777.8 245.0,778.5 245.0,779.2 245.1,779.9 245.4,780.6 244.0,804.0 243.1,804.6 242.2,805.2 241.4,805.8 240.6,806.5 239.7,807.2 238.8,807.8 237.9,808.3 237.0,808.8 236.0,809.1 234.9,809.4 233.9,809.5 232.8,809.5 231.7,809.5 230.7,809.4 229.6,809.3 228.6,809.1 227.5,808.9 226.5,808.7 225.4,808.4 224.4,808.2 223.4,807.9 222.3,807.6 221.3,807.3 220.3,807.0 219.3,806.7 218.3,806.3 217.3,805.9 216.3,805.6 215.3,805.2 214.3,804.8 213.3,804.4 212.3,804.0 211.3,803.6 210.4,803.1 209.4,802.7 208.4,802.3 207.4,801.8 206.5,801.3 205.5,800.9 204.6,800.4 203.6,799.9 202.7,799.4 201.7,798.9 200.8,798.4 199.8,797.9 198.9,797.4 198.0,796.9 197.1,796.3 196.2,795.8 195.3,795.2 194.4,794.6 193.6,793.9 192.7,793.2 192.0,792.5 191.2,791.7 190.5,790.9 189.8,790.1 189.2,789.3 188.6,788.4 188.0,787.5 187.3,786.7 186.7,785.8 186.0,785.0" fill="#b0bed0"/>
<polygon points="201.8,758.3 202.5,758.6 203.3,758.8 204.0,759.1 204.8,759.3 205.6,759.6 206.3,759.9 207.1,760.1 207.9,760.4 208.6,760.7 209.4,761.0 210.1,761.4 210.6,762.0 211.2,762.6 211.9,763.1 212.6,763.5 213.3,763.9 214.0,764.3 214.8,764.7 215.5,765.1 216.3,765.5 217.0,765.8 217.8,766.2 218.5,766.6 219.3,766.9 220.0,767.3 220.8,767.6 221.5,768.0 222.3,768.3 223.1,768.7 223.8,769.0 224.6,769.4 225.3,769.7 226.1,770.1 226.8,770.4 227.6,770.8 228.4,771.1 229.1,771.5 229.9,771.8 230.6,772.2 231.4,772.5 232.2,772.9 232.9,773.2 233.7,773.6 234.4,773.9 235.2,774.2 235.9,774.6 236.7,774.9 237.4,775.3 238.2,775.6 238.9,776.0 239.7,776.3 240.4,776.7 241.1,777.0 241.9,777.4 242.5,777.8 243.2,778.2 243.8,778.6 244.3,779.1 244.6,779.7 244.8,780.3 244.8,780.9 245.0,781.5 245.3,782.1 244.0,804.0 243.1,804.6 242.2,805.2 241.4,805.8 240.6,806.5 239.7,807.2 238.8,807.8 237.9,808.3 237.0,808.8 236.0,809.1 234.9,809.4 233.9,809.5 232.8,809.5 231.7,809.5 230.7,809.4 229.6,809.3 228.6,809.1 227.5,808.9 226.5,808.7 225.4,808.4 224.4,808.2 223.4,807.9 222.3,807.6 221.3,807.3 220.3,807.0 219.3,806.7 218.3,806.3 217.3,805.9 216.3,805.6 215.3,805.2 214.3,804.8 213.3,804.4 212.3,804.0 211.3,803.6 210.4,803.1 209.4,802.7 208.4,802.3 207.4,801.8 206.5,801.3 205.5,800.9 204.6,800.4 203.6,799.9 202.7,799.4 201.7,798.9 200.8,798.4 199.8,797.9 198.9,797.4 198.0,796.9 197.1,796.3 196.2,795.8 195.3,795.2 194.4,794.6 193.6,793.9 192.7,793.2 192.0,792.5 191.2,791.7 190.5,790.9 189.8,790.1 189.2,789.3 188.6,788.4 188.0,787.5 187.3,786.7 186.7,785.8 186.0,785.0" fill="#b5c3d5"/>
<polygon points="200.6,760.2 201.4,760.5 202.1,760.8 202.9,761.1 203.7,761.4 204.4,761.7 205.2,762.0 205.9,762.3 206.7,762.6 207.4,763.0 208.2,763.3 209.0,763.7 209.4,764.4 210.1,764.9 210.8,765.4 211.5,765.9 212.2,766.3 213.0,766.7 213.7,767.1 214.5,767.5 215.2,767.9 216.0,768.2 216.8,768.6 217.5,769.0 218.3,769.3 219.1,769.7 219.8,770.1 220.6,770.4 221.4,770.8 222.1,771.2 222.9,771.5 223.7,771.9 224.5,772.2 225.2,772.6 226.0,772.9 226.8,773.3 227.6,773.6 228.3,774.0 229.1,774.3 229.9,774.7 230.7,775.0 231.5,775.3 232.2,775.7 233.0,776.0 233.8,776.4 234.6,776.7 235.3,777.0 236.1,777.4 236.9,777.7 237.7,778.0 238.4,778.4 239.2,778.7 239.9,779.0 240.7,779.3 241.4,779.7 242.1,780.0 242.8,780.3 243.4,780.7 244.0,781.1 244.3,781.6 244.5,782.1 244.7,782.6 244.8,783.2 245.2,783.7 244.0,804.0 243.1,804.6 242.2,805.2 241.4,805.8 240.6,806.5 239.7,807.2 238.8,807.8 237.9,808.3 237.0,808.8 236.0,809.1 234.9,809.4 233.9,809.5 232.8,809.5 231.7,809.5 230.7,809.4 229.6,809.3 228.6,809.1 227.5,808.9 226.5,808.7 225.4,808.4 224.4,808.2 223.4,807.9 222.3,807.6 221.3,807.3 220.3,807.0 219.3,806.7 218.3,806.3 217.3,805.9 216.3,805.6 215.3,805.2 214.3,804.8 213.3,804.4 212.3,804.0 211.3,803.6 210.4,803.1 209.4,802.7 208.4,802.3 207.4,801.8 206.5,801.3 205.5,800.9 204.6,800.4 203.6,799.9 202.7,799.4 201.7,798.9 200.8,798.4 199.8,797.9 198.9,797.4 198.0,796.9 197.1,796.3 196.2,795.8 195.3,795.2 194.4,794.6 193.6,793.9 192.7,793.2 192.0,792.5 191.2,791.7 190.5,790.9 189.8,790.1 189.2,789.3 188.6,788.4 188.0,787.5 187.3,786.7 186.7,785.8 186.0,785.0" fill="#b7c5d7"/>
<polygon points="199.5,762.1 200.3,762.5 201.0,762.8 201.8,763.2 202.5,763.5 203.2,763.8 204.0,764.2 204.7,764.5 205.5,764.9 206.3,765.2 207.0,765.6 207.8,766.0 208.3,766.7 208.9,767.3 209.6,767.7 210.4,768.2 211.1,768.6 211.9,769.1 212.7,769.5 213.4,769.9 214.2,770.2 215.0,770.6 215.8,771.0 216.5,771.4 217.3,771.8 218.1,772.1 218.9,772.5 219.7,772.9 220.5,773.2 221.2,773.6 222.0,774.0 222.8,774.3 223.6,774.7 224.4,775.1 225.2,775.4 226.0,775.8 226.8,776.1 227.6,776.5 228.4,776.8 229.2,777.1 230.0,777.5 230.7,777.8 231.5,778.2 232.3,778.5 233.1,778.8 233.9,779.2 234.7,779.5 235.5,779.8 236.3,780.1 237.1,780.4 237.9,780.8 238.7,781.1 239.5,781.4 240.3,781.6 241.0,781.9 241.7,782.2 242.4,782.5 243.1,782.8 243.6,783.1 244.0,783.5 244.3,783.9 244.5,784.4 244.7,784.8 245.1,785.2 244.0,804.0 243.1,804.6 242.2,805.2 241.4,805.8 240.6,806.5 239.7,807.2 238.8,807.8 237.9,808.3 237.0,808.8 236.0,809.1 234.9,809.4 233.9,809.5 232.8,809.5 231.7,809.5 230.7,809.4 229.6,809.3 228.6,809.1 227.5,808.9 226.5,808.7 225.4,808.4 224.4,808.2 223.4,807.9 222.3,807.6 221.3,807.3 220.3,807.0 219.3,806.7 218.3,806.3 217.3,805.9 216.3,805.6 215.3,805.2 214.3,804.8 213.3,804.4 212.3,804.0 211.3,803.6 210.4,803.1 209.4,802.7 208.4,802.3 207.4,801.8 206.5,801.3 205.5,800.9 204.6,800.4 203.6,799.9 202.7,799.4 201.7,798.9 200.8,798.4 199.8,797.9 198.9,797.4 198.0,796.9 197.1,796.3 196.2,795.8 195.3,795.2 194.4,794.6 193.6,793.9 192.7,793.2 192.0,792.5 191.2,791.7 190.5,790.9 189.8,790.1 189.2,789.3 188.6,788.4 188.0,787.5 187.3,786.7 186.7,785.8 186.0,785.0" fill="#bac8da"/>
<polygon points="198.4,764.0 199.1,764.4 199.9,764.8 200.6,765.2 201.3,765.6 202.1,766.0 202.8,766.3 203.5,766.7 204.3,767.1 205.1,767.5 205.8,767.9 206.6,768.4 207.1,769.0 207.8,769.6 208.5,770.1 209.3,770.5 210.0,771.0 210.8,771.4 211.6,771.8 212.4,772.2 213.2,772.6 213.9,773.0 214.7,773.4 215.5,773.8 216.3,774.2 217.1,774.6 217.9,775.0 218.7,775.3 219.5,775.7 220.3,776.1 221.1,776.4 221.9,776.8 222.7,777.2 223.6,777.5 224.4,777.9 225.2,778.2 226.0,778.6 226.8,778.9 227.6,779.3 228.4,779.6 229.2,780.0 230.0,780.3 230.9,780.6 231.7,781.0 232.5,781.3 233.3,781.6 234.1,781.9 234.9,782.3 235.8,782.6 236.6,782.9 237.4,783.1 238.2,783.4 239.0,783.7 239.8,784.0 240.6,784.2 241.3,784.4 242.1,784.6 242.7,784.9 243.3,785.1 243.8,785.4 244.1,785.8 244.3,786.1 244.6,786.5 245.0,786.8 244.0,804.0 243.1,804.6 242.2,805.2 241.4,805.8 240.6,806.5 239.7,807.2 238.8,807.8 237.9,808.3 237.0,808.8 236.0,809.1 234.9,809.4 233.9,809.5 232.8,809.5 231.7,809.5 230.7,809.4 229.6,809.3 228.6,809.1 227.5,808.9 226.5,808.7 225.4,808.4 224.4,808.2 223.4,807.9 222.3,807.6 221.3,807.3 220.3,807.0 219.3,806.7 218.3,806.3 217.3,805.9 216.3,805.6 215.3,805.2 214.3,804.8 213.3,804.4 212.3,804.0 211.3,803.6 210.4,803.1 209.4,802.7 208.4,802.3 207.4,801.8 206.5,801.3 205.5,800.9 204.6,800.4 203.6,799.9 202.7,799.4 201.7,798.9 200.8,798.4 199.8,797.9 198.9,797.4 198.0,796.9 197.1,796.3 196.2,795.8 195.3,795.2 194.4,794.6 193.6,793.9 192.7,793.2 192.0,792.5 191.2,791.7 190.5,790.9 189.8,790.1 189.2,789.3 188.6,788.4 188.0,787.5 187.3,786.7 186.7,785.8 186.0,785.0" fill="#bccadc"/>
<polygon points="197.2,765.9 198.0,766.4 198.7,766.8 199.5,767.2 200.2,767.6 200.9,768.1 201.6,768.5 202.4,768.9 203.1,769.4 203.9,769.8 204.6,770.2 205.4,770.7 206.0,771.3 206.6,771.9 207.4,772.4 208.2,772.9 208.9,773.3 209.7,773.8 210.5,774.2 211.3,774.6 212.1,775.0 212.9,775.4 213.7,775.8 214.5,776.2 215.4,776.6 216.2,777.0 217.0,777.4 217.8,777.8 218.6,778.2 219.4,778.5 220.2,778.9 221.1,779.3 221.9,779.6 222.7,780.0 223.5,780.4 224.4,780.7 225.2,781.1 226.0,781.4 226.8,781.8 227.7,782.1 228.5,782.5 229.3,782.8 230.2,783.1 231.0,783.4 231.9,783.8 232.7,784.1 233.5,784.4 234.4,784.7 235.2,785.0 236.0,785.3 236.9,785.5 237.7,785.8 238.5,786.1 239.4,786.3 240.2,786.5 241.0,786.6 241.7,786.8 242.4,786.9 243.0,787.1 243.5,787.3 243.8,787.6 244.1,787.8 244.4,788.1 244.9,788.4 244.0,804.0 243.1,804.6 242.2,805.2 241.4,805.8 240.6,806.5 239.7,807.2 238.8,807.8 237.9,808.3 237.0,808.8 236.0,809.1 234.9,809.4 233.9,809.5 232.8,809.5 231.7,809.5 230.7,809.4 229.6,809.3 228.6,809.1 227.5,808.9 226.5,808.7 225.4,808.4 224.4,808.2 223.4,807.9 222.3,807.6 221.3,807.3 220.3,807.0 219.3,806.7 218.3,806.3 217.3,805.9 216.3,805.6 215.3,805.2 214.3,804.8 213.3,804.4 212.3,804.0 211.3,803.6 210.4,803.1 209.4,802.7 208.4,802.3 207.4,801.8 206.5,801.3 205.5,800.9 204.6,800.4 203.6,799.9 202.7,799.4 201.7,798.9 200.8,798.4 199.8,797.9 198.9,797.4 198.0,796.9 197.1,796.3 196.2,795.8 195.3,795.2 194.4,794.6 193.6,793.9 192.7,793.2 192.0,792.5 191.2,791.7 190.5,790.9 189.8,790.1 189.2,789.3 188.6,788.4 188.0,787.5 187.3,786.7 186.7,785.8 186.0,785.0" fill="#b7c5d6"/>
<polygon points="196.1,767.8 196.9,768.3 197.6,768.8 198.3,769.2 199.0,769.7 199.7,770.2 200.4,770.7 201.2,771.1 201.9,771.6 202.7,772.1 203.4,772.5 204.2,773.0 204.8,773.7 205.5,774.2 206.3,774.7 207.0,775.2 207.8,775.7 208.6,776.1 209.5,776.6 210.3,777.0 211.1,777.4 211.9,777.8 212.7,778.2 213.5,778.6 214.4,779.0 215.2,779.4 216.0,779.8 216.9,780.2 217.7,780.6 218.5,781.0 219.4,781.4 220.2,781.8 221.0,782.1 221.9,782.5 222.7,782.9 223.6,783.2 224.4,783.6 225.2,783.9 226.1,784.3 226.9,784.6 227.8,784.9 228.6,785.3 229.5,785.6 230.4,785.9 231.2,786.2 232.1,786.5 232.9,786.8 233.8,787.1 234.6,787.4 235.5,787.7 236.4,787.9 237.2,788.2 238.1,788.4 238.9,788.6 239.7,788.7 240.6,788.9 241.3,788.9 242.0,789.0 242.7,789.1 243.2,789.3 243.6,789.4 243.9,789.6 244.3,789.8 244.8,789.9 244.0,804.0 243.1,804.6 242.2,805.2 241.4,805.8 240.6,806.5 239.7,807.2 238.8,807.8 237.9,808.3 237.0,808.8 236.0,809.1 234.9,809.4 233.9,809.5 232.8,809.5 231.7,809.5 230.7,809.4 229.6,809.3 228.6,809.1 227.5,808.9 226.5,808.7 225.4,808.4 224.4,808.2 223.4,807.9 222.3,807.6 221.3,807.3 220.3,807.0 219.3,806.7 218.3,806.3 217.3,805.9 216.3,805.6 215.3,805.2 214.3,804.8 213.3,804.4 212.3,804.0 211.3,803.6 210.4,803.1 209.4,802.7 208.4,802.3 207.4,801.8 206.5,801.3 205.5,800.9 204.6,800.4 203.6,799.9 202.7,799.4 201.7,798.9 200.8,798.4 199.8,797.9 198.9,797.4 198.0,796.9 197.1,796.3 196.2,795.8 195.3,795.2 194.4,794.6 193.6,793.9 192.7,793.2 192.0,792.5 191.2,791.7 190.5,790.9 189.8,790.1 189.2,789.3 188.6,788.4 188.0,787.5 187.3,786.7 186.7,785.8 186.0,785.0" fill="#b1bfd0"/>
<polygon points="195.0,769.8 195.7,770.3 196.5,770.8 197.2,771.3 197.9,771.8 198.6,772.3 199.3,772.8 200.0,773.3 200.7,773.8 201.5,774.3 202.3,774.8 203.0,775.3 203.7,776.0 204.4,776.6 205.2,777.1 205.9,777.6 206.8,778.0 207.6,778.5 208.4,778.9 209.2,779.4 210.0,779.8 210.9,780.2 211.7,780.6 212.5,781.1 213.4,781.5 214.2,781.9 215.1,782.3 215.9,782.7 216.8,783.1 217.6,783.5 218.5,783.8 219.3,784.2 220.2,784.6 221.0,785.0 221.9,785.3 222.7,785.7 223.6,786.1 224.5,786.4 225.3,786.8 226.2,787.1 227.1,787.4 227.9,787.8 228.8,788.1 229.7,788.4 230.6,788.7 231.4,789.0 232.3,789.3 233.2,789.6 234.1,789.8 235.0,790.1 235.9,790.3 236.7,790.5 237.6,790.7 238.5,790.9 239.3,791.0 240.2,791.1 240.9,791.1 241.7,791.1 242.3,791.1 242.9,791.2 243.3,791.2 243.7,791.3 244.2,791.4 244.8,791.5 244.0,804.0 243.1,804.6 242.2,805.2 241.4,805.8 240.6,806.5 239.7,807.2 238.8,807.8 237.9,808.3 237.0,808.8 236.0,809.1 234.9,809.4 233.9,809.5 232.8,809.5 231.7,809.5 230.7,809.4 229.6,809.3 228.6,809.1 227.5,808.9 226.5,808.7 225.4,808.4 224.4,808.2 223.4,807.9 222.3,807.6 221.3,807.3 220.3,807.0 219.3,806.7 218.3,806.3 217.3,805.9 216.3,805.6 215.3,805.2 214.3,804.8 213.3,804.4 212.3,804.0 211.3,803.6 210.4,803.1 209.4,802.7 208.4,802.3 207.4,801.8 206.5,801.3 205.5,800.9 204.6,800.4 203.6,799.9 202.7,799.4 201.7,798.9 200.8,798.4 199.8,797.9 198.9,797.4 198.0,796.9 197.1,796.3 196.2,795.8 195.3,795.2 194.4,794.6 193.6,793.9 192.7,793.2 192.0,792.5 191.2,791.7 190.5,790.9 189.8,790.1 189.2,789.3 188.6,788.4 188.0,787.5 187.3,786.7 186.7,785.8 186.0,785.0" fill="#aab8c9"/>
<polygon points="193.9,771.7 194.6,772.2 195.3,772.7 196.0,773.3 196.7,773.9 197.4,774.4 198.1,775.0 198.8,775.5 199.5,776.1 200.3,776.6 201.1,777.1 201.8,777.7 202.5,778.3 203.2,778.9 204.0,779.4 204.8,779.9 205.7,780.4 206.5,780.9 207.3,781.3 208.2,781.8 209.0,782.2 209.8,782.6 210.7,783.1 211.5,783.5 212.4,783.9 213.3,784.3 214.1,784.7 215.0,785.1 215.8,785.5 216.7,785.9 217.6,786.3 218.4,786.7 219.3,787.1 220.2,787.5 221.1,787.8 221.9,788.2 222.8,788.5 223.7,788.9 224.6,789.2 225.5,789.6 226.4,789.9 227.2,790.2 228.1,790.6 229.0,790.9 229.9,791.2 230.8,791.5 231.7,791.7 232.6,792.0 233.5,792.3 234.4,792.5 235.3,792.7 236.2,792.9 237.1,793.1 238.0,793.2 238.9,793.3 239.8,793.3 240.6,793.2 241.3,793.2 242.0,793.1 242.6,793.1 243.1,793.1 243.5,793.0 244.0,793.0 244.7,793.1 244.0,804.0 243.1,804.6 242.2,805.2 241.4,805.8 240.6,806.5 239.7,807.2 238.8,807.8 237.9,808.3 237.0,808.8 236.0,809.1 234.9,809.4 233.9,809.5 232.8,809.5 231.7,809.5 230.7,809.4 229.6,809.3 228.6,809.1 227.5,808.9 226.5,808.7 225.4,808.4 224.4,808.2 223.4,807.9 222.3,807.6 221.3,807.3 220.3,807.0 219.3,806.7 218.3,806.3 217.3,805.9 216.3,805.6 215.3,805.2 214.3,804.8 213.3,804.4 212.3,804.0 211.3,803.6 210.4,803.1 209.4,802.7 208.4,802.3 207.4,801.8 206.5,801.3 205.5,800.9 204.6,800.4 203.6,799.9 202.7,799.4 201.7,798.9 200.8,798.4 199.8,797.9 198.9,797.4 198.0,796.9 197.1,796.3 196.2,795.8 195.3,795.2 194.4,794.6 193.6,793.9 192.7,793.2 192.0,792.5 191.2,791.7 190.5,790.9 189.8,790.1 189.2,789.3 188.6,788.4 188.0,787.5 187.3,786.7 186.7,785.8 186.0,785.0" fill="#a2b0c1"/>
<polygon points="192.8,773.6 193.5,774.1 194.2,774.7 194.9,775.3 195.5,775.9 196.2,776.5 196.9,777.1 197.6,777.7 198.4,778.3 199.1,778.9 199.9,779.4 200.7,780.0 201.3,780.6 202.1,781.2 202.9,781.8 203.7,782.3 204.6,782.7 205.4,783.2 206.3,783.7 207.1,784.1 208.0,784.6 208.8,785.0 209.7,785.5 210.6,785.9 211.4,786.3 212.3,786.7 213.2,787.2 214.0,787.6 214.9,788.0 215.8,788.4 216.7,788.8 217.6,789.2 218.5,789.6 219.3,789.9 220.2,790.3 221.1,790.7 222.0,791.0 222.9,791.4 223.8,791.7 224.7,792.1 225.6,792.4 226.5,792.7 227.5,793.0 228.4,793.3 229.3,793.6 230.2,793.9 231.1,794.2 232.0,794.5 233.0,794.7 233.9,794.9 234.8,795.1 235.7,795.3 236.7,795.4 237.6,795.5 238.5,795.5 239.4,795.5 240.2,795.4 241.0,795.3 241.7,795.1 242.3,795.0 242.8,794.9 243.3,794.8 243.9,794.7 244.6,794.6 244.0,804.0 243.1,804.6 242.2,805.2 241.4,805.8 240.6,806.5 239.7,807.2 238.8,807.8 237.9,808.3 237.0,808.8 236.0,809.1 234.9,809.4 233.9,809.5 232.8,809.5 231.7,809.5 230.7,809.4 229.6,809.3 228.6,809.1 227.5,808.9 226.5,808.7 225.4,808.4 224.4,808.2 223.4,807.9 222.3,807.6 221.3,807.3 220.3,807.0 219.3,806.7 218.3,806.3 217.3,805.9 216.3,805.6 215.3,805.2 214.3,804.8 213.3,804.4 212.3,804.0 211.3,803.6 210.4,803.1 209.4,802.7 208.4,802.3 207.4,801.8 206.5,801.3 205.5,800.9 204.6,800.4 203.6,799.9 202.7,799.4 201.7,798.9 200.8,798.4 199.8,797.9 198.9,797.4 198.0,796.9 197.1,796.3 196.2,795.8 195.3,795.2 194.4,794.6 193.6,793.9 192.7,793.2 192.0,792.5 191.2,791.7 190.5,790.9 189.8,790.1 189.2,789.3 188.6,788.4 188.0,787.5 187.3,786.7 186.7,785.8 186.0,785.0" fill="#99a7b9"/>
<polygon points="191.6,775.5 192.3,776.1 193.0,776.7 193.7,777.4 194.4,778.0 195.1,778.7 195.7,779.3 196.4,779.9 197.2,780.5 197.9,781.2 198.7,781.7 199.5,782.3 200.2,782.9 201.0,783.5 201.8,784.1 202.6,784.6 203.5,785.1 204.3,785.6 205.2,786.1 206.1,786.5 206.9,787.0 207.8,787.4 208.7,787.9 209.6,788.3 210.4,788.8 211.3,789.2 212.2,789.6 213.1,790.0 214.0,790.4 214.9,790.8 215.8,791.2 216.7,791.6 217.6,792.0 218.5,792.4 219.4,792.8 220.3,793.2 221.2,793.5 222.1,793.9 223.1,794.2 224.0,794.6 224.9,794.9 225.8,795.2 226.8,795.5 227.7,795.8 228.6,796.1 229.6,796.4 230.5,796.6 231.5,796.9 232.4,797.1 233.4,797.3 234.3,797.5 235.3,797.7 236.2,797.8 237.1,797.8 238.1,797.8 239.0,797.7 239.8,797.6 240.6,797.4 241.3,797.1 242.0,796.9 242.6,796.7 243.2,796.5 243.8,796.3 244.5,796.2 244.0,804.0 243.1,804.6 242.2,805.2 241.4,805.8 240.6,806.5 239.7,807.2 238.8,807.8 237.9,808.3 237.0,808.8 236.0,809.1 234.9,809.4 233.9,809.5 232.8,809.5 231.7,809.5 230.7,809.4 229.6,809.3 228.6,809.1 227.5,808.9 226.5,808.7 225.4,808.4 224.4,808.2 223.4,807.9 222.3,807.6 221.3,807.3 220.3,807.0 219.3,806.7 218.3,806.3 217.3,805.9 216.3,805.6 215.3,805.2 214.3,804.8 213.3,804.4 212.3,804.0 211.3,803.6 210.4,803.1 209.4,802.7 208.4,802.3 207.4,801.8 206.5,801.3 205.5,800.9 204.6,800.4 203.6,799.9 202.7,799.4 201.7,798.9 200.8,798.4 199.8,797.9 198.9,797.4 198.0,796.9 197.1,796.3 196.2,795.8 195.3,795.2 194.4,794.6 193.6,793.9 192.7,793.2 192.0,792.5 191.2,791.7 190.5,790.9 189.8,790.1 189.2,789.3 188.6,788.4 188.0,787.5 187.3,786.7 186.7,785.8 186.0,785.0" fill="#8f9daf"/>
<polygon points="190.5,777.4 191.2,778.0 191.9,778.7 192.6,779.4 193.2,780.1 193.9,780.8 194.6,781.5 195.3,782.1 196.0,782.8 196.7,783.4 197.5,784.0 198.3,784.6 199.0,785.3 199.8,785.9 200.7,786.4 201.5,787.0 202.4,787.5 203.2,788.0 204.1,788.4 205.0,788.9 205.9,789.4 206.8,789.8 207.7,790.3 208.6,790.7 209.5,791.2 210.4,791.6 211.3,792.0 212.2,792.5 213.1,792.9 214.0,793.3 214.9,793.7 215.8,794.1 216.7,794.5 217.7,794.9 218.6,795.3 219.5,795.6 220.4,796.0 221.4,796.4 222.3,796.7 223.3,797.0 224.2,797.4 225.1,797.7 226.1,798.0 227.0,798.3 228.0,798.6 229.0,798.8 229.9,799.1 230.9,799.3 231.9,799.5 232.8,799.7 233.8,799.9 234.8,800.0 235.7,800.1 236.7,800.1 237.6,800.1 238.6,799.9 239.4,799.7 240.3,799.4 241.0,799.1 241.7,798.8 242.4,798.5 243.0,798.2 243.6,798.0 244.4,797.8 244.0,804.0 243.1,804.6 242.2,805.2 241.4,805.8 240.6,806.5 239.7,807.2 238.8,807.8 237.9,808.3 237.0,808.8 236.0,809.1 234.9,809.4 233.9,809.5 232.8,809.5 231.7,809.5 230.7,809.4 229.6,809.3 228.6,809.1 227.5,808.9 226.5,808.7 225.4,808.4 224.4,808.2 223.4,807.9 222.3,807.6 221.3,807.3 220.3,807.0 219.3,806.7 218.3,806.3 217.3,805.9 216.3,805.6 215.3,805.2 214.3,804.8 213.3,804.4 212.3,804.0 211.3,803.6 210.4,803.1 209.4,802.7 208.4,802.3 207.4,801.8 206.5,801.3 205.5,800.9 204.6,800.4 203.6,799.9 202.7,799.4 201.7,798.9 200.8,798.4 199.8,797.9 198.9,797.4 198.0,796.9 197.1,796.3 196.2,795.8 195.3,795.2 194.4,794.6 193.6,793.9 192.7,793.2 192.0,792.5 191.2,791.7 190.5,790.9 189.8,790.1 189.2,789.3 188.6,788.4 188.0,787.5 187.3,786.7 186.7,785.8 186.0,785.0" fill="#8593a5"/>
<polygon points="189.4,779.3 190.1,780.0 190.8,780.7 191.4,781.4 192.1,782.2 192.7,782.9 193.4,783.6 194.1,784.3 194.8,785.0 195.5,785.7 196.3,786.3 197.1,787.0 197.9,787.6 198.7,788.2 199.5,788.8 200.4,789.3 201.3,789.8 202.2,790.3 203.0,790.8 203.9,791.3 204.8,791.8 205.7,792.2 206.7,792.7 207.6,793.2 208.5,793.6 209.4,794.0 210.3,794.5 211.2,794.9 212.2,795.3 213.1,795.8 214.0,796.2 214.9,796.6 215.9,797.0 216.8,797.4 217.8,797.8 218.7,798.1 219.6,798.5 220.6,798.8 221.6,799.2 222.5,799.5 223.5,799.9 224.4,800.2 225.4,800.5 226.4,800.8 227.4,801.0 228.3,801.3 229.3,801.5 230.3,801.8 231.3,802.0 232.3,802.1 233.3,802.3 234.3,802.4 235.3,802.5 236.3,802.4 237.2,802.3 238.2,802.2 239.1,801.9 239.9,801.5 240.7,801.1 241.4,800.8 242.1,800.4 242.8,800.0 243.5,799.6 244.3,799.3 244.0,804.0 243.1,804.6 242.2,805.2 241.4,805.8 240.6,806.5 239.7,807.2 238.8,807.8 237.9,808.3 237.0,808.8 236.0,809.1 234.9,809.4 233.9,809.5 232.8,809.5 231.7,809.5 230.7,809.4 229.6,809.3 228.6,809.1 227.5,808.9 226.5,808.7 225.4,808.4 224.4,808.2 223.4,807.9 222.3,807.6 221.3,807.3 220.3,807.0 219.3,806.7 218.3,806.3 217.3,805.9 216.3,805.6 215.3,805.2 214.3,804.8 213.3,804.4 212.3,804.0 211.3,803.6 210.4,803.1 209.4,802.7 208.4,802.3 207.4,801.8 206.5,801.3 205.5,800.9 204.6,800.4 203.6,799.9 202.7,799.4 201.7,798.9 200.8,798.4 199.8,797.9 198.9,797.4 198.0,796.9 197.1,796.3 196.2,795.8 195.3,795.2 194.4,794.6 193.6,793.9 192.7,793.2 192.0,792.5 191.2,791.7 190.5,790.9 189.8,790.1 189.2,789.3 188.6,788.4 188.0,787.5 187.3,786.7 186.7,785.8 186.0,785.0" fill="#7a8798"/>
<polygon points="188.2,781.2 188.9,781.9 189.6,782.7 190.3,783.5 190.9,784.2 191.6,785.0 192.2,785.8 192.9,786.5 193.6,787.3 194.3,788.0 195.1,788.6 195.9,789.3 196.7,789.9 197.6,790.5 198.4,791.1 199.3,791.6 200.2,792.2 201.1,792.7 202.0,793.2 202.9,793.7 203.8,794.2 204.7,794.6 205.6,795.1 206.6,795.6 207.5,796.0 208.4,796.5 209.4,796.9 210.3,797.4 211.2,797.8 212.2,798.2 213.1,798.6 214.1,799.0 215.0,799.5 216.0,799.9 216.9,800.2 217.9,800.6 218.9,801.0 219.8,801.3 220.8,801.7 221.8,802.0 222.8,802.3 223.7,802.6 224.7,803.0 225.7,803.2 226.7,803.5 227.7,803.8 228.7,804.0 229.7,804.2 230.7,804.4 231.7,804.6 232.8,804.7 233.8,804.8 234.8,804.8 235.8,804.7 236.8,804.6 237.8,804.4 238.7,804.0 239.5,803.6 240.4,803.2 241.1,802.7 241.9,802.2 242.6,801.7 243.4,801.3 244.2,800.9 244.0,804.0 243.1,804.6 242.2,805.2 241.4,805.8 240.6,806.5 239.7,807.2 238.8,807.8 237.9,808.3 237.0,808.8 236.0,809.1 234.9,809.4 233.9,809.5 232.8,809.5 231.7,809.5 230.7,809.4 229.6,809.3 228.6,809.1 227.5,808.9 226.5,808.7 225.4,808.4 224.4,808.2 223.4,807.9 222.3,807.6 221.3,807.3 220.3,807.0 219.3,806.7 218.3,806.3 217.3,805.9 216.3,805.6 215.3,805.2 214.3,804.8 213.3,804.4 212.3,804.0 211.3,803.6 210.4,803.1 209.4,802.7 208.4,802.3 207.4,801.8 206.5,801.3 205.5,800.9 204.6,800.4 203.6,799.9 202.7,799.4 201.7,798.9 200.8,798.4 199.8,797.9 198.9,797.4 198.0,796.9 197.1,796.3 196.2,795.8 195.3,795.2 194.4,794.6 193.6,793.9 192.7,793.2 192.0,792.5 191.2,791.7 190.5,790.9 189.8,790.1 189.2,789.3 188.6,788.4 188.0,787.5 187.3,786.7 186.7,785.8 186.0,785.0" fill="#6e7989"/>
<polygon points="187.1,783.1 187.8,783.9 188.5,784.7 189.1,785.5 189.8,786.3 190.4,787.1 191.0,787.9 191.7,788.7 192.4,789.5 193.1,790.2 193.9,790.9 194.7,791.6 195.6,792.2 196.4,792.9 197.3,793.4 198.2,794.0 199.1,794.5 200.0,795.0 200.9,795.6 201.8,796.1 202.8,796.6 203.7,797.0 204.6,797.5 205.6,798.0 206.5,798.5 207.5,798.9 208.4,799.4 209.4,799.8 210.3,800.2 211.3,800.7 212.2,801.1 213.2,801.5 214.2,801.9 215.1,802.3 216.1,802.7 217.1,803.1 218.1,803.5 219.1,803.8 220.0,804.2 221.0,804.5 222.0,804.8 223.0,805.1 224.0,805.4 225.1,805.7 226.1,806.0 227.1,806.2 228.1,806.4 229.1,806.7 230.2,806.8 231.2,807.0 232.3,807.1 233.3,807.1 234.3,807.2 235.4,807.1 236.4,806.9 237.4,806.6 238.3,806.2 239.2,805.7 240.0,805.2 240.8,804.6 241.6,804.0 242.4,803.5 243.2,802.9 244.1,802.4 244.0,804.0 243.1,804.6 242.2,805.2 241.4,805.8 240.6,806.5 239.7,807.2 238.8,807.8 237.9,808.3 237.0,808.8 236.0,809.1 234.9,809.4 233.9,809.5 232.8,809.5 231.7,809.5 230.7,809.4 229.6,809.3 228.6,809.1 227.5,808.9 226.5,808.7 225.4,808.4 224.4,808.2 223.4,807.9 222.3,807.6 221.3,807.3 220.3,807.0 219.3,806.7 218.3,806.3 217.3,805.9 216.3,805.6 215.3,805.2 214.3,804.8 213.3,804.4 212.3,804.0 211.3,803.6 210.4,803.1 209.4,802.7 208.4,802.3 207.4,801.8 206.5,801.3 205.5,800.9 204.6,800.4 203.6,799.9 202.7,799.4 201.7,798.9 200.8,798.4 199.8,797.9 198.9,797.4 198.0,796.9 197.1,796.3 196.2,795.8 195.3,795.2 194.4,794.6 193.6,793.9 192.7,793.2 192.0,792.5 191.2,791.7 190.5,790.9 189.8,790.1 189.2,789.3 188.6,788.4 188.0,787.5 187.3,786.7 186.7,785.8 186.0,785.0" fill="#5c6675"/>
<path d="M205,754.5 C196,757 187,770 185,783 C186,789 190,792 194,793 C196,780 205,764 214,760 C212,756 209,754 205,754.5Z" fill="#b6c3d4"/>
<path d="M242,772 C246,776 247,790 244.5,803.5 C242,807 238,809 234,809.5 C239,800 240,785 238,774Z" fill="#b7c4d6"/>
<path d="M236,774 C238,785 237,800 232,809" fill="none" stroke="#7e8b9d" stroke-width="0.9"/>
<path d="M216.3,755.8 L218,754.3 L240.8,767.6 L241.5,775 L216.8,763.5Z" fill="#aebbcc" stroke="#7f8c9e" stroke-width="0.7"/>
<rect x="222.5" y="760" width="3" height="3" fill="#eef2f6" transform="rotate(28 224 761.5)"/><rect x="231" y="764.5" width="3" height="3" fill="#eef2f6" transform="rotate(28 232.5 766)"/>
<path d="M180.9,730.6 L202,740.6 L201.3,743.8 L196,742 L195,744 L190,741.5 L185,738.1Z" fill="#b9c5d5" stroke="#8995a7" stroke-width="0.7"/>
<ellipse cx="169" cy="722.5" rx="14.6" ry="11.6" transform="rotate(8 169 722.5)" fill="#c3cedc" stroke="#a4b0c0" stroke-width="0.8"/>
<ellipse cx="168.5" cy="723.5" rx="11" ry="8.6" transform="rotate(8 168.5 723.5)" fill="#8593a6"/>
<ellipse cx="168.5" cy="724.5" rx="9" ry="6.6" transform="rotate(8 168.5 724.5)" fill="#66727f"/>
<ellipse cx="169" cy="726" rx="7" ry="4.5" transform="rotate(8 169 726)" fill="#7b8899"/>
<path d="M41,39.5 L59.5,39.5 L57.5,56 C53,57.5 47,57.5 43,56Z" fill="#fcfefc" stroke="#121212" stroke-width="0.8"/><path d="M41.7,42.5 C46,43.7 54,43.7 58.9,42.5" fill="none" stroke="#333" stroke-width="0.7"/><path d="M42.0,45 C46,46.2 54,46.2 58.6,45" fill="none" stroke="#333" stroke-width="0.7"/><path d="M42.3,47.5 C46,48.7 54,48.7 58.3,47.5" fill="none" stroke="#333" stroke-width="0.7"/><path d="M42.6,50 C46,51.2 54,51.2 58.0,50" fill="none" stroke="#333" stroke-width="0.7"/><path d="M42.9,52.5 C46,53.7 54,53.7 57.7,52.5" fill="none" stroke="#333" stroke-width="0.7"/><path d="M43.2,55 C46,56.2 54,56.2 57.4,55" fill="none" stroke="#333" stroke-width="0.7"/><path d="M31,29.5 C31,22 39,18 50.5,18 C62,18 70,22 70,28.5 C70,34.5 61,39.5 50.5,39.5 C40,39.5 31,35 31,29.5Z" fill="#fcfefc" stroke="#121212" stroke-width="0.8"/><ellipse cx="51" cy="22.8" rx="9.8" ry="3.9" transform="rotate(0 51 22.8)" fill="#9a9a9a" stroke="#121212" stroke-width="0.8"/><path d="M44,21 L47,24 M48,20.5 L50,24.5 M52,20 L53,25 M55,20.5 L57,24.5 M46,23 L58,22" fill="none" stroke="#222" stroke-width="0.8"/><path d="M136.7,547.3 L147.4,544.5 L158.3,541.7 L169.2,538.9 L179.9,536.1 L190.2,533.4 L200.0,530.9 L209.5,528.4 L218.8,526.0 L227.7,523.7 L236.0,521.5 L243.6,519.6 L250.0,517.9 L255.1,516.6 L259.0,515.5 L262.1,514.7 L264.7,514.0 L267.2,513.3 L270.0,512.6 L273.0,511.8 L275.9,511.1 L278.7,510.4 L281.4,509.7 L284.1,509.1 L286.6,508.6 L289.0,508.1 L291.2,507.7 L293.3,507.4 L295.3,507.0 L297.5,506.8 L299.9,506.6 L302.5,506.5 L305.4,506.4 L308.3,506.4 L311.2,506.4 L314.0,506.5 L316.5,506.6 L318.7,506.7 L320.6,506.9 L322.3,507.1 L324.0,507.4 L325.9,507.8 L328.1,508.3 L330.6,508.9 L333.3,509.7 L336.1,510.6 L339.0,511.5 L341.9,512.4 L344.7,513.3 L347.6,514.2 L350.5,515.1 L353.5,516.0 L356.4,516.8 L359.0,517.6 L361.3,518.2 L363.1,518.7 L364.4,519.1 L365.5,519.4 L366.5,519.6 L367.8,519.8 L369.6,519.9 L371.8,520.0 L374.2,520.1 L376.8,520.1 L379.7,520.0 L382.8,519.9 L386.1,519.6 L389.8,519.2 L393.8,518.8 L398.0,518.2 L402.4,517.6 L406.8,516.9 L411.0,516.2 L415.3,515.4 L419.7,514.5 L424.2,513.5 L428.5,512.6 L432.4,511.6 L435.9,510.8 L438.7,510.1 L441.0,509.5 L442.9,508.9 L444.8,508.3 L446.8,507.7 L449.2,507.0 L452.1,506.1 L455.4,505.1 L458.8,504.1 L462.2,503.1 L465.3,502.1 L468.0,501.3 L470.2,500.7 L472.0,500.1 L473.6,499.7 L475.0,499.3 L476.4,498.9 L478.0,498.4" fill="none" stroke="#121212" stroke-width="1.0"/><path d="M125.1,571.7 L127.2,572.0 L129.1,572.5 L131.0,572.9 L133.2,573.2 L135.8,573.3 L139.2,573.0 L143.4,572.3 L148.2,571.2 L153.6,569.8 L159.3,568.3 L165.2,566.8 L171.3,565.3 L177.7,563.8 L184.5,562.2 L191.6,560.6 L198.7,558.9 L205.7,557.2 L212.3,555.6 L218.7,553.9 L225.2,552.2 L231.4,550.5 L237.5,548.9 L243.1,547.4 L248.2,546.0 L252.7,544.9 L256.7,543.9 L260.3,543.0 L263.6,542.2 L266.8,541.5 L270.0,540.7 L273.1,539.9 L275.9,539.2 L278.6,538.6 L281.3,537.9 L283.9,537.3 L286.6,536.6 L289.4,535.9 L292.3,535.1 L295.2,534.2 L298.0,533.5 L300.7,532.9 L303.2,532.4 L305.4,532.1 L307.4,532.0 L309.2,532.0 L311.0,532.1 L312.8,532.2 L314.8,532.4 L316.9,532.6 L319.0,532.9 L321.1,533.3 L323.4,533.7 L325.7,534.3 L328.1,534.9 L330.7,535.7 L333.4,536.6 L336.2,537.7 L339.0,538.8 L341.9,539.8 L344.7,540.7 L347.5,541.5 L350.2,542.3 L353.0,543.1 L355.8,543.8 L358.5,544.4 L361.3,544.9 L364.1,545.3 L366.8,545.6 L369.6,545.9 L372.3,546.1 L375.0,546.2 L377.8,546.2 L380.5,546.2 L383.0,546.1 L385.6,545.9 L388.2,545.6 L391.2,545.3 L394.4,544.9 L398.1,544.4 L402.1,543.7 L406.3,543.0 L410.7,542.3 L415.1,541.5 L419.3,540.7 L423.6,539.9 L428.1,539.1 L432.6,538.2 L436.9,537.4 L440.8,536.6 L444.2,535.8 L446.8,535.1 L448.8,534.5 L450.4,533.9 L451.9,533.3 L453.6,532.7 L455.8,532.0 L458.7,531.2 L462.0,530.4 L465.5,529.5 L469.0,528.7 L472.2,527.9 L475.0,527.2 L477.2,526.7 L479.0,526.2 L480.6,525.9 L482.0,525.5 L483.4,525.2 L485.0,524.8" fill="none" stroke="#121212" stroke-width="1.0"/><path d="M478,498.6 C483,499.5 487.5,506 488,514 C488.3,520 486.5,524.5 485,525.6" fill="none" stroke="#121212" stroke-width="1.0"/><path d="M449.5,507.2 C453,512 456.5,522 457.5,532.5" fill="none" stroke="#121212" stroke-width="0.8"/><path d="M452,506.6 C455.5,512 459,522 459.8,531.8" fill="none" stroke="#555" stroke-width="0.8" stroke-dasharray="1.2 1.2"/><ellipse cx="164.1" cy="549.8" rx="5.6" ry="5.8" transform="rotate(0 164.1 549.8)" fill="#8a8a8a" stroke="#121212" stroke-width="1.0"/><path d="M160,547 L168,552 M161,551 L166,546 M162,554 L167,549 M164,545 L165,555" fill="none" stroke="#f0f0f0" stroke-width="0.9"/><path d="M311.8,372.8 L166.8,546.8" fill="none" stroke="#222" stroke-width="0.75"/><path d="M207.3,523.7 L229.7,517.2 L235.1,521.8 L210,528.6Z" fill="#fcfefc" stroke="#121212" stroke-width="0.8"/><path d="M209,527.5 L229,521.6 M217,520.5 L219,523.2" fill="none" stroke="#222" stroke-width="1.2"/><path d="M213,547.6 L223,545 L223,557 L214.5,558 C213,558 213,556.5 213,555Z" fill="#fcfefc" stroke="#121212" stroke-width="0.8"/><path d="M223,543 L228,541.6 L227,538.3 L246,533.8 L246.4,537 L243.5,538 L246.7,541.5 L246.7,551 L223,557.3Z" fill="#fcfefc" stroke="#121212" stroke-width="0.8"/><path d="M223,545 L223,557" fill="none" stroke="#121212" stroke-width="1.3"/><path d="M222.5,538.8 L244.7,533.3 L245.5,536.6 L223.3,542.2Z" fill="#fcfefc" stroke="#121212" stroke-width="0.8"/><circle cx="229" cy="550" r="0.6" fill="#111"/><circle cx="233.5" cy="548.7" r="1.2" fill="#111"/><circle cx="239" cy="547.3" r="1.3" fill="#111"/><path d="M109.7,523.9 L132.2,535.6 C135.5,539 137.5,546 137.8,553 C137.8,561 135.5,567.5 132.5,571 C130.5,572.8 128,573.4 125.5,573.3 L112,572.3 L90,559.3 C94,558.8 101,557.5 106,556.5 C102.5,556.5 99.5,554 98.5,548.5 C97.5,540 102,529.5 109.7,523.9 Z" fill="#fcfefc" stroke="#121212" stroke-width="0.95"/><path d="M131.8,534.7 C130,545 130,560 133,570.6" fill="none" stroke="#121212" stroke-width="0.9"/><path d="M134.5,537 C133,548 133.3,560 135.5,567.5" fill="none" stroke="#222" stroke-width="1.4" stroke-dasharray="1.5 1"/><path d="M109.5,523 L111,521.5 L132.3,531.8 L133,539 L111,530.5Z" fill="#fcfefc" stroke="#121212" stroke-width="0.8"/><path d="M113.5,525 L116,526 M118,526.5 L121,528 M123,529 L126,530.5" fill="none" stroke="#111" stroke-width="1.3"/><path d="M109.7,524 C102,529.5 97.5,540 98.5,548.5 C99.5,554 102.5,556.5 106,556.5 L110,571 L90,559.3 C86,559 82.5,556 81.5,550 C80,542 86,530 94.9,525.3 Z" fill="#fcfefc" stroke="#121212" stroke-width="0.01"/><path d="M94.9,525.3 C86,530 80,542 81.5,550 C82.5,556 86,559 90,559.3" fill="none" stroke="#151515" stroke-width="1.7"/><path d="M100.5,523.5 C92,528 86.5,540 87.5,549 C88.5,555 92,557.5 96,558" fill="none" stroke="#121212" stroke-width="1.0"/><path d="M103,523.6 C95,528.5 89.5,540 90.5,549 C91.5,555 94.5,557.3 98.5,557.6" fill="none" stroke="#333" stroke-width="1.0" stroke-dasharray="1.5 1.2"/><path d="M105,523.8 C97,529 92,540 93,549 C94,555 97,557 101,557.2" fill="none" stroke="#121212" stroke-width="1.0"/><path d="M109.7,524 C102,529.5 97.5,540 98.5,548.5 C99.5,554 102.5,556.5 106,556.5" fill="none" stroke="#121212" stroke-width="1.1"/><path d="M91.5,527 L94,524.5 M84.5,535 L87,533.5 M82,545 L85,545 M85,555 L88,553" fill="none" stroke="#222" stroke-width="1.2"/><path d="M97.8,523.4 C89,528 83.5,540 84.5,549 C85.5,555 89,558 93,558.6" fill="none" stroke="#2a2a2a" stroke-width="1.1" stroke-dasharray="2.2 1"/><path d="M107.3,523.9 C99.5,529 94.8,540 95.8,548.8 C96.8,554.5 99.8,556.8 103.5,556.9" fill="none" stroke="#333" stroke-width="0.9" stroke-dasharray="1.2 1.2"/><path d="M90,559.3 C95,559 101,558 106,556.5" fill="none" stroke="#222" stroke-width="1.3"/><path d="M53.1,500 C52,506 52.5,512 55,519 C58,527 63,534 68.1,540.5 C73,545 77,547 81.3,549 C80.5,542 86,530 94.9,525.3 C90,523 87.5,520.5 85.8,517 C83.5,512.5 82.6,507 82,502.9 Z" fill="#fcfefc" stroke="#121212" stroke-width="0.9"/><path d="M82.3,503 C82.6,509 83.6,515 86,519 C88.5,522.5 91,524.5 93.8,525.6" fill="none" stroke="#222" stroke-width="1.3" stroke-dasharray="2 1"/><ellipse cx="69" cy="498" rx="15.9" ry="12.4" transform="rotate(10 69 498)" fill="#fcfefc" stroke="#121212" stroke-width="0.9"/><ellipse cx="69.3" cy="498.6" rx="13.4" ry="10.2" transform="rotate(10 69.3 498.6)" fill="none" stroke="#121212" stroke-width="0.8"/><ellipse cx="69.6" cy="499.5" rx="11.5" ry="8.4" transform="rotate(10 69.6 499.5)" fill="none" stroke="#333" stroke-width="0.8" stroke-dasharray="3 1"/><ellipse cx="70" cy="501" rx="10.5" ry="6.6" transform="rotate(10 70 501)" fill="none" stroke="#333" stroke-width="1" stroke-dasharray="1.5 1.5"/><path d="M140.0,350.0 L142.6,350.4 L145.2,350.8 L147.8,351.2 L150.3,351.7 L152.8,352.1 L155.0,352.5 L157.1,352.9 L159.0,353.4 L160.9,353.9 L162.6,354.3 L164.0,354.8 L165.3,355.2 L166.3,355.6 L167.1,356.0 L167.8,356.4 L168.2,356.7 L168.4,357.1 L168.5,357.5 L168.4,357.9 L168.1,358.3 L167.7,358.7 L167.0,359.2 L166.2,359.6 L165.0,360.0 L163.4,360.4 L161.3,360.8 L159.0,361.2 L156.7,361.6 L154.6,362.1 L153.0,362.6 L151.9,363.1 L151.0,363.7 L150.4,364.4 L150.1,365.0 L149.9,365.6 L149.9,366.3 L150.1,367.0 L150.6,367.8 L151.3,368.5 L152.1,369.3 L153.0,370.0 L154.0,370.5 L155.1,370.9 L156.3,371.3 L157.6,371.5 L159.0,371.7 L160.5,371.9 L162.0,372.0 L163.5,372.1 L164.9,372.1 L166.3,372.1 L168.0,372.0 L169.8,371.8 L172.0,371.5 L174.6,371.0 L177.7,370.2 L181.0,369.4 L184.3,368.6 L187.5,368.0 L190.4,367.7 L192.9,367.8 L195.0,368.2 L197.0,368.7 L199.1,369.3 L201.3,369.8 L203.9,370.2 L207.0,370.4 L210.4,370.6 L214.1,370.7 L217.7,370.7 L221.2,370.6 L224.3,370.4 L227.0,370.1 L229.3,369.7 L231.5,369.2 L233.6,368.6 L235.7,367.9 L237.9,367.0 L240.2,365.9 L242.6,364.7 L244.9,363.3 L247.2,361.9 L249.4,360.4 L251.4,358.9 L253.3,357.4 L255.1,355.8 L256.8,354.2 L258.4,352.6 L259.8,351.0 L260.9,349.4 L261.8,347.8 L262.5,346.3 L263.0,344.7 L263.3,343.2 L263.5,341.8 L263.7,340.5 L263.7,339.3 L263.4,338.2 L263.1,337.2 L262.7,336.3 L262.5,335.4 L262.5,334.6 L262.7,333.9 L263.0,333.2 L263.4,332.6 L264.0,332.0 L264.8,331.6 L266.0,331.2 L267.6,330.9 L269.5,330.6 L271.7,330.4 L274.0,330.3 L276.3,330.4 L278.6,330.6 L280.8,331.1 L283.1,331.8 L285.3,332.6 L287.6,333.4 L289.9,334.2 L292.2,334.8 L294.6,335.2 L297.0,335.5 L299.5,335.7 L301.9,335.9 L304.1,335.9 L306.0,336.0 L307.7,336.0 L309.2,336.0 L310.6,335.9 L311.8,335.8 L312.7,335.6 L313.5,335.3 L314.1,334.9 L314.4,334.5 L314.6,333.9 L314.6,333.4 L314.4,332.8 L314.0,332.3 L313.3,331.8 L312.4,331.3 L311.2,330.8 L310.0,330.3 L308.9,329.8 L308.0,329.3 L307.2,328.9 L306.5,328.4 L305.8,328.0 L305.3,327.6 L304.9,327.2 L304.8,326.8 L305.0,326.4 L305.4,326.0 L306.0,325.6 L306.7,325.2 L307.6,324.8 L308.5,324.6 L309.5,324.4 L310.6,324.3 L311.9,324.3 L313.2,324.3 L314.6,324.3 L316.0,324.5 L317.6,324.7 L319.2,325.0 L321.0,325.4 L322.8,325.8 L324.4,326.4 L326.0,327.0 L327.4,327.8 L328.9,328.6 L330.2,329.6 L331.4,330.6 L332.5,331.8 L333.5,333.0 L334.3,334.3 L334.8,335.8 L335.3,337.3 L335.7,338.9 L336.1,340.5 L336.5,342.0" fill="none" stroke="#121212" stroke-width="4.6" stroke-linecap="round" stroke-linejoin="round"/><path d="M140.0,350.0 L142.6,350.4 L145.2,350.8 L147.8,351.2 L150.3,351.7 L152.8,352.1 L155.0,352.5 L157.1,352.9 L159.0,353.4 L160.9,353.9 L162.6,354.3 L164.0,354.8 L165.3,355.2 L166.3,355.6 L167.1,356.0 L167.8,356.4 L168.2,356.7 L168.4,357.1 L168.5,357.5 L168.4,357.9 L168.1,358.3 L167.7,358.7 L167.0,359.2 L166.2,359.6 L165.0,360.0 L163.4,360.4 L161.3,360.8 L159.0,361.2 L156.7,361.6 L154.6,362.1 L153.0,362.6 L151.9,363.1 L151.0,363.7 L150.4,364.4 L150.1,365.0 L149.9,365.6 L149.9,366.3 L150.1,367.0 L150.6,367.8 L151.3,368.5 L152.1,369.3 L153.0,370.0 L154.0,370.5 L155.1,370.9 L156.3,371.3 L157.6,371.5 L159.0,371.7 L160.5,371.9 L162.0,372.0 L163.5,372.1 L164.9,372.1 L166.3,372.1 L168.0,372.0 L169.8,371.8 L172.0,371.5 L174.6,371.0 L177.7,370.2 L181.0,369.4 L184.3,368.6 L187.5,368.0 L190.4,367.7 L192.9,367.8 L195.0,368.2 L197.0,368.7 L199.1,369.3 L201.3,369.8 L203.9,370.2 L207.0,370.4 L210.4,370.6 L214.1,370.7 L217.7,370.7 L221.2,370.6 L224.3,370.4 L227.0,370.1 L229.3,369.7 L231.5,369.2 L233.6,368.6 L235.7,367.9 L237.9,367.0 L240.2,365.9 L242.6,364.7 L244.9,363.3 L247.2,361.9 L249.4,360.4 L251.4,358.9 L253.3,357.4 L255.1,355.8 L256.8,354.2 L258.4,352.6 L259.8,351.0 L260.9,349.4 L261.8,347.8 L262.5,346.3 L263.0,344.7 L263.3,343.2 L263.5,341.8 L263.7,340.5 L263.7,339.3 L263.4,338.2 L263.1,337.2 L262.7,336.3 L262.5,335.4 L262.5,334.6 L262.7,333.9 L263.0,333.2 L263.4,332.6 L264.0,332.0 L264.8,331.6 L266.0,331.2 L267.6,330.9 L269.5,330.6 L271.7,330.4 L274.0,330.3 L276.3,330.4 L278.6,330.6 L280.8,331.1 L283.1,331.8 L285.3,332.6 L287.6,333.4 L289.9,334.2 L292.2,334.8 L294.6,335.2 L297.0,335.5 L299.5,335.7 L301.9,335.9 L304.1,335.9 L306.0,336.0 L307.7,336.0 L309.2,336.0 L310.6,335.9 L311.8,335.8 L312.7,335.6 L313.5,335.3 L314.1,334.9 L314.4,334.5 L314.6,333.9 L314.6,333.4 L314.4,332.8 L314.0,332.3 L313.3,331.8 L312.4,331.3 L311.2,330.8 L310.0,330.3 L308.9,329.8 L308.0,329.3 L307.2,328.9 L306.5,328.4 L305.8,328.0 L305.3,327.6 L304.9,327.2 L304.8,326.8 L305.0,326.4 L305.4,326.0 L306.0,325.6 L306.7,325.2 L307.6,324.8 L308.5,324.6 L309.5,324.4 L310.6,324.3 L311.9,324.3 L313.2,324.3 L314.6,324.3 L316.0,324.5 L317.6,324.7 L319.2,325.0 L321.0,325.4 L322.8,325.8 L324.4,326.4 L326.0,327.0 L327.4,327.8 L328.9,328.6 L330.2,329.6 L331.4,330.6 L332.5,331.8 L333.5,333.0 L334.3,334.3 L334.8,335.8 L335.3,337.3 L335.7,338.9 L336.1,340.5 L336.5,342.0" fill="none" stroke="#fcfefc" stroke-width="2.6" stroke-linecap="round" stroke-linejoin="round"/><g transform="translate(327.5 353.5) rotate(128)"><rect x="-11.5" y="-5.3" width="21" height="10.6" rx="4" fill="#fcfefc" stroke="#1e1e1e" stroke-width="0.9"/><ellipse cx="-8.5" cy="0" rx="2.6" ry="5" fill="none" stroke="#1e1e1e" stroke-width="0.9"/><ellipse cx="-7" cy="0" rx="2.2" ry="4.2" fill="none" stroke="#444" stroke-width="0.7"/><path d="M6,-5 C9,-3 9,3 6,5" fill="none" stroke="#1e1e1e" stroke-width="1.3"/><rect x="9.5" y="-4.6" width="9" height="9.2" rx="1.5" fill="#fcfefc" stroke="#1e1e1e" stroke-width="0.9"/><path d="M11.5,-4 L11.5,4 M13.5,-4 L13.5,4 M15.5,-4 L15.5,4" stroke="#1e1e1e" stroke-width="1.1"/><path d="M18.5,-3 L21.5,-2 L21.5,2 L18.5,3" fill="none" stroke="#1e1e1e" stroke-width="0.9"/></g><path d="M86,323.5 L124.5,327.5 L140,349.8 L101.5,346.3Z" fill="#161616" stroke="#111" stroke-width="0.8"/><path d="M95.8,328.6 L121.2,331.6 L123.8,336.2 L98.6,333.4Z" fill="#fcfefc"/><path d="M102.8,338.2 L128.4,341.2 L131,345.4 L105.6,342.8Z" fill="#fcfefc"/><circle cx="112" cy="337" r="0.9" fill="#fcfefc"/><ellipse cx="131.5" cy="331" rx="6.2" ry="3.8" transform="rotate(12 131.5 331)" fill="#fcfefc" stroke="#121212" stroke-width="0.9"/><ellipse cx="131" cy="330.8" rx="2.4" ry="1.5" transform="rotate(12 131 330.8)" fill="none" stroke="#121212" stroke-width="0.7"/><path d="M85.5,335 C84,337 84.5,342 86,345 C88,348.5 93,350 97,350.5 L101,346 L92,333 Z" fill="#b9b9b9" stroke="#121212" stroke-width="1.1"/><ellipse cx="92" cy="341" rx="3.6" ry="3.2" transform="rotate(0 92 341)" fill="none" stroke="#121212" stroke-width="0.8"/><ellipse cx="92" cy="341" rx="1.5" ry="1.3" transform="rotate(0 92 341)" fill="none" stroke="#121212" stroke-width="0.7"/><path d="M87,337 L89,345 M96,337 L98,346" fill="none" stroke="#333" stroke-width="0.7"/><path d="M96,349.5 L140.5,350 C143,352 143.5,356 141,358.5 C130,359.5 110,359 100,357 C97,355 95.5,352 96,349.5Z" fill="#a8a8a8" stroke="#121212" stroke-width="1.1"/><path d="M99,352.5 C105,354 112,354.5 119,355 M121,353 L124,357 M127,352 L130,357.5 M133,351.5 L136,357.5 M108,351 L110,357 M114,352 L116,358 M103,351 L104,356" fill="none" stroke="#222" stroke-width="0.8"/><ellipse cx="140.5" cy="353.5" rx="3.2" ry="4.3" transform="rotate(0 140.5 353.5)" fill="#fcfefc" stroke="#121212" stroke-width="0.9"/><path d="M78.5,366 C78.5,362.5 81.5,361.3 85,361.3 C89,361.3 91.8,363 91.8,366 L91.5,369.5 C91.5,371.8 88.5,372.8 85,372.8 C81.5,372.8 78.7,371.5 78.7,369.5Z" fill="#fcfefc" stroke="#121212" stroke-width="0.8"/><ellipse cx="85.2" cy="365.6" rx="6.4" ry="3.7" transform="rotate(0 85.2 365.6)" fill="none" stroke="#121212" stroke-width="0.8"/><ellipse cx="85.4" cy="365.3" rx="2.6" ry="1.6" transform="rotate(0 85.4 365.3)" fill="none" stroke="#121212" stroke-width="0.8"/><path d="M79,369 C82,371 88,371 91.5,369" fill="none" stroke="#444" stroke-width="0.7"/><path d="M180,322 L187,318.5 L198.5,317.5 L199.8,334 L196.5,340.5 L186,342 L182,338.5 L180.2,330Z" fill="#dadada" stroke="#121212" stroke-width="0.9"/><path d="M183,322.5 L183,336 M186.5,320 L186.5,340 M190,321 L190,337 M193.5,319.5 L194,334 M183,326 L197,324.5 M183,330 L198,329 M186,334 L195,333.5 M190,325 L195,331" fill="none" stroke="#222" stroke-width="0.8"/><path d="M188,327 L191,333 L192,327" fill="none" stroke="#111" stroke-width="1.3"/><ellipse cx="78" cy="425" rx="16.4" ry="11.8" transform="rotate(16 78 425)" fill="none" stroke="#1a1a1a" stroke-width="1.5"/><ellipse cx="78" cy="425.3" rx="14.6" ry="10.2" transform="rotate(16 78 425.3)" fill="none" stroke="#777" stroke-width="1.6" stroke-dasharray="2 1"/><ellipse cx="78.2" cy="425.5" rx="13.4" ry="8.6" transform="rotate(16 78.2 425.5)" fill="none" stroke="#1a1a1a" stroke-width="1.3"/><path d="M78,436 L84,441.5 L92,439.5 M79,441 L86,437.5 M88,437 L93.5,442.5 M83,443 L89,438" fill="none" stroke="#222" stroke-width="1.2"/><path d="M88,439.5 L93,438 L94.3,442 L90,443.5Z" fill="#222"/><ellipse cx="72.6" cy="465.4" rx="15.3" ry="10.7" transform="rotate(8 72.6 465.4)" fill="none" stroke="#121212" stroke-width="1.0"/><ellipse cx="72.6" cy="465.5" rx="13.2" ry="8.8" transform="rotate(8 72.6 465.5)" fill="none" stroke="#121212" stroke-width="0.9"/><ellipse cx="72.8" cy="465.6" rx="14.2" ry="9.7" transform="rotate(8 72.8 465.6)" fill="none" stroke="#444" stroke-width="0.8" stroke-dasharray="1 2.2"/><path d="M108.3,436.3 L123.6,436.3 L123.6,449.7 L108.3,449.7Z" fill="#fcfefc" stroke="#121212" stroke-width="0.9"/><path d="M108.3,443.2 L123.6,443.2" fill="none" stroke="#121212" stroke-width="0.8"/><ellipse cx="106.5" cy="442.7" rx="1.9" ry="10" transform="rotate(0 106.5 442.7)" fill="#fcfefc" stroke="#121212" stroke-width="0.9"/><path d="M105.6,433.5 L105.6,452" fill="none" stroke="#333" stroke-width="1.0"/><path d="M128.9,413 C128.8,410.5 130.5,409.4 132.5,409.4 L158,409.4 C160,409.4 161.2,411 161.3,413 L161.3,432 L164.6,432 L164.6,436.7 L161.7,436.7 L165.6,438.6 C167.5,436.5 170,436 172,436.4 C175,437 177.5,440 177,444 L171.4,454 L173.3,462.7 C173.5,466.5 172,469.5 167.5,471.4 C164.5,470.5 162,468 160.5,465 L158.8,462.7 L156.4,462.7 L155.9,435.7 L132.5,432 C130,431 128.5,429.5 128.5,428Z" fill="#fcfefc" stroke="#121212" stroke-width="0.9"/><path d="M158.8,412 L158.8,462.5 M155.9,435.7 L158.8,436.5 M161.5,436.7 L161,437" fill="none" stroke="#121212" stroke-width="0.8"/><path d="M134.5,412.3 L145.8,412.3 C147.5,412.3 147.5,415.9 145.8,415.9 L134.5,415.9 C132.8,415.9 132.8,412.3 134.5,412.3Z" fill="#fcfefc" stroke="#121212" stroke-width="0.8"/><path d="M134.5,422.7 L145.8,422.7 C147.5,422.7 147.5,426.3 145.8,426.3 L134.5,426.3 C132.8,426.3 132.8,422.7 134.5,422.7Z" fill="#fcfefc" stroke="#121212" stroke-width="0.8"/><path d="M135,414.1 L145.5,414.1 M135,424.5 L145.5,424.5" fill="none" stroke="#555" stroke-width="1.2"/><ellipse cx="172" cy="442.6" rx="2.6" ry="3.4" transform="rotate(20 172 442.6)" fill="none" stroke="#121212" stroke-width="0.9"/><ellipse cx="167.5" cy="465.5" rx="1.6" ry="2.0" transform="rotate(10 167.5 465.5)" fill="none" stroke="#121212" stroke-width="0.8"/><path d="M164.5,450 L168.5,451.5 L167,455 L164,453.5Z M163.5,457 L169,460" fill="none" stroke="#222" stroke-width="1.0"/><path d="M138.2,449.5 C138.2,446.8 144.8,446.8 144.8,449.5 L144.8,468 L138.2,468Z" fill="#fcfefc" stroke="#121212" stroke-width="0.85"/><path d="M138.2,452 C140,453.2 143,453.2 144.8,452" fill="none" stroke="#333" stroke-width="0.8"/><path d="M138.2,455 C140,456.2 143,456.2 144.8,455" fill="none" stroke="#333" stroke-width="0.8"/><path d="M138.2,458 C140,459.2 143,459.2 144.8,458" fill="none" stroke="#333" stroke-width="0.8"/><path d="M138.2,461 C140,462.2 143,462.2 144.8,461" fill="none" stroke="#333" stroke-width="0.8"/><path d="M138.2,464 C140,465.2 143,465.2 144.8,464" fill="none" stroke="#333" stroke-width="0.8"/><ellipse cx="141" cy="469.8" rx="9.2" ry="3.3" transform="rotate(0 141 469.8)" fill="#fcfefc" stroke="#121212" stroke-width="0.9"/><path d="M135.3,471.5 L135.5,477.5 C137,480 145,480.5 147.2,477.5 L147.3,471.5Z" fill="#fcfefc" stroke="#121212" stroke-width="0.85"/><path d="M139.5,472.5 L139.5,479.5 M143.5,472.5 L143.5,479.8" fill="none" stroke="#333" stroke-width="0.7"/><path d="M187.5,433 L189,431.8 L197.2,435 L197.8,447.5 L189.5,449.7 L187.5,448Z" fill="#fcfefc" stroke="#121212" stroke-width="0.85"/><path d="M190.5,434 L190.5,448.5 M190.5,437 L196.5,438.5 M190.5,444 L196.5,444.8" fill="none" stroke="#333" stroke-width="0.8"/><path d="M185,458.5 L201.5,453.7 L203.2,463.5 L186.5,467 C184,466.5 183.2,460 185,458.5Z" fill="#fcfefc" stroke="#121212" stroke-width="0.85"/><path d="M188,456.7 C186.5,459.6 187,463.1 188.5,465.6" fill="none" stroke="#333" stroke-width="0.8"/><path d="M191,455.9 C189.5,458.8 190,462.3 191.5,464.8" fill="none" stroke="#333" stroke-width="0.8"/><path d="M194,455.0 C192.5,457.9 193,461.4 194.5,464.1" fill="none" stroke="#333" stroke-width="0.8"/><path d="M197,454.1 C195.5,457.0 196,460.5 197.5,463.3" fill="none" stroke="#333" stroke-width="0.8"/><path d="M200,453.2 C198.5,456.1 199,459.6 200.5,462.6" fill="none" stroke="#333" stroke-width="0.8"/><ellipse cx="205.5" cy="457" rx="3.5" ry="8" transform="rotate(-10 205.5 457)" fill="#fcfefc" stroke="#121212" stroke-width="0.9"/><path d="M205,449.6 L211,447.3 L216.5,449.5 L218,456 L216,462.5 L210,465 L205.5,462.5Z" fill="#fcfefc" stroke="#121212" stroke-width="0.85"/><path d="M211,447.3 L211.5,455 L210,465 M211.5,455 L217.8,456" fill="none" stroke="#333" stroke-width="0.8"/><path d="M238.5,588 C238.5,585.5 241,583.5 244.5,582.8 L272.3,573.9 L280.1,573.6 C284,574 289,578 292.2,582.1 L292.2,584.5 C285,591 277,596.5 270,601 C266,603.5 262,605.5 258.5,607.5 L256.5,609 L256.5,622 C256.5,627 253.5,632 249.5,632.6 C246,632.5 243,630 241,626 C239.5,620 238.5,612 238.3,605 Z" fill="#fcfefc" stroke="#121212" stroke-width="0.9"/><path d="M238.6,589.5 L253.5,599.8 L256.5,600.8 L256.5,609 M254.3,600.5 L254.3,623" fill="none" stroke="#121212" stroke-width="0.85"/><path d="M244.5,582.8 L272.3,573.9" fill="none" stroke="#333" stroke-width="0.9" stroke-dasharray="2 1.3"/><path d="M256.8,596 C259.5,592.5 264,591.5 266.5,593 C268.5,595 267.5,598.5 264.5,600 L258.5,602 Z" fill="#fcfefc" stroke="#121212" stroke-width="0.85"/><ellipse cx="253.2" cy="585" rx="3.3" ry="1.5" transform="rotate(-8 253.2 585)" fill="none" stroke="#121212" stroke-width="0.85"/><ellipse cx="279.2" cy="578.2" rx="2.8" ry="1.3" transform="rotate(-8 279.2 578.2)" fill="none" stroke="#121212" stroke-width="0.85"/><path d="M242.5,613 C243,611 245,611 247,612.5 L250,617 C251,619.5 250,621.5 248,620.5 L243.5,617 Z" fill="#fcfefc" stroke="#121212" stroke-width="0.8"/><path d="M244,613.5 L248.5,619" fill="none" stroke="#333" stroke-width="1.0"/><path d="M218.5,617 L223,612.8 L230,613 L234.5,617.5 L234.3,625 L229.5,629.4 L222.5,629.2 L218,624.5Z" fill="#fcfefc" stroke="#121212" stroke-width="0.85"/><ellipse cx="226.3" cy="620.8" rx="5.3" ry="5.8" transform="rotate(0 226.3 620.8)" fill="none" stroke="#121212" stroke-width="0.8"/><path d="M223.5,617.5 L229,619.5 L228,625 M224,620 L226,625" fill="none" stroke="#222" stroke-width="0.9"/><path d="M277.8,616 C277.8,612.3 285.3,612.3 285.3,616 L285.3,636 L277.8,636Z" fill="#fcfefc" stroke="#121212" stroke-width="0.85"/><path d="M277.8,618.5 C280,619.8 283,619.8 285.3,618.5" fill="none" stroke="#333" stroke-width="0.8"/><path d="M277.8,621.5 C280,622.8 283,622.8 285.3,621.5" fill="none" stroke="#333" stroke-width="0.8"/><path d="M277.8,624.5 C280,625.8 283,625.8 285.3,624.5" fill="none" stroke="#333" stroke-width="0.8"/><path d="M277.8,627.5 C280,628.8 283,628.8 285.3,627.5" fill="none" stroke="#333" stroke-width="0.8"/><path d="M277.8,630.5 C280,631.8 283,631.8 285.3,630.5" fill="none" stroke="#333" stroke-width="0.8"/><path d="M277.8,633.5 C280,634.8 283,634.8 285.3,633.5" fill="none" stroke="#333" stroke-width="0.8"/><ellipse cx="281.5" cy="637.5" rx="8.2" ry="3.2" transform="rotate(0 281.5 637.5)" fill="#fcfefc" stroke="#121212" stroke-width="0.9"/><path d="M276,639.5 L276.5,644 C278,646 285,646 287,644 L287,639.5Z" fill="#fcfefc" stroke="#121212" stroke-width="0.85"/><path d="M280,640.5 L280,645.5 M283.5,640.5 L283.5,645.5" fill="none" stroke="#333" stroke-width="0.7"/><path d="M304,589.2 C312,586 318,584.8 322,585 L328.6,588.5 L328.6,612 C323,615.5 315,618 306,620.4 Z" fill="#fcfefc" stroke="#121212" stroke-width="0.9"/><path d="M327.6,590.2 L344,585.6 C345.8,585.5 346.6,586.5 346.6,588 L346.3,604 C346.2,605.5 345.5,606 344.5,606.2 L329,609Z" fill="#fcfefc" stroke="#121212" stroke-width="0.9"/><ellipse cx="339.3" cy="597" rx="1.9" ry="3.9" transform="rotate(8 339.3 597)" fill="none" stroke="#121212" stroke-width="0.85"/><ellipse cx="301.2" cy="604.7" rx="8.6" ry="16" transform="rotate(12 301.2 604.7)" fill="#fcfefc" stroke="#121212" stroke-width="0.95"/><path d="M293.5,601.8 L301.5,601 L301.5,606.2 L293.8,607.3 M296,603 C294,604 294.5,606 296,606" fill="none" stroke="#121212" stroke-width="0.85"/><path d="M308,596 C311,600 311.5,610 308,617 M326,589 C324,596 324,606 327,612" fill="none" stroke="#333" stroke-width="0.8"/><circle cx="317.5" cy="609" r="1.0" fill="none" stroke="#333" stroke-width="0.7"/><path d="M357.5,609 C357,607 359,606.2 360.5,607.2 L367.8,611.8 L364.5,617.5 L357.6,612.5Z" fill="#fcfefc" stroke="#121212" stroke-width="0.85"/><path d="M359.5,607.5 L358.8,611.5 M361.8,608.8 L360.8,613.3 M364,610.2 L363,615" fill="none" stroke="#333" stroke-width="0.8"/><path d="M365.8,612.5 L370,608.2 L377.5,610 L380,616.5 L378,623.5 L372.5,626 L366.5,622.5 L364.5,617Z" fill="#fcfefc" stroke="#121212" stroke-width="0.85"/><path d="M370,608.2 L371.5,617 L366.5,622.5 M371.5,617 L380,616.5 M371.5,617 L372.5,626" fill="none" stroke="#333" stroke-width="0.8"/><path d="M546.6,480.6 L551.1,479.5 L555.7,478.4 L560.3,477.2 L564.8,476.1 L569.2,475.0 L573.2,474.0 L576.9,473.1 L580.3,472.2 L583.5,471.4 L586.6,470.6 L589.8,469.6 L593.1,468.5 L596.7,467.1 L600.4,465.5 L604.1,463.8 L607.8,462.0 L611.4,460.4 L614.7,459.0 L617.7,457.8 L620.3,456.8 L622.8,455.9 L625.3,455.0 L628.1,454.1 L631.3,453.2 L635.0,452.2 L639.0,451.2 L643.2,450.2 L647.5,449.3 L651.9,448.3 L656.1,447.4 L660.2,446.5 L664.4,445.7 L668.5,444.8 L672.7,444.0 L676.8,443.2 L681.0,442.4 L685.1,441.6 L689.3,440.8 L693.5,440.0 L697.6,439.1 L701.8,438.3 L705.9,437.4 L710.2,436.4 L714.5,435.2 L718.9,434.1 L723.2,433.0 L727.2,432.0 L730.8,431.3 L733.9,430.9 L736.7,430.7 L739.1,430.6 L741.5,430.6 L743.8,430.7 L746.3,430.6" fill="none" stroke="#121212" stroke-width="1.0"/><path d="M554.9,506.3 L559.4,504.9 L563.8,503.6 L568.3,502.3 L572.8,501.0 L577.2,499.5 L581.5,498.0 L585.8,496.3 L590.1,494.5 L594.3,492.6 L598.4,490.7 L602.5,488.9 L606.4,487.2 L610.2,485.6 L613.9,484.1 L617.5,482.6 L621.0,481.3 L624.4,480.0 L627.9,478.9 L631.3,478.0 L634.5,477.3 L637.6,476.7 L640.9,476.2 L644.2,475.6 L647.8,474.8 L651.8,473.8 L656.0,472.6 L660.5,471.4 L664.8,470.2 L669.0,469.2 L672.7,468.5 L675.9,468.1 L678.8,468.1 L681.5,468.2 L684.1,468.3 L686.6,468.4 L689.3,468.3 L692.0,468.0 L694.5,467.7 L697.1,467.4 L699.8,466.9 L702.7,466.4 L705.9,465.7 L709.7,464.9 L713.9,463.9 L718.4,462.8 L722.9,461.8 L727.1,460.7 L730.8,459.8 L733.9,459.0 L736.7,458.3 L739.1,457.6 L741.5,457.0 L743.8,456.4 L746.3,455.7" fill="none" stroke="#121212" stroke-width="1.0"/><ellipse cx="548.5" cy="493.8" rx="7.1" ry="13.3" transform="rotate(-14 548.5 493.8)" fill="#fcfefc" stroke="#121212" stroke-width="0.9"/><path d="M746.3,430.4 C747.5,430.8 748.3,431.5 748.6,432 L748.6,455.7 L746.3,455.7" fill="none" stroke="#121212" stroke-width="0.9"/><path d="M744.2,437 L744.2,448" fill="none" stroke="#555" stroke-width="0.8" stroke-dasharray="1.5 1.5"/><path d="M753.1,431.3 L797,433 L797,456 C797,460 796.5,465 795.6,467.5 C795,469 794,469.3 793.3,469.3 L760,468.3 C756,468 754,467.3 753.6,465.5 L753.1,449Z" fill="#fcfefc" stroke="#121212" stroke-width="0.9"/><path d="M753.3,448.5 L797,450.3" fill="none" stroke="#121212" stroke-width="1.0"/><path d="M753.3,450.4 L797,452.3" fill="none" stroke="#333" stroke-width="1.1"/><path d="M753.3,447 L797,448.7" fill="none" stroke="#666" stroke-width="0.6"/><path d="M755.5,433 L755.5,447" fill="none" stroke="#555" stroke-width="0.9"/><path d="M753.3,432.3 L797,434.2" fill="none" stroke="#333" stroke-width="1.0" stroke-dasharray="5 2.5"/><path d="M797.0,433.6 L799.5,433.3 L802.0,433.0 L804.5,432.6 L807.0,432.3 L809.3,432.0 L811.4,431.7 L813.2,431.4 L814.7,431.1 L816.1,430.9 L817.5,430.6 L818.9,430.3 L820.5,429.9 L822.3,429.5 L824.2,429.0 L826.2,428.4 L828.3,427.9 L830.3,427.3 L832.3,426.8" fill="none" stroke="#121212" stroke-width="1.0"/><path d="M832.3,426.8 C834.5,426.4 836,426.8 837,427.7 C839.5,430 841.3,435 841.8,441.2 C842,445 841,447.5 840,448.5" fill="none" stroke="#121212" stroke-width="1.0"/><path d="M840.0,448.5 L838.3,448.9 L836.8,449.3 L835.2,449.8 L833.6,450.2 L831.7,450.7 L829.5,451.2 L826.9,451.8 L823.8,452.6 L820.6,453.3 L817.3,454.1 L814.2,454.8 L811.4,455.3 L809.0,455.7 L806.8,455.9 L804.8,456.1 L802.8,456.3 L800.8,456.4 L798.8,456.6" fill="none" stroke="#121212" stroke-width="1.0"/><g transform="translate(503.4 505) scale(1.0)"><path d="M-1.9,-14.2 L23.5,-18.8 C28,-17 31.5,-6 31.1,3.5 C30.8,8 29.5,11 28,10.2 L1.8,15.2 Z" fill="#fcfefc" stroke="#121212" stroke-width="1.0"/><path d="M9,-16 C13,-13 15.5,-3 14.5,11.8 M17,-17.2 C21,-13 23,-3 22,10.8 M22.5,-18.6 C26,-14 28,-3 27.2,10.2" fill="none" stroke="#121212" stroke-width="1.1"/><path d="M11,-16.3 C15,-13 17.5,-3 16.5,11.4" fill="none" stroke="#555" stroke-width="0.7"/><ellipse cx="0" cy="0" rx="8.6" ry="15.2" transform="rotate(-12 0 0)" fill="#fcfefc" stroke="#121212" stroke-width="1.0"/><path d="M3,-13.5 C6.5,-9 8.3,-1 7.8,8 C7.5,11 7,13 5.5,14.5" fill="none" stroke="#1a1a1a" stroke-width="1.8"/><path d="M1.2999999999999998,-16.0 C0.7999999999999998,-21.0 3.3,-23.5 5.8,-23.3 C8.8,-23.0 9.8,-20.0 9.3,-15.5Z" fill="#fcfefc" stroke="#121212" stroke-width="1.0"/><ellipse cx="5.3" cy="-19.5" rx="2.0" ry="1.8" transform="rotate(0 5.3 -19.5)" fill="none" stroke="#121212" stroke-width="0.9"/><path d="M1.7999999999999998,-16.5 L8.8,-16.0" fill="none" stroke="#121212" stroke-width="1.0"/><path d="M14.8,-19.4 C14.3,-24.4 16.8,-26.9 19.3,-26.7 C22.3,-26.4 23.3,-23.4 22.8,-18.9Z" fill="#fcfefc" stroke="#121212" stroke-width="1.0"/><ellipse cx="18.8" cy="-22.9" rx="2.0" ry="1.8" transform="rotate(0 18.8 -22.9)" fill="none" stroke="#121212" stroke-width="0.9"/><path d="M15.3,-19.9 L22.3,-19.4" fill="none" stroke="#121212" stroke-width="1.0"/></g><g transform="translate(851.8 434.1) scale(0.84)"><path d="M-1.9,-14.2 L23.5,-18.8 C28,-17 31.5,-6 31.1,3.5 C30.8,8 29.5,11 28,10.2 L1.8,15.2 Z" fill="#fcfefc" stroke="#121212" stroke-width="1.0"/><path d="M9,-16 C13,-13 15.5,-3 14.5,11.8 M17,-17.2 C21,-13 23,-3 22,10.8 M22.5,-18.6 C26,-14 28,-3 27.2,10.2" fill="none" stroke="#121212" stroke-width="1.1"/><path d="M11,-16.3 C15,-13 17.5,-3 16.5,11.4" fill="none" stroke="#555" stroke-width="0.7"/><ellipse cx="0" cy="0" rx="8.6" ry="15.2" transform="rotate(-12 0 0)" fill="#fcfefc" stroke="#121212" stroke-width="1.0"/><path d="M3,-13.5 C6.5,-9 8.3,-1 7.8,8 C7.5,11 7,13 5.5,14.5" fill="none" stroke="#1a1a1a" stroke-width="1.8"/><path d="M1.2999999999999998,-16.0 C0.7999999999999998,-21.0 3.3,-23.5 5.8,-23.3 C8.8,-23.0 9.8,-20.0 9.3,-15.5Z" fill="#fcfefc" stroke="#121212" stroke-width="1.0"/><ellipse cx="5.3" cy="-19.5" rx="2.0" ry="1.8" transform="rotate(0 5.3 -19.5)" fill="none" stroke="#121212" stroke-width="0.9"/><path d="M1.7999999999999998,-16.5 L8.8,-16.0" fill="none" stroke="#121212" stroke-width="1.0"/><path d="M14.8,-19.4 C14.3,-24.4 16.8,-26.9 19.3,-26.7 C22.3,-26.4 23.3,-23.4 22.8,-18.9Z" fill="#fcfefc" stroke="#121212" stroke-width="1.0"/><ellipse cx="18.8" cy="-22.9" rx="2.0" ry="1.8" transform="rotate(0 18.8 -22.9)" fill="none" stroke="#121212" stroke-width="0.9"/><path d="M15.3,-19.9 L22.3,-19.4" fill="none" stroke="#121212" stroke-width="1.0"/></g><path d="M891.9,410.6 L895.3,410.0 L898.8,409.4 L902.3,408.7 L905.7,408.1 L909.1,407.5 L912.4,407.0 L915.5,406.5 L918.5,406.0 L921.4,405.6 L924.3,405.2 L927.3,404.9 L930.5,404.6 L934.0,404.4 L937.7,404.3 L941.6,404.2 L945.3,404.1 L948.7,404.1 L951.6,404.0 L953.8,403.9 L955.6,403.9 L957.0,403.8 L958.3,403.7 L959.6,403.7 L961.0,403.6" fill="none" stroke="#121212" stroke-width="1.0"/><path d="M896.7,434.1 L899.2,433.4 L901.6,432.6 L904.0,431.9 L906.5,431.2 L909.3,430.5 L912.4,429.9 L915.9,429.4 L919.8,428.9 L923.9,428.5 L928.1,428.1 L932.4,427.8 L936.5,427.5 L940.6,427.3 L944.6,427.1 L948.7,427.0 L952.8,427.0 L956.9,426.9 L961.0,426.8" fill="none" stroke="#121212" stroke-width="1.0"/><ellipse cx="893" cy="422.5" rx="6" ry="12.2" transform="rotate(-14 893 422.5)" fill="#fcfefc" stroke="#121212" stroke-width="0.9"/><ellipse cx="893.2" cy="422.5" rx="5.2" ry="11.2" transform="rotate(-14 893.2 422.5)" fill="none" stroke="#555" stroke-width="0.8" stroke-dasharray="1.5 1.5"/><path d="M960.5,403.3 C962.5,408 963.2,420 961,426.8 M963,403.2 C965.5,408 966,420 964,426.5 M965.4,403.3 C967,409 967.2,420 965.4,426.3" fill="none" stroke="#121212" stroke-width="0.8"/><path d="M933.5,404.2 L933.8,412.3 L951.6,410.6 L951.3,402 Z" fill="#fcfefc" stroke="#121212" stroke-width="0.85"/><path d="M934,408.2 L951.3,406.5" fill="none" stroke="#333" stroke-width="1.1"/><path d="M925,386.5 C922.5,387.5 922.5,390 924.5,391.3 L934,395.5 L948.5,398.5 L950,401.5 L951,396.5 L936,392 C934,390 930,389 925,386.5Z" fill="#fcfefc" stroke="#121212" stroke-width="0.85"/><path d="M931,391.5 L934,399 L932.5,402.5 L936,404.5 M937,395 L937.5,400" fill="none" stroke="#121212" stroke-width="0.85"/><path d="M965.4,403.2 L968.6,402.8 L971.9,402.5 L975.2,402.2 L978.4,401.8 L981.4,401.3 L984.1,400.7 L986.5,399.9 L988.6,399.1 L990.6,398.2 L992.4,397.1 L994.3,395.9 L996.2,394.6 L998.2,393.1 L1000.2,391.3 L1002.3,389.4 L1004.3,387.4 L1006.3,385.6 L1008.3,383.8 L1010.3,382.1 L1012.3,380.5 L1014.3,378.9 L1016.3,377.4 L1018.3,376.0 L1020.3,374.7 L1022.3,373.6 L1024.3,372.5 L1026.3,371.6 L1028.4,370.8 L1030.4,370.0 L1032.4,369.3 L1034.5,368.6 L1036.7,368.0 L1038.8,367.5 L1040.9,367.0 L1042.8,366.6 L1044.5,366.3 L1045.8,366.0 L1046.7,365.8 L1047.5,365.7 L1048.3,365.6 L1049.2,365.6 L1050.5,365.6 L1052.2,365.7 L1054.1,365.8 L1056.1,366.1 L1058.3,366.3 L1060.4,366.6 L1062.5,366.9 L1064.5,367.2 L1066.5,367.7 L1068.5,368.1 L1070.6,368.5 L1072.6,368.9 L1074.6,369.3 L1076.5,369.6 L1078.4,370.0 L1080.3,370.3 L1082.2,370.6 L1084.3,370.7 L1086.7,370.8 L1089.4,370.7 L1092.3,370.5 L1095.4,370.2 L1098.5,369.9 L1101.7,369.6 L1104.8,369.3" fill="none" stroke="#121212" stroke-width="1.0"/><path d="M965.4,426.3 L967.5,426.2 L969.4,426.1 L971.4,426.1 L973.5,426.0 L975.7,425.8 L978.1,425.4 L980.8,424.9 L983.9,424.2 L987.0,423.4 L990.2,422.6 L993.3,421.6 L996.2,420.6 L998.9,419.5 L1001.4,418.3 L1003.8,417.0 L1006.2,415.7 L1008.5,414.2 L1010.7,412.7 L1012.8,411.1 L1014.9,409.3 L1016.9,407.5 L1018.8,405.6 L1020.7,403.7 L1022.7,401.9 L1024.7,400.1 L1026.8,398.1 L1028.9,396.2 L1030.9,394.4 L1032.9,392.8 L1034.8,391.5 L1036.5,390.5 L1038.1,389.8 L1039.7,389.3 L1041.2,388.9 L1042.8,388.6 L1044.5,388.4 L1046.3,388.2 L1048.1,388.2 L1050.0,388.2 L1052.0,388.4 L1054.1,388.6 L1056.5,388.8 L1059.2,389.1 L1062.3,389.6 L1065.5,390.1 L1068.8,390.7 L1071.9,391.2 L1074.6,391.6 L1076.9,392.0 L1078.9,392.3 L1080.6,392.7 L1082.4,392.9 L1084.4,393.1 L1086.7,393.2 L1089.4,393.1 L1092.3,393.0 L1095.4,392.7 L1098.5,392.4 L1101.7,392.1 L1104.8,391.8" fill="none" stroke="#121212" stroke-width="1.0"/><path d="M1008.5,382 L1012.5,379 M1024,381 L1026,379 M1027,385 L1028,387 M1032.5,391 L1030.5,393 M1022.5,401 L1024.5,399 M1045.5,385.8 L1052.5,386.5" fill="none" stroke="#444" stroke-width="0.8"/><path d="M1105.5,368.3 L1107.2,367.9 L1109.0,367.5 L1110.7,367.1 L1112.4,366.7 L1114.1,366.1 L1115.8,365.5 L1117.4,364.7 L1119.0,363.7 L1120.6,362.6 L1122.2,361.5 L1123.7,360.5 L1125.3,359.6 L1126.8,358.9 L1128.3,358.3 L1129.8,357.8 L1131.4,357.3 L1133.0,356.8 L1134.8,356.3 L1136.6,355.8 L1138.4,355.4 L1140.3,354.9 L1142.3,354.4 L1144.7,353.9 L1147.5,353.3 L1150.8,352.6 L1154.6,351.9 L1158.7,351.1 L1163.0,350.2 L1167.2,349.3 L1171.3,348.3 L1175.3,347.1 L1179.5,345.8 L1183.6,344.3 L1187.7,342.9 L1191.5,341.7 L1195.0,340.6 L1198.1,339.8 L1201.0,339.1 L1203.6,338.6 L1206.1,338.2 L1208.5,337.8 L1210.9,337.4 L1213.2,337.1 L1215.4,336.9 L1217.5,336.8 L1219.5,336.7 L1221.5,336.5 L1223.5,336.2 L1225.5,335.8 L1227.4,335.4 L1229.3,334.9 L1231.2,334.3 L1233.0,333.8 L1234.6,333.2 L1236.1,332.6 L1237.6,331.9 L1238.9,331.1 L1240.2,330.5 L1241.4,329.9 L1242.5,329.5 L1243.4,329.3 L1244.1,329.2 L1244.7,329.3 L1245.3,329.4 L1246.2,329.6 L1247.3,329.8 L1248.8,330.0 L1250.7,330.2 L1252.7,330.4 L1254.7,330.8 L1256.7,331.2 L1258.4,331.9 L1259.9,332.8 L1261.2,333.8 L1262.5,335.0 L1263.7,336.2 L1264.9,337.6 L1266.3,339.0 L1267.7,340.5 L1269.2,342.2 L1270.7,344.0 L1272.3,345.7 L1274.0,347.4 L1275.8,348.8 L1277.9,350.0 L1280.2,351.0 L1282.6,351.9 L1285.0,352.8 L1287.2,353.7 L1289.0,354.6 L1290.5,355.6 L1291.9,356.6 L1293.1,357.6 L1294.1,358.6 L1294.8,359.6 L1295.2,360.5 L1295.2,361.4 L1294.7,362.2 L1293.9,363.1 L1293.1,363.9 L1292.4,364.7 L1292.0,365.5 L1292.0,366.4 L1292.3,367.2 L1292.8,368.1 L1293.2,369.0 L1293.3,369.8 L1293.0,370.5 L1292.2,371.2 L1291.0,371.9 L1289.6,372.6 L1288.1,373.1 L1286.6,373.5 L1285.3,373.8 L1284.2,373.8 L1283.3,373.5 L1282.4,373.0 L1281.4,372.6 L1280.3,372.3 L1279.0,372.3 L1277.3,372.5 L1275.3,372.9 L1273.2,373.4 L1271.2,374.1 L1269.4,375.0 L1268.0,376.0 L1267.2,377.3 L1266.9,378.9 L1266.8,380.7 L1266.7,382.6 L1266.6,384.4 L1266.0,386.0 L1265.2,387.5 L1264.2,389.0 L1263.1,390.4 L1261.8,391.8 L1260.2,393.1 L1258.4,394.4 L1256.2,395.6 L1253.7,396.6 L1251.0,397.6 L1248.1,398.7 L1245.2,399.8 L1242.5,401.0 L1239.9,402.4 L1237.2,404.0 L1234.6,405.7 L1232.0,407.3 L1229.3,408.9 L1226.7,410.3 L1224.1,411.6 L1221.4,412.7 L1218.8,413.8 L1216.2,414.8 L1213.5,415.7 L1210.9,416.6 L1208.3,417.4 L1205.6,418.2 L1203.0,418.9 L1200.3,419.6 L1197.6,420.1 L1195.0,420.4 L1192.4,420.6 L1189.7,420.6 L1187.1,420.5 L1184.5,420.4 L1181.8,420.1 L1179.2,419.8 L1176.6,419.5 L1173.9,419.1 L1171.3,418.7 L1168.7,418.1 L1166.0,417.4 L1163.4,416.6 L1160.8,415.6 L1158.1,414.3 L1155.5,412.9 L1152.8,411.5 L1150.1,410.1 L1147.5,408.7 L1144.9,407.4 L1142.2,406.0 L1139.6,404.7 L1137.0,403.3 L1134.3,402.0 L1131.7,400.8 L1129.0,399.6 L1126.2,398.4 L1123.4,397.2 L1120.7,396.2 L1118.1,395.2 L1115.8,394.4 L1113.8,393.8 L1112.0,393.4 L1110.3,393.1 L1108.7,392.8 L1107.2,392.6 L1105.5,392.3Z" fill="#fcfefc" stroke="#121212" stroke-width="0.95"/><path d="M1105.5,368.3 C1107,374 1107.3,386 1105.5,392.3" fill="none" stroke="#121212" stroke-width="0.9"/><path d="M1106.0,383.4 L1108.9,383.5 L1111.7,383.6 L1114.5,383.7 L1117.4,383.8 L1120.5,384.0 L1123.8,384.3 L1127.4,384.8 L1131.3,385.5 L1135.3,386.2 L1139.4,387.0 L1143.5,387.6 L1147.5,388.2 L1151.5,388.6 L1155.4,389.0 L1159.4,389.2 L1163.4,389.5 L1167.3,389.6 L1171.3,389.8 L1175.3,389.9 L1179.2,390.1 L1183.2,390.2 L1187.1,390.2 L1191.0,390.1 L1195.0,389.9 L1199.0,389.6 L1202.9,389.2 L1206.9,388.8 L1210.9,388.2 L1214.8,387.5 L1218.8,386.6 L1222.9,385.5 L1227.0,384.2 L1231.2,382.8 L1235.3,381.4 L1239.1,379.9 L1242.5,378.6 L1245.5,377.3 L1248.2,376.1 L1250.6,374.9 L1252.9,373.7 L1255.0,372.6 L1257.0,371.5 L1258.9,370.5 L1260.5,369.6 L1262.0,368.8 L1263.4,368.0 L1264.8,367.1 L1266.3,366.3" fill="none" stroke="#111" stroke-width="1.6"/><path d="M1141.3,355.2 Q1153.3,360.6 1165.4,368.4" fill="none" stroke="#2a2a2a" stroke-width="0.8"/><path d="M1145.8,354.0 Q1159.0,359.6 1172.2,367.6" fill="none" stroke="#2a2a2a" stroke-width="0.8"/><path d="M1149.6,353.1 Q1162.4,356.9 1175.2,363.1" fill="none" stroke="#2a2a2a" stroke-width="0.8"/><path d="M1159.4,350.8 Q1168.8,353.9 1178.3,359.3" fill="none" stroke="#2a2a2a" stroke-width="0.8"/><path d="M1164.7,349.7 Q1173.8,352.2 1182.8,357.1" fill="none" stroke="#2a2a2a" stroke-width="0.8"/><path d="M1170.7,348.0 Q1179.0,349.8 1187.3,354.0" fill="none" stroke="#2a2a2a" stroke-width="0.8"/><path d="M1178.3,346.1 Q1187.3,347.4 1196.4,351.0" fill="none" stroke="#2a2a2a" stroke-width="0.8"/><path d="M1182.8,344.8 Q1191.4,346.4 1200.1,350.3" fill="none" stroke="#2a2a2a" stroke-width="0.8"/><path d="M1189.6,343.1 Q1197.5,344.2 1205.4,347.6" fill="none" stroke="#2a2a2a" stroke-width="0.8"/><path d="M1197.9,340.8 Q1206.2,343.0 1214.5,347.6" fill="none" stroke="#2a2a2a" stroke-width="0.8"/><path d="M1201.6,350.3 Q1208.0,353.6 1214.5,359.3" fill="none" stroke="#2a2a2a" stroke-width="0.8"/><path d="M1204.7,348.4 Q1214.5,350.9 1224.3,355.9" fill="none" stroke="#2a2a2a" stroke-width="0.8"/><path d="M1211.4,346.9 Q1220.5,347.8 1229.5,351.0" fill="none" stroke="#2a2a2a" stroke-width="0.8"/><path d="M1216.7,344.6 Q1223.3,344.9 1230.0,347.6" fill="none" stroke="#2a2a2a" stroke-width="0.8"/><path d="M1165.4,368.4 Q1169.3,369.2 1172.2,367.6" fill="none" stroke="#2a2a2a" stroke-width="0.8"/><path d="M1175.2,363.1 Q1177.2,362.4 1178.3,359.3" fill="none" stroke="#2a2a2a" stroke-width="0.8"/><path d="M1182.8,357.1 Q1185.5,356.8 1187.3,354.0" fill="none" stroke="#2a2a2a" stroke-width="0.8"/><path d="M1214.5,359.3 Q1219.9,358.8 1224.3,355.9" fill="none" stroke="#2a2a2a" stroke-width="0.8"/><path d="M1220,369 C1226,381 1227,396 1226,410" fill="none" stroke="#333" stroke-width="0.8"/><path d="M1232,346 C1240,358 1242,390 1241,404" fill="none" stroke="#333" stroke-width="0.8"/><path d="M1238,343 C1247,355 1250,385 1249,399" fill="none" stroke="#333" stroke-width="0.8"/><path d="M1247,340 C1256,352 1258,380 1257,394" fill="none" stroke="#333" stroke-width="0.8"/><path d="M1256,345 C1263,357 1264,374 1263,388" fill="none" stroke="#333" stroke-width="0.8"/><path d="M1262,372 C1266,365 1270,358 1276,350 M1266,372 L1290,360 M1268,378 L1293,366" fill="none" stroke="#333" stroke-width="0.8"/><path d="M1270,357.5 L1281,354.8 L1283.5,362 L1271.5,367Z" fill="#fcfefc" stroke="#121212" stroke-width="0.85"/><path d="M1243,329.5 C1244,327 1247,326.5 1249,328 M1280,353 C1283,350 1287,351 1288,354 M1290,358 C1294,357.5 1296,360 1295,363" fill="none" stroke="#121212" stroke-width="0.8"/><path d="M1255,333 L1259,338 L1265,340 M1223.5,336.2 L1226,340 M1205,339 L1206,343" fill="none" stroke="#333" stroke-width="0.8"/><path d="M915.5,294.2 C916.5,292.5 918.5,292.2 920.5,293 L935,302.8 C938.5,305 939.8,307.5 939.5,311 L938.8,320.5 C941,324 942.6,330 942.5,337.5 C942.3,342.5 941,346.5 938,347.5 C935.5,348 933,346 931.5,343.5 L926.5,337 L914,329.5 L926,333 L915.5,321 C914.2,318 913.6,314 913.6,310Z" fill="#9ba7b8" stroke="#6d798a" stroke-width="0.8"/><path d="M918,298 L934,307 C936,309 936.5,312 936,318 L930,316 L917,309Z" fill="#8693a4"/><path d="M912,320.2 C910,321 910,323.5 911.5,325 L928,335.5 C931,337 933.5,335 932.5,332 L915,321Z" fill="#b5c1d1" stroke="#6d798a" stroke-width="0.7"/><path d="M937,322 C940.5,327 941.5,336 939.5,344 C938,346.5 935.5,346 934,343.5 C936.5,337 937,329 935,323Z" fill="#7f8b9c"/><circle cx="917.5" cy="302" r="1.2" fill="#e8ecf2"/><circle cx="924" cy="306.5" r="1.2" fill="#e8ecf2"/><circle cx="930.5" cy="311" r="1.2" fill="#e8ecf2"/><path d="M900.5,369.0 L910.5,359.0 L924.9,370.1 L913.4,383.0Z" fill="#8e9aab" stroke="#8e9aab" stroke-width="7" stroke-linejoin="round"/><path d="M903.0,368.0 L912.0,359.0 L925.0,369.0 L914.6,380.6Z" fill="#a7b3c3" stroke="#a7b3c3" stroke-width="6" stroke-linejoin="round"/><path d="M907.2,369.1 L912.8,363.4 L920.9,369.7 L914.4,376.9Z" fill="#96a2b3" stroke="#7d8999" stroke-width="0.8"/><path d="M907.2,369.1 L914.0,369.4 L912.8,363.4" stroke="#66727f" stroke-width="1.6" fill="none"/><circle cx="902.5" cy="368.5" r="1.5" fill="#c3cedb"/><circle cx="924.5" cy="369.5" r="1.5" fill="#c3cedb"/><path d="M1173.3,228.2 L1184.8,216.5 L1198.7,229.4 L1186.4,241.2Z" fill="#8e9aab" stroke="#8e9aab" stroke-width="7" stroke-linejoin="round"/><path d="M1175.9,227.1 L1186.2,216.6 L1198.7,228.2 L1187.7,238.9Z" fill="#a7b3c3" stroke="#a7b3c3" stroke-width="6" stroke-linejoin="round"/><path d="M1180.3,227.9 L1186.7,221.4 L1194.5,228.6 L1187.7,235.3Z" fill="#96a2b3" stroke="#7d8999" stroke-width="0.8"/><path d="M1180.3,227.9 L1187.4,228.3 L1186.7,221.4" stroke="#66727f" stroke-width="1.6" fill="none"/><circle cx="1175.4" cy="227.6" r="1.5" fill="#c3cedb"/><circle cx="1198.2" cy="228.7" r="1.5" fill="#c3cedb"/><path d="M1283.7,295.6 L1295.1,284.7 L1308.7,296.7 L1298.4,309.7Z" fill="#8e9aab" stroke="#8e9aab" stroke-width="7" stroke-linejoin="round"/><path d="M1286.3,294.6 L1296.6,284.8 L1308.8,295.6 L1299.5,307.3Z" fill="#a7b3c3" stroke="#a7b3c3" stroke-width="6" stroke-linejoin="round"/><path d="M1290.8,295.6 L1297.2,289.4 L1304.9,296.2 L1299.1,303.5Z" fill="#96a2b3" stroke="#7d8999" stroke-width="0.8"/><path d="M1290.8,295.6 L1297.8,295.9 L1297.2,289.4" stroke="#66727f" stroke-width="1.6" fill="none"/><circle cx="1285.8" cy="295.1" r="1.5" fill="#c3cedb"/><circle cx="1308.3" cy="296.1" r="1.5" fill="#c3cedb"/><path d="M923.5,387.5 C922,389 923,391.5 925,391.5 L930,390.5 L929,386.5 Z" fill="#fcfefc" stroke="#121212" stroke-width="0.8"/><path d="M1210,232.3 L1225,240.3" stroke="#7f8b9c" stroke-width="6" stroke-linecap="round"/><path d="M1210,232.3 L1225,240.3" stroke="#a9b5c6" stroke-width="4.2" stroke-linecap="round"/><path d="M1268.5,265 L1285.6,277.4" stroke="#7f8b9c" stroke-width="6" stroke-linecap="round"/><path d="M1268.5,265 L1285.6,277.4" stroke="#a9b5c6" stroke-width="4.2" stroke-linecap="round"/><path d="M1224.5,237.6 L1236,238.8 L1244,240.8 L1253,245.5 L1262,255.5 L1268.5,266.5 L1267.5,275 L1264.5,275.3 L1245,258.5 L1228,247.5 L1223.5,243Z" fill="#8e9aab" stroke="#76828f" stroke-width="0.6"/><path d="M1225.5,238.5 L1244,241 L1253,246 L1256,252 L1246,250 L1236,246.5 L1227,243Z" fill="#aab6c6"/><ellipse cx="1243.5" cy="245.5" rx="2.6" ry="1.2" fill="#7d8999"/><path d="M1253.5,234.1 L1263.3,232.2 L1269.4,235.6 L1270.1,253.7 L1266.4,257.4 L1253.5,258.2Z" fill="#9eaabb" stroke="#76828f" stroke-width="0.6"/><path d="M1263.3,232.6 L1269.4,235.6 L1270.1,253.7 L1266.4,257.4 L1265.5,236Z" fill="#8390a1"/><circle cx="1259.2" cy="239.2" r="2.2" fill="#eef2f6"/><path d="M1269.5,249.5 L1281,252.3 L1289.5,253.2" fill="none" stroke="#7d8999" stroke-width="3.2" stroke-linecap="round"/><path d="M1269.5,249.5 L1281,252.3 L1289.5,253.2" fill="none" stroke="#a3afbf" stroke-width="1.6" stroke-linecap="round"/><path d="M1281.5,253 L1281,261.5 L1275,262.5" fill="none" stroke="#7d8999" stroke-width="2.4" stroke-linecap="round"/><circle cx="1287.5" cy="253.5" r="2" fill="none" stroke="#7d8999" stroke-width="1"/><path d="M1256,259 L1266,262 L1269,270 L1262,268Z" fill="#7c8899"/><path d="M883,304.3 L899,302.8 C901.3,303.5 901.3,310.8 899,311.8 L883.5,313.5Z" fill="#fcfefc" stroke="#121212" stroke-width="0.85"/><path d="M887,303.4 C885.7,306.5 885.7,310 887,312.8" fill="none" stroke="#333" stroke-width="0.75"/><path d="M890,303.2 C888.7,306.5 888.7,310 890,312.5" fill="none" stroke="#333" stroke-width="0.75"/><path d="M893,302.9 C891.7,306.5 891.7,310 893,312.2" fill="none" stroke="#333" stroke-width="0.75"/><path d="M896,302.6 C894.7,306.5 894.7,310 896,311.9" fill="none" stroke="#333" stroke-width="0.75"/><path d="M869,308 L872.5,302.8 L879.5,302.3 L884,306.5 L884,315.5 L880.5,320.5 L873.5,320.8 L869.2,316.5Z" fill="#fcfefc" stroke="#121212" stroke-width="0.85"/><ellipse cx="876.5" cy="311.5" rx="4.8" ry="8" transform="rotate(0 876.5 311.5)" fill="none" stroke="#121212" stroke-width="0.8"/><path d="M869,312 L884,311" fill="none" stroke="#444" stroke-width="0.6"/><path d="M1278.5,232 C1277,230.5 1278.5,228.8 1280.5,229.5 L1289,235.5 L1285.5,240.5 L1278.3,234.5Z" fill="#fcfefc" stroke="#121212" stroke-width="0.8"/><path d="M1280,231 L1279.3,234.8 M1282.3,232.3 L1281.4,236.4 M1284.5,233.8 L1283.6,238" fill="none" stroke="#333" stroke-width="0.75"/><ellipse cx="1291.5" cy="239.8" rx="6.5" ry="6.9" transform="rotate(0 1291.5 239.8)" fill="#fcfefc" stroke="#121212" stroke-width="0.85"/><ellipse cx="1291.8" cy="239.8" rx="4.2" ry="4.6" transform="rotate(0 1291.8 239.8)" fill="none" stroke="#121212" stroke-width="0.7"/><path d="M1289.5,237.5 L1294,238 L1293,242 L1290,242Z M1291.5,236.5 L1291.8,243" fill="none" stroke="#222" stroke-width="0.8"/><ellipse cx="757.5" cy="497.5" rx="13.8" ry="12.6" transform="rotate(-20 757.5 497.5)" fill="#fcfefc" stroke="#121212" stroke-width="0.95"/><ellipse cx="757.8" cy="497.3" rx="12" ry="10.8" transform="rotate(-20 757.8 497.3)" fill="none" stroke="#121212" stroke-width="0.8"/><ellipse cx="758.5" cy="497.6" rx="9.6" ry="9.2" transform="rotate(-20 758.5 497.6)" fill="none" stroke="#121212" stroke-width="0.8"/><ellipse cx="759.5" cy="497.4" rx="7.6" ry="7.8" transform="rotate(-20 759.5 497.4)" fill="none" stroke="#121212" stroke-width="0.85"/><path d="M739,500 C738,501.5 739,503.5 741,503 L751,505 L751.5,501.5Z" fill="#fcfefc" stroke="#121212" stroke-width="0.8"/><path d="M752.8,508.5 L752.8,516.5 C753.5,517.6 755.8,517.6 756.3,516.5 L756.3,508.5Z" fill="#fcfefc" stroke="#121212" stroke-width="0.8"/><path d="M768.6,517.7 L769.0,516.4 L769.3,515.0 L769.6,513.7 L770.0,512.3 L770.5,511.1 L771.0,510.0 L771.6,509.0 L772.2,508.2 L773.0,507.4 L773.8,506.7 L774.7,506.1 L775.8,505.5 L777.1,505.0 L778.5,504.6 L780.1,504.2 L781.7,504.0 L783.5,503.8 L785.3,503.8 L787.3,503.9 L789.5,504.1 L791.8,504.5 L794.1,504.9 L796.2,505.5 L798.0,506.3 L799.4,507.3 L800.6,508.6 L801.6,510.1 L802.5,511.6 L803.4,512.9 L804.4,514.0 L805.5,514.9 L806.7,515.8 L807.8,516.6 L808.9,517.2 L809.9,517.4 L810.8,517.3 L811.5,516.6 L812.0,515.4 L812.4,513.8 L812.7,512.2 L813.2,510.8 L813.9,509.8 L814.8,509.1 L816.0,508.6 L817.2,508.3 L818.4,508.1 L819.5,508.2 L820.3,508.6 L820.9,509.3 L821.3,510.3 L821.6,511.5 L821.8,512.9 L821.9,514.4 L822.0,516.0 L822.0,517.7 L822.0,519.5 L821.9,521.5 L821.7,523.5 L821.5,525.4 L821.1,527.2 L820.8,528.9 L820.4,530.5 L820.0,532.1 L819.4,533.7 L818.5,535.1 L817.1,536.5 L815.1,537.8 L812.6,539.0 L809.7,540.1 L806.7,541.1 L803.8,542.1 L801.2,543.1 L798.9,544.0 L796.6,544.9 L794.5,545.8 L792.4,546.6 L790.4,547.3 L788.5,547.9 L786.7,548.5 L785.0,549.0 L783.5,549.5 L781.9,549.8 L780.5,549.8 L779.0,549.6 L777.5,549.1 L776.1,548.3 L774.6,547.3 L773.3,546.0 L772.0,544.6 L771.0,543.1 L770.2,541.3 L769.5,539.3 L769.0,537.1 L768.6,534.9 L768.1,532.6 L767.6,530.4Z" fill="#fcfefc" stroke="#121212" stroke-width="0.95"/><circle cx="791.8" cy="520.8" r="10.2" fill="#fcfefc" stroke="#1e1e1e" stroke-width="0.9"/><path d="M787.5,533 L787.5,519 C787.5,512.5 797,512.5 797,519 L797,531 M790.2,532 L790.2,520 C790.2,516.5 794.3,516.5 794.3,520 L794.3,531" fill="none" stroke="#121212" stroke-width="0.9"/><path d="M779.5,533.5 L797.5,532 L798.5,541.5 L780,545Z" fill="#fcfefc" stroke="#121212" stroke-width="0.9"/><path d="M784,534 L784.5,544 M790,533.5 L790.5,543 M793.5,533.5 L794,542.5" fill="none" stroke="#222" stroke-width="0.9"/><path d="M803.5,537.8 L818,531 M806,515 L806,540 M813.5,509 L813.5,516 L817.5,516.5" fill="none" stroke="#333" stroke-width="0.8"/><ellipse cx="817.3" cy="512.8" rx="2.8" ry="3.6" transform="rotate(0 817.3 512.8)" fill="none" stroke="#121212" stroke-width="0.85"/><path d="M770,512 C773,508 777,507 779,510 L780,530 C778,538 776,545 772,543 C769,537 768.5,522 770,512Z" fill="#8a8a8a" stroke="#1e1e1e" stroke-width="0.9"/><path d="M772,516 L777,515 M771,522 L778,521 M771.5,528 L778,527 M773,534 L777.5,533" fill="none" stroke="#222" stroke-width="1.0"/><ellipse cx="774.5" cy="509.5" rx="2.6" ry="2.6" transform="rotate(0 774.5 509.5)" fill="#fcfefc" stroke="#121212" stroke-width="0.9"/><ellipse cx="784" cy="546.5" rx="2.2" ry="2.2" transform="rotate(0 784 546.5)" fill="#fcfefc" stroke="#121212" stroke-width="0.9"/><path d="M797.5,555.3 C795.5,556.5 795.5,560 797.5,561 L810.5,567.5 L813.5,562 L800,555.2Z" fill="#fcfefc" stroke="#121212" stroke-width="0.85"/><path d="M800.5,558.1 L798.7,562.6" fill="none" stroke="#333" stroke-width="0.8"/><path d="M803.5,559.4 L801.7,563.9" fill="none" stroke="#333" stroke-width="0.8"/><path d="M806.5,560.8 L804.7,565.3" fill="none" stroke="#333" stroke-width="0.8"/><path d="M809.5,562.1 L807.7,566.6" fill="none" stroke="#333" stroke-width="0.8"/><ellipse cx="817.8" cy="571" rx="7.3" ry="8.6" transform="rotate(-20 817.8 571)" fill="#fcfefc" stroke="#121212" stroke-width="0.9"/><ellipse cx="813.6" cy="569" rx="3.8" ry="7.7" transform="rotate(-20 813.6 569)" fill="none" stroke="#121212" stroke-width="0.8"/><path d="M818.5,566.5 L820.5,569 L819.5,572.5 L817,574.5 L815.5,571.5 L816.5,568Z" fill="none" stroke="#222" stroke-width="0.85"/><path d="M564,622.5 L575.5,618.5 L584.5,619.5 L587,627.5 L585.5,630 L573,633.2 L566.5,632.5 L565,627.5Z" fill="#d0d0d0" stroke="#121212" stroke-width="1.0"/><path d="M566,624 L575,620.5 L576,630 M570,626 L575,624 M579,622 L583,621.5 M578,627 L584.5,626 M567,629 L570,631" fill="none" stroke="#222" stroke-width="0.85"/><ellipse cx="580" cy="625" rx="2.3" ry="2.6" transform="rotate(0 580 625)" fill="none" stroke="#121212" stroke-width="0.8"/><path d="M535.0,655.8 L538.3,655.5 L541.7,655.2 L545.1,654.8 L548.4,654.5 L551.7,654.2 L555.0,653.8 L558.1,653.4 L561.1,653.0 L564.1,652.5 L567.1,652.0 L570.2,651.5 L573.6,651.0 L577.3,650.4 L581.4,649.8 L585.6,649.1 L589.8,648.5 L593.8,647.9 L597.4,647.5 L600.7,647.2 L603.7,646.9 L606.6,646.7 L609.2,646.6 L611.7,646.6 L614.0,646.6 L616.1,646.7 L617.9,646.9 L619.5,647.2 L621.1,647.5 L622.5,647.9 L624.0,648.5 L625.4,649.2 L626.8,649.9 L628.1,650.8 L629.4,651.8 L630.7,652.8 L632.0,654.0 L633.4,655.3 L634.8,656.7 L636.2,658.2 L637.5,659.8 L638.8,661.4 L640.0,663.0 L641.1,664.6 L642.2,666.2 L643.2,667.8 L644.1,669.4 L644.9,671.0 L645.5,672.5 L646.0,674.0 L646.4,675.5 L646.7,677.0 L646.9,678.4 L646.9,679.8 L646.8,681.0 L646.6,682.1 L646.2,683.2 L645.7,684.1 L645.1,685.0 L644.3,685.8 L643.5,686.5 L642.5,687.1 L641.3,687.6 L640.0,687.9 L638.7,688.3 L637.3,688.6 L636.0,689.0" fill="none" stroke="#121212" stroke-width="4.6" stroke-linecap="round" stroke-linejoin="round"/><path d="M535.0,655.8 L538.3,655.5 L541.7,655.2 L545.1,654.8 L548.4,654.5 L551.7,654.2 L555.0,653.8 L558.1,653.4 L561.1,653.0 L564.1,652.5 L567.1,652.0 L570.2,651.5 L573.6,651.0 L577.3,650.4 L581.4,649.8 L585.6,649.1 L589.8,648.5 L593.8,647.9 L597.4,647.5 L600.7,647.2 L603.7,646.9 L606.6,646.7 L609.2,646.6 L611.7,646.6 L614.0,646.6 L616.1,646.7 L617.9,646.9 L619.5,647.2 L621.1,647.5 L622.5,647.9 L624.0,648.5 L625.4,649.2 L626.8,649.9 L628.1,650.8 L629.4,651.8 L630.7,652.8 L632.0,654.0 L633.4,655.3 L634.8,656.7 L636.2,658.2 L637.5,659.8 L638.8,661.4 L640.0,663.0 L641.1,664.6 L642.2,666.2 L643.2,667.8 L644.1,669.4 L644.9,671.0 L645.5,672.5 L646.0,674.0 L646.4,675.5 L646.7,677.0 L646.9,678.4 L646.9,679.8 L646.8,681.0 L646.6,682.1 L646.2,683.2 L645.7,684.1 L645.1,685.0 L644.3,685.8 L643.5,686.5 L642.5,687.1 L641.3,687.6 L640.0,687.9 L638.7,688.3 L637.3,688.6 L636.0,689.0" fill="none" stroke="#fcfefc" stroke-width="2.6" stroke-linecap="round" stroke-linejoin="round"/><path d="M621.5,686.5 L640.5,686.2 C643,686.5 643.5,691 641,691.3 L621.5,691.3 C619.5,691 619.5,686.8 621.5,686.5Z" fill="#fcfefc" stroke="#121212" stroke-width="0.85"/><ellipse cx="621.3" cy="689" rx="1.7" ry="2.5" transform="rotate(0 621.3 689)" fill="#fcfefc" stroke="#121212" stroke-width="0.8"/><path d="M613,694.5 L630.5,707.5" fill="none" stroke="#222" stroke-width="1.4"/><path d="M614.5,697.5 L630,707.8" fill="none" stroke="#222" stroke-width="0.7"/><path d="M606,690 C607,687 612,686.5 616,688.5 C619,690.5 619.5,695 617,698 C614,700 609,699.5 607,697 C605.5,695 605.3,692 606,690Z" fill="#555" stroke="#111" stroke-width="0.9"/><path d="M608,690 L614,697 M611,688.5 L616.5,694" fill="none" stroke="#bbb" stroke-width="1.0"/><path d="M605,689.5 C603.5,692 604,696 606,698" fill="none" stroke="#121212" stroke-width="0.8"/><path d="M522,653 L531,650.5 L536,653.5 L536,658.5 L530,661 L522.5,660.5 Z" fill="#fcfefc" stroke="#121212" stroke-width="0.85"/><path d="M523.5,654 L530,652.5 L533.5,655 L532.5,659 L525,659.5Z" fill="#2a2a2a"/><path d="M525.5,654.5 L526.5,659 M529,653.5 L530,658.5" fill="none" stroke="#ddd" stroke-width="0.9"/>
<rect x="0.5" y="0.5" width="100.5" height="100.5" fill="none" stroke="#8a94a2" stroke-width="1"/>
<rect x="1186.5" y="9.5" width="126" height="34" fill="none" stroke="#8a94a2" stroke-width="1"/>
<rect x="8.75" y="408.5" width="49.5" height="28" fill="none" stroke="#ff0000" stroke-width="5.5"/>
<g font-family="Liberation Sans, sans-serif" font-size="23" fill="#000" filter="url(#gs)"><text x="28.8" y="87.5">800</text><text x="1220.6" y="34.7">M656</text><text x="94.2" y="311.6">740</text><text x="203.0" y="347.2">760</text><text x="31.1" y="373.5">750</text><text x="125.0" y="403.1">430</text><text x="172.4" y="425.5">437</text><text x="209.8" y="445.7">445</text><text x="14.0" y="430.0">400</text><text x="12.2" y="468.8">410</text><text x="91.4" y="473.1">435</text><text x="120.8" y="501.8">440</text><text x="289.6" y="487.5">420</text><text x="493.3" y="471.7">495</text><text x="667.6" y="429.0">500</text><text x="849.7" y="474.0">550</text><text x="695.4" y="512.8">520</text><text x="726.5" y="554.4">510</text><text x="796.6" y="600.2">530</text><text x="850.0" y="293.7">560</text><text x="947.5" y="315.7">570</text><text x="852.0" y="377.5">770</text><text x="1132.4" y="253.3">770</text><text x="1219.8" y="225.6">780</text><text x="1277.3" y="222.5">790</text><text x="1236.9" y="315.2">770</text><text x="1170.2" y="452.7">600</text><text x="559.4" y="607.7">585</text><text x="568.4" y="678.4">580</text><text x="193.1" y="594.3">450</text><text x="310.6" y="577.2">470</text><text x="171.4" y="635.0">480</text><text x="378.8" y="638.0">490</text><text x="260.6" y="668.3">460</text><text x="379.6" y="725.3">420</text></g>
</svg>
</body></html>
